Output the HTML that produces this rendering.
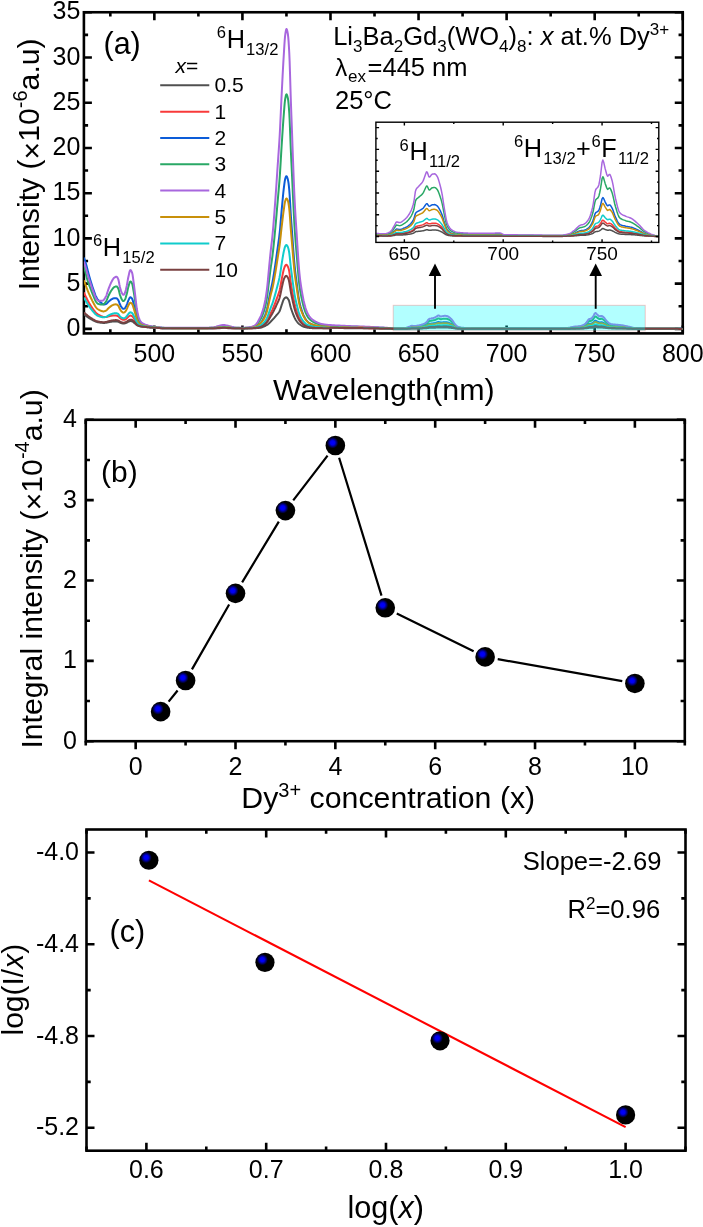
<!DOCTYPE html>
<html><head><meta charset="utf-8"><style>html,body{margin:0;padding:0;background:#fff;overflow:hidden;}svg{display:block;will-change:transform;}</style></head>
<body><svg width="703" height="1227" viewBox="0 0 703 1227" font-family='"Liberation Sans", sans-serif'>
<rect width="703" height="1227" fill="#fff"/>
<defs><clipPath id="ca"><rect x="83.9" y="12.25" width="598.85" height="321.15"/></clipPath>
<clipPath id="ci"><rect x="375.9" y="122.2" width="282.9" height="120.2"/></clipPath>
<radialGradient id="ball" cx="0.36" cy="0.36" r="0.5" fx="0.36" fy="0.36"><stop offset="0" stop-color="#0000ff"/><stop offset="0.22" stop-color="#0000ee"/><stop offset="0.58" stop-color="#000000"/><stop offset="1" stop-color="#000"/></radialGradient></defs>
<rect x="83.9" y="12.25" width="598.85" height="321.15" fill="none" stroke="#000" stroke-width="2.6"/>
<path d="M154.35 333.4V325.4M242.42 333.4V325.4M330.49 333.4V325.4M418.55 333.4V325.4M506.62 333.4V325.4M594.68 333.4V325.4M682.75 333.4V325.4" stroke="#000" stroke-width="2.6" fill="none"/>
<path d="M110.32 333.4V329.2M198.39 333.4V329.2M286.45 333.4V329.2M374.52 333.4V329.2M462.58 333.4V329.2M550.65 333.4V329.2M638.72 333.4V329.2" stroke="#000" stroke-width="2.6" fill="none"/>
<path d="M154.35 12.25V20.25M242.42 12.25V20.25M330.49 12.25V20.25M418.55 12.25V20.25M506.62 12.25V20.25M594.68 12.25V20.25M682.75 12.25V20.25" stroke="#000" stroke-width="2.6" fill="none"/>
<path d="M110.32 12.25V16.45M198.39 12.25V16.45M286.45 12.25V16.45M374.52 12.25V16.45M462.58 12.25V16.45M550.65 12.25V16.45M638.72 12.25V16.45" stroke="#000" stroke-width="2.6" fill="none"/>
<path d="M83.9 328.88H91.9M83.9 283.64H91.9M83.9 238.41H91.9M83.9 193.18H91.9M83.9 147.95H91.9M83.9 102.71H91.9M83.9 57.48H91.9M83.9 12.25H91.9" stroke="#000" stroke-width="2.6" fill="none"/>
<path d="M83.9 306.26H88.1M83.9 261.03H88.1M83.9 215.8H88.1M83.9 170.56H88.1M83.9 125.33H88.1M83.9 80.1H88.1M83.9 34.87H88.1" stroke="#000" stroke-width="2.6" fill="none"/>
<path d="M682.75 328.88H674.75M682.75 283.64H674.75M682.75 238.41H674.75M682.75 193.18H674.75M682.75 147.95H674.75M682.75 102.71H674.75M682.75 57.48H674.75M682.75 12.25H674.75" stroke="#000" stroke-width="2.6" fill="none"/>
<path d="M682.75 306.26H678.55M682.75 261.03H678.55M682.75 215.8H678.55M682.75 170.56H678.55M682.75 125.33H678.55M682.75 80.1H678.55M682.75 34.87H678.55" stroke="#000" stroke-width="2.6" fill="none"/>
<g clip-path="url(#ca)" fill="none" stroke-width="2" stroke-linejoin="round">
<path d="M83.9,314.25 L84.25,314.53 L84.6,314.81 L84.96,315.09 L85.31,315.36 L85.66,315.63 L86.01,315.9 L86.37,316.16 L86.72,316.42 L87.07,316.67 L87.42,316.93 L87.77,317.18 L88.13,317.42 L88.48,317.66 L88.83,317.88 L89.18,318.11 L89.54,318.32 L89.89,318.53 L90.24,318.74 L90.59,318.95 L90.95,319.15 L91.3,319.35 L91.65,319.55 L92,319.74 L92.35,319.93 L92.71,320.12 L93.06,320.31 L93.41,320.48 L93.76,320.66 L94.12,320.84 L94.47,321.02 L94.82,321.19 L95.17,321.35 L95.52,321.5 L95.88,321.64 L96.23,321.76 L96.58,321.87 L96.93,321.98 L97.29,322.08 L97.64,322.17 L97.99,322.24 L98.34,322.31 L98.7,322.37 L99.05,322.43 L99.4,322.49 L99.75,322.54 L100.1,322.59 L100.46,322.64 L100.81,322.68 L101.16,322.73 L101.51,322.77 L101.87,322.8 L102.22,322.84 L102.57,322.87 L102.92,322.91 L103.27,322.93 L103.63,322.93 L103.98,322.93 L104.33,322.92 L104.68,322.9 L105.04,322.87 L105.39,322.84 L105.74,322.81 L106.09,322.77 L106.44,322.71 L106.8,322.64 L107.15,322.56 L107.5,322.47 L107.85,322.38 L108.21,322.3 L108.56,322.23 L108.91,322.16 L109.26,322.09 L109.62,322.02 L109.97,321.95 L110.32,321.88 L110.67,321.82 L111.02,321.77 L111.38,321.72 L111.73,321.67 L112.08,321.62 L112.43,321.57 L112.79,321.53 L113.14,321.49 L113.49,321.46 L113.84,321.43 L114.19,321.42 L114.55,321.41 L114.9,321.4 L115.25,321.4 L115.6,321.39 L115.96,321.39 L116.31,321.4 L116.66,321.42 L117.01,321.46 L117.37,321.52 L117.72,321.6 L118.07,321.69 L118.42,321.79 L118.77,321.95 L119.13,322.15 L119.48,322.36 L119.83,322.53 L120.18,322.68 L120.54,322.82 L120.89,322.95 L121.24,323.07 L121.59,323.16 L121.94,323.25 L122.3,323.33 L122.65,323.4 L123,323.45 L123.35,323.47 L123.71,323.47 L124.06,323.44 L124.41,323.39 L124.76,323.34 L125.11,323.27 L125.47,323.17 L125.82,323.04 L126.17,322.89 L126.52,322.73 L126.88,322.56 L127.23,322.37 L127.58,322.16 L127.93,321.95 L128.29,321.77 L128.64,321.62 L128.99,321.46 L129.34,321.31 L129.69,321.19 L130.05,321.1 L130.4,321.07 L130.75,321.09 L131.1,321.14 L131.46,321.21 L131.81,321.29 L132.16,321.39 L132.51,321.55 L132.86,321.78 L133.22,322.06 L133.57,322.34 L133.92,322.61 L134.27,322.9 L134.63,323.2 L134.98,323.51 L135.33,323.81 L135.68,324.12 L136.04,324.45 L136.39,324.77 L136.74,325.04 L137.09,325.25 L137.44,325.43 L137.8,325.6 L138.15,325.76 L138.5,325.9 L138.85,326.02 L139.21,326.12 L139.56,326.2 L139.91,326.28 L140.26,326.34 L140.61,326.42 L140.97,326.49 L141.32,326.55 L141.67,326.6 L142.02,326.65 L142.38,326.7 L142.73,326.74 L143.08,326.79 L143.43,326.83 L143.78,326.87 L144.14,326.91 L144.49,326.94 L144.84,326.98 L145.19,327.02 L145.55,327.05 L145.9,327.08 L146.25,327.12 L146.6,327.15 L146.96,327.18 L147.31,327.21 L147.66,327.24 L148.01,327.27 L148.36,327.3 L148.72,327.33 L149.07,327.36 L149.42,327.39 L149.77,327.42 L150.13,327.45 L150.48,327.48 L150.83,327.51 L151.18,327.53 L151.53,327.56 L151.89,327.59 L152.24,327.61 L152.59,327.64 L152.94,327.67 L153.3,327.69 L153.65,327.72 L154,327.74 L154.35,327.77 L154.71,327.79 L155.06,327.81 L155.41,327.84 L155.76,327.86 L156.11,327.89 L156.47,327.91 L156.82,327.93 L157.17,327.96 L157.52,327.98 L157.88,328 L158.23,328.03 L158.58,328.05 L158.93,328.07 L159.28,328.1 L159.64,328.12 L159.99,328.14 L160.34,328.16 L160.69,328.19 L161.05,328.21 L161.4,328.23 L161.75,328.25 L162.1,328.27 L162.46,328.29 L162.81,328.31 L163.16,328.33 L164.92,328.35 L166.68,328.35 L168.44,328.35 L170.2,328.35 L171.97,328.35 L173.73,328.35 L175.49,328.35 L177.25,328.35 L179.01,328.35 L180.77,328.35 L182.53,328.36 L184.3,328.36 L186.06,328.36 L187.82,328.36 L189.58,328.36 L191.34,328.36 L193.1,328.36 L194.86,328.36 L196.62,328.36 L198.39,328.36 L200.15,328.36 L201.91,328.36 L203.67,328.36 L205.43,328.36 L207.19,328.35 L208.95,328.35 L210.72,328.34 L212.48,328.32 L214.24,328.29 L216,328.25 L217.76,328.2 L219.52,328.15 L221.28,328.1 L223.04,328.08 L224.81,328.08 L226.57,328.11 L228.33,328.16 L230.09,328.21 L231.85,328.26 L233.61,328.3 L235.37,328.32 L237.14,328.34 L238.9,328.35 L240.66,328.36 L242.42,328.36 L242.77,328.42 L243.12,328.42 L243.48,328.42 L243.83,328.42 L244.18,328.42 L244.53,328.42 L244.88,328.41 L245.24,328.41 L245.59,328.41 L245.94,328.4 L246.29,328.4 L246.65,328.4 L247,328.39 L247.35,328.39 L247.7,328.38 L248.06,328.37 L248.41,328.37 L248.76,328.36 L249.11,328.36 L249.46,328.35 L249.82,328.34 L250.17,328.33 L250.52,328.33 L250.87,328.32 L251.23,328.31 L251.58,328.3 L251.93,328.3 L252.28,328.29 L252.63,328.28 L252.99,328.27 L253.34,328.26 L253.69,328.25 L254.04,328.24 L254.4,328.22 L254.75,328.21 L255.1,328.19 L255.45,328.18 L255.81,328.16 L256.16,328.14 L256.51,328.12 L256.86,328.09 L257.21,328.07 L257.57,328.04 L257.92,328.01 L258.27,327.98 L258.62,327.95 L258.98,327.92 L259.33,327.88 L259.68,327.84 L260.03,327.8 L260.38,327.75 L260.74,327.68 L261.09,327.59 L261.44,327.49 L261.79,327.37 L262.15,327.24 L262.5,327.1 L262.85,326.95 L263.2,326.8 L263.56,326.64 L263.91,326.48 L264.26,326.32 L264.61,326.17 L264.96,326 L265.32,325.82 L265.67,325.64 L266.02,325.44 L266.37,325.24 L266.73,325.03 L267.08,324.8 L267.43,324.57 L267.78,324.32 L268.13,324.07 L268.49,323.79 L268.84,323.5 L269.19,323.17 L269.54,322.83 L269.9,322.48 L270.25,322.11 L270.6,321.74 L270.95,321.36 L271.3,320.97 L271.66,320.59 L272.01,320.21 L272.36,319.84 L272.71,319.47 L273.07,319.09 L273.42,318.72 L273.77,318.33 L274.12,317.95 L274.48,317.56 L274.83,317.16 L275.18,316.76 L275.53,316.36 L275.88,315.94 L276.24,315.52 L276.59,315.1 L276.94,314.7 L277.29,314.3 L277.65,313.9 L278,313.47 L278.35,313.03 L278.7,312.54 L279.05,312.01 L279.41,311.42 L279.76,310.75 L280.11,309.89 L280.46,308.87 L280.82,307.75 L281.17,306.59 L281.52,305.44 L281.87,304.36 L282.23,303.38 L282.58,302.34 L282.93,301.3 L283.28,300.33 L283.63,299.53 L283.99,298.96 L284.34,298.55 L284.69,298.17 L285.04,297.84 L285.4,297.58 L285.75,297.41 L286.1,297.34 L286.45,297.41 L286.8,297.6 L287.16,297.89 L287.51,298.28 L287.86,298.73 L288.21,299.23 L288.57,299.76 L288.92,300.53 L289.27,301.65 L289.62,303 L289.97,304.47 L290.33,305.94 L290.68,307.28 L291.03,308.41 L291.38,309.47 L291.74,310.5 L292.09,311.5 L292.44,312.47 L292.79,313.4 L293.15,314.3 L293.5,315.16 L293.85,315.99 L294.2,316.82 L294.55,317.62 L294.91,318.38 L295.26,319.08 L295.61,319.71 L295.96,320.27 L296.32,320.79 L296.67,321.28 L297.02,321.75 L297.37,322.19 L297.72,322.6 L298.08,322.99 L298.43,323.34 L298.78,323.67 L299.13,323.97 L299.49,324.24 L299.84,324.51 L300.19,324.77 L300.54,325.02 L300.9,325.25 L301.25,325.48 L301.6,325.7 L301.95,325.9 L302.3,326.09 L302.66,326.27 L303.01,326.43 L303.36,326.57 L303.71,326.7 L304.07,326.82 L304.42,326.92 L304.77,327.02 L305.12,327.11 L305.47,327.21 L305.83,327.29 L306.18,327.38 L306.53,327.46 L306.88,327.53 L307.24,327.6 L307.59,327.67 L307.94,327.73 L308.29,327.79 L308.64,327.84 L309,327.88 L309.35,327.92 L309.7,327.96 L310.05,327.99 L310.41,328.01 L310.76,328.04 L311.11,328.07 L311.46,328.09 L311.82,328.11 L312.17,328.14 L312.52,328.16 L312.87,328.18 L313.22,328.2 L313.58,328.22 L313.93,328.24 L314.28,328.26 L314.63,328.27 L314.99,328.29 L315.34,328.3 L315.69,328.31 L316.04,328.32 L316.39,328.33 L316.75,328.34 L317.1,328.34 L317.45,328.35 L317.8,328.35 L318.16,328.35 L318.51,328.35 L318.86,328.35 L319.21,328.35 L319.57,328.35 L319.92,328.35 L320.27,328.35 L320.62,328.35 L320.97,328.35 L321.33,328.35 L321.68,328.35 L322.03,328.34 L322.38,328.34 L322.74,328.34 L323.09,328.34 L323.44,328.34 L323.79,328.34 L324.14,328.34 L324.5,328.34 L324.85,328.34 L325.2,328.34 L325.55,328.34 L325.91,328.34 L326.26,328.34 L326.61,328.34 L326.96,328.34 L327.31,328.34 L327.67,328.34 L328.02,328.34 L328.37,328.34 L328.72,328.34 L329.08,328.34 L329.43,328.34 L329.78,328.33 L330.13,328.33 L330.49,328 L332.25,328.01 L334.01,328.03 L335.77,328.05 L337.53,328.07 L339.29,328.08 L341.05,328.1 L342.81,328.11 L344.58,328.13 L346.34,328.14 L348.1,328.15 L349.86,328.17 L351.62,328.18 L353.38,328.2 L355.14,328.21 L356.91,328.22 L358.67,328.24 L360.43,328.25 L362.19,328.26 L363.95,328.27 L365.71,328.29 L367.47,328.3 L369.23,328.32 L371,328.34 L372.76,328.36 L374.52,328.37 L376.28,328.41 L378.04,328.44 L379.8,328.47 L381.56,328.5 L383.33,328.53 L385.09,328.56 L386.85,328.59 L388.61,328.63 L390.37,328.66 L392.13,328.69 L393.89,328.72 L394.6,328.73 L395.3,328.74 L396.01,328.75 L396.71,328.76 L397.42,328.77 L398.12,328.78 L398.82,328.79 L399.53,328.8 L400.23,328.81 L400.94,328.82 L401.64,328.81 L402.35,328.81 L403.05,328.81 L403.76,328.8 L404.46,328.79 L405.17,328.78 L405.87,328.78 L406.57,328.76 L407.28,328.74 L407.98,328.71 L408.69,328.68 L409.39,328.65 L410.1,328.62 L410.8,328.58 L411.51,328.56 L412.21,328.56 L412.92,328.57 L413.62,328.57 L414.32,328.58 L415.03,328.57 L415.73,328.57 L416.44,328.55 L417.14,328.54 L417.85,328.53 L418.55,328.51 L419.26,328.5 L419.96,328.48 L420.67,328.46 L421.37,328.44 L422.07,328.42 L422.78,328.4 L423.48,328.37 L424.19,328.34 L424.89,328.3 L425.6,328.25 L426.3,328.2 L427.01,328.13 L427.71,328.01 L428.41,327.9 L429.12,327.85 L429.82,327.83 L430.53,327.81 L431.23,327.79 L431.94,327.77 L432.64,327.76 L433.35,327.74 L434.05,327.72 L434.76,327.7 L435.46,327.66 L436.16,327.62 L436.87,327.57 L437.57,327.52 L438.28,327.48 L438.98,327.49 L439.69,327.54 L440.39,327.58 L441.1,327.59 L441.8,327.57 L442.51,327.55 L443.21,327.53 L443.91,327.53 L444.62,327.52 L445.32,327.52 L446.03,327.53 L446.73,327.54 L447.44,327.56 L448.14,327.59 L448.85,327.64 L449.55,327.7 L450.26,327.76 L450.96,327.82 L451.66,327.9 L452.37,327.99 L453.07,328.1 L453.78,328.22 L454.48,328.32 L455.19,328.42 L455.89,328.51 L456.6,328.57 L457.3,328.62 L458.01,328.65 L458.71,328.68 L459.41,328.71 L460.12,328.72 L460.82,328.74 L461.53,328.75 L462.23,328.76 L462.94,328.76 L463.64,328.77 L464.35,328.78 L465.05,328.78 L465.75,328.79 L466.46,328.79 L467.16,328.79 L467.87,328.79 L468.57,328.79 L469.28,328.8 L469.98,328.8 L470.69,328.8 L471.39,328.8 L472.1,328.8 L472.8,328.8 L473.5,328.8 L474.21,328.8 L474.91,328.8 L475.62,328.8 L476.32,328.8 L477.03,328.81 L477.73,328.81 L478.44,328.81 L479.14,328.81 L479.85,328.81 L480.55,328.81 L481.25,328.81 L481.96,328.81 L482.66,328.81 L483.37,328.81 L484.07,328.81 L484.78,328.81 L485.48,328.81 L486.19,328.81 L486.89,328.81 L487.6,328.81 L488.3,328.81 L489,328.81 L489.71,328.81 L490.41,328.81 L491.12,328.81 L491.82,328.81 L492.53,328.81 L493.23,328.81 L493.94,328.8 L494.64,328.8 L495.35,328.8 L496.05,328.8 L496.75,328.8 L497.46,328.8 L498.16,328.8 L498.87,328.8 L499.57,328.8 L500.28,328.8 L500.98,328.8 L501.69,328.8 L502.39,328.8 L503.09,328.8 L503.8,328.8 L504.5,328.8 L505.21,328.81 L505.91,328.83 L506.62,328.83 L507.32,328.84 L508.03,328.84 L508.73,328.84 L509.44,328.84 L510.14,328.84 L510.84,328.84 L511.55,328.84 L512.25,328.84 L512.96,328.84 L513.66,328.84 L514.37,328.84 L515.07,328.84 L515.78,328.84 L516.48,328.84 L517.19,328.84 L517.89,328.84 L518.59,328.84 L519.3,328.84 L520,328.84 L520.71,328.84 L521.41,328.84 L522.12,328.84 L522.82,328.84 L523.53,328.84 L524.23,328.84 L524.94,328.84 L525.64,328.84 L526.34,328.84 L527.05,328.84 L527.75,328.84 L528.46,328.84 L529.16,328.84 L529.87,328.84 L530.57,328.84 L531.28,328.84 L531.98,328.84 L532.69,328.84 L533.39,328.85 L534.09,328.85 L534.8,328.85 L535.5,328.85 L536.21,328.85 L536.91,328.85 L537.62,328.85 L538.32,328.85 L539.03,328.85 L539.73,328.85 L540.44,328.85 L541.14,328.85 L541.84,328.85 L542.55,328.85 L543.25,328.85 L543.96,328.85 L544.66,328.85 L545.37,328.85 L546.07,328.85 L546.78,328.85 L547.48,328.85 L548.18,328.85 L548.89,328.85 L549.59,328.85 L550.3,328.85 L551,328.85 L551.71,328.85 L552.41,328.85 L553.12,328.85 L553.82,328.85 L554.53,328.85 L555.23,328.85 L555.93,328.85 L556.64,328.85 L557.34,328.85 L558.05,328.85 L558.75,328.85 L559.46,328.85 L560.16,328.84 L560.87,328.84 L561.57,328.84 L562.28,328.84 L562.98,328.83 L563.68,328.83 L564.39,328.82 L565.09,328.82 L565.8,328.81 L566.5,328.8 L567.21,328.79 L567.91,328.78 L568.62,328.77 L569.32,328.75 L570.03,328.74 L570.73,328.73 L571.43,328.71 L572.14,328.69 L572.84,328.68 L573.55,328.66 L574.25,328.65 L574.96,328.64 L575.66,328.63 L576.37,328.62 L577.07,328.62 L577.78,328.62 L578.48,328.61 L579.18,328.6 L579.89,328.59 L580.59,328.57 L581.3,328.55 L582,328.53 L582.71,328.51 L583.41,328.47 L584.12,328.43 L584.82,328.37 L585.52,328.31 L586.23,328.25 L586.93,328.16 L587.64,328.04 L588.34,327.92 L589.05,327.86 L589.75,327.84 L590.46,327.82 L591.16,327.8 L591.87,327.76 L592.57,327.67 L593.27,327.56 L593.98,327.42 L594.68,327.28 L595.39,327.22 L596.09,327.27 L596.8,327.34 L597.5,327.42 L598.21,327.48 L598.91,327.54 L599.62,327.58 L600.32,327.56 L601.02,327.53 L601.73,327.54 L602.43,327.58 L603.14,327.63 L603.84,327.69 L604.55,327.77 L605.25,327.87 L605.96,327.97 L606.66,328.05 L607.37,328.13 L608.07,328.2 L608.77,328.26 L609.48,328.32 L610.18,328.35 L610.89,328.37 L611.59,328.39 L612.3,328.4 L613,328.41 L613.71,328.42 L614.41,328.42 L615.12,328.43 L615.82,328.44 L616.52,328.45 L617.23,328.45 L617.93,328.46 L618.64,328.46 L619.34,328.47 L620.05,328.48 L620.75,328.49 L621.46,328.5 L622.16,328.51 L622.86,328.52 L623.57,328.53 L624.27,328.55 L624.98,328.56 L625.68,328.58 L626.39,328.6 L627.09,328.61 L627.8,328.63 L628.5,328.65 L629.21,328.66 L629.91,328.68 L630.61,328.7 L631.32,328.72 L632.02,328.74 L632.73,328.75 L633.43,328.76 L634.14,328.77 L634.84,328.78 L635.55,328.79 L636.25,328.8 L636.96,328.81 L637.66,328.82 L638.36,328.82 L639.07,328.83 L639.77,328.84 L640.48,328.84 L641.18,328.85 L641.89,328.85 L642.59,328.86 L643.3,328.86 L644,328.86 L644.71,328.87 L645.41,328.87 L645.76,328.87 L647.52,328.87 L649.28,328.87 L651.05,328.87 L652.81,328.87 L654.57,328.87 L656.33,328.87 L658.09,328.87 L659.85,328.87 L661.61,328.87 L663.38,328.87 L665.14,328.87 L666.9,328.87 L668.66,328.87 L670.42,328.87 L672.18,328.87 L673.94,328.87 L675.7,328.88 L677.47,328.88 L679.23,328.88 L680.99,328.88 L682.75,328.88" stroke="#505050"/>
<path d="M83.9,292.41 L84.25,293.23 L84.6,294.03 L84.96,294.81 L85.31,295.58 L85.66,296.34 L86.01,297.08 L86.37,297.81 L86.72,298.53 L87.07,299.24 L87.42,299.93 L87.77,300.61 L88.13,301.28 L88.48,301.92 L88.83,302.55 L89.18,303.16 L89.54,303.75 L89.89,304.33 L90.24,304.89 L90.59,305.45 L90.95,306 L91.3,306.54 L91.65,307.07 L92,307.59 L92.35,308.1 L92.71,308.6 L93.06,309.09 L93.41,309.56 L93.76,310.03 L94.12,310.5 L94.47,310.96 L94.82,311.4 L95.17,311.83 L95.52,312.23 L95.88,312.6 L96.23,312.94 L96.58,313.27 L96.93,313.58 L97.29,313.87 L97.64,314.14 L97.99,314.38 L98.34,314.6 L98.7,314.81 L99.05,315.02 L99.4,315.21 L99.75,315.4 L100.1,315.57 L100.46,315.74 L100.81,315.91 L101.16,316.06 L101.51,316.22 L101.87,316.36 L102.22,316.5 L102.57,316.64 L102.92,316.76 L103.27,316.87 L103.63,316.94 L103.98,317 L104.33,317.04 L104.68,317.06 L105.04,317.08 L105.39,317.08 L105.74,317.08 L106.09,317.06 L106.44,317 L106.8,316.91 L107.15,316.81 L107.5,316.7 L107.85,316.58 L108.21,316.48 L108.56,316.38 L108.91,316.3 L109.26,316.21 L109.62,316.12 L109.97,316.04 L110.32,315.95 L110.67,315.88 L111.02,315.81 L111.38,315.75 L111.73,315.7 L112.08,315.64 L112.43,315.59 L112.79,315.54 L113.14,315.5 L113.49,315.47 L113.84,315.46 L114.19,315.46 L114.55,315.47 L114.9,315.48 L115.25,315.5 L115.6,315.52 L115.96,315.55 L116.31,315.59 L116.66,315.64 L117.01,315.74 L117.37,315.88 L117.72,316.05 L118.07,316.23 L118.42,316.44 L118.77,316.77 L119.13,317.16 L119.48,317.56 L119.83,317.91 L120.18,318.2 L120.54,318.48 L120.89,318.74 L121.24,318.98 L121.59,319.17 L121.94,319.34 L122.3,319.51 L122.65,319.66 L123,319.77 L123.35,319.83 L123.71,319.83 L124.06,319.79 L124.41,319.72 L124.76,319.63 L125.11,319.52 L125.47,319.34 L125.82,319.11 L126.17,318.84 L126.52,318.55 L126.88,318.26 L127.23,317.91 L127.58,317.53 L127.93,317.15 L128.29,316.82 L128.64,316.55 L128.99,316.27 L129.34,316.01 L129.69,315.78 L130.05,315.63 L130.4,315.58 L130.75,315.63 L131.1,315.72 L131.46,315.86 L131.81,316.03 L132.16,316.21 L132.51,316.51 L132.86,316.96 L133.22,317.49 L133.57,318.01 L133.92,318.52 L134.27,319.07 L134.63,319.63 L134.98,320.21 L135.33,320.77 L135.68,321.36 L136.04,321.98 L136.39,322.58 L136.74,323.09 L137.09,323.48 L137.44,323.84 L137.8,324.16 L138.15,324.46 L138.5,324.72 L138.85,324.95 L139.21,325.14 L139.56,325.3 L139.91,325.44 L140.26,325.56 L140.61,325.69 L140.97,325.81 L141.32,325.91 L141.67,325.99 L142.02,326.07 L142.38,326.14 L142.73,326.21 L143.08,326.27 L143.43,326.33 L143.78,326.39 L144.14,326.45 L144.49,326.5 L144.84,326.56 L145.19,326.61 L145.55,326.65 L145.9,326.7 L146.25,326.75 L146.6,326.79 L146.96,326.83 L147.31,326.88 L147.66,326.92 L148.01,326.96 L148.36,327 L148.72,327.04 L149.07,327.08 L149.42,327.12 L149.77,327.16 L150.13,327.19 L150.48,327.23 L150.83,327.27 L151.18,327.3 L151.53,327.34 L151.89,327.37 L152.24,327.4 L152.59,327.43 L152.94,327.47 L153.3,327.5 L153.65,327.53 L154,327.56 L154.35,327.59 L154.71,327.62 L155.06,327.64 L155.41,327.67 L155.76,327.7 L156.11,327.73 L156.47,327.76 L156.82,327.78 L157.17,327.81 L157.52,327.84 L157.88,327.86 L158.23,327.89 L158.58,327.92 L158.93,327.94 L159.28,327.97 L159.64,327.99 L159.99,328.02 L160.34,328.04 L160.69,328.07 L161.05,328.09 L161.4,328.11 L161.75,328.13 L162.1,328.16 L162.46,328.18 L162.81,328.2 L163.16,328.22 L164.92,328.24 L166.68,328.25 L168.44,328.26 L170.2,328.26 L171.97,328.26 L173.73,328.27 L175.49,328.27 L177.25,328.27 L179.01,328.27 L180.77,328.28 L182.53,328.28 L184.3,328.28 L186.06,328.28 L187.82,328.28 L189.58,328.29 L191.34,328.29 L193.1,328.29 L194.86,328.29 L196.62,328.29 L198.39,328.29 L200.15,328.29 L201.91,328.29 L203.67,328.29 L205.43,328.29 L207.19,328.28 L208.95,328.27 L210.72,328.25 L212.48,328.21 L214.24,328.15 L216,328.06 L217.76,327.96 L219.52,327.85 L221.28,327.76 L223.04,327.72 L224.81,327.72 L226.57,327.78 L228.33,327.87 L230.09,327.98 L231.85,328.08 L233.61,328.16 L235.37,328.22 L237.14,328.26 L238.9,328.27 L240.66,328.28 L242.42,328.29 L242.77,328.36 L243.12,328.36 L243.48,328.35 L243.83,328.35 L244.18,328.35 L244.53,328.34 L244.88,328.34 L245.24,328.33 L245.59,328.33 L245.94,328.32 L246.29,328.31 L246.65,328.31 L247,328.3 L247.35,328.29 L247.7,328.28 L248.06,328.27 L248.41,328.26 L248.76,328.25 L249.11,328.24 L249.46,328.23 L249.82,328.22 L250.17,328.2 L250.52,328.19 L250.87,328.17 L251.23,328.16 L251.58,328.14 L251.93,328.11 L252.28,328.09 L252.63,328.07 L252.99,328.04 L253.34,328.01 L253.69,327.98 L254.04,327.95 L254.4,327.92 L254.75,327.87 L255.1,327.83 L255.45,327.78 L255.81,327.73 L256.16,327.67 L256.51,327.6 L256.86,327.54 L257.21,327.46 L257.57,327.37 L257.92,327.28 L258.27,327.18 L258.62,327.07 L258.98,326.97 L259.33,326.86 L259.68,326.75 L260.03,326.64 L260.38,326.51 L260.74,326.35 L261.09,326.17 L261.44,325.97 L261.79,325.75 L262.15,325.51 L262.5,325.25 L262.85,324.98 L263.2,324.7 L263.56,324.4 L263.91,324.09 L264.26,323.78 L264.61,323.45 L264.96,323.11 L265.32,322.73 L265.67,322.33 L266.02,321.9 L266.37,321.44 L266.73,320.95 L267.08,320.43 L267.43,319.86 L267.78,319.23 L268.13,318.56 L268.49,317.87 L268.84,317.16 L269.19,316.44 L269.54,315.7 L269.9,314.95 L270.25,314.19 L270.6,313.44 L270.95,312.71 L271.3,312 L271.66,311.3 L272.01,310.59 L272.36,309.86 L272.71,309.08 L273.07,308.28 L273.42,307.46 L273.77,306.61 L274.12,305.74 L274.48,304.85 L274.83,303.96 L275.18,303.05 L275.53,302.12 L275.88,301.16 L276.24,300.17 L276.59,299.19 L276.94,298.21 L277.29,297.24 L277.65,296.27 L278,295.3 L278.35,294.31 L278.7,293.28 L279.05,292.18 L279.41,290.99 L279.76,289.66 L280.11,288.06 L280.46,286.21 L280.82,284.23 L281.17,282.22 L281.52,280.29 L281.87,278.43 L282.23,276.67 L282.58,274.87 L282.93,273.1 L283.28,271.44 L283.63,269.98 L283.99,268.78 L284.34,267.73 L284.69,266.78 L285.04,266 L285.4,265.45 L285.75,265.03 L286.1,264.78 L286.45,264.78 L286.8,265.02 L287.16,265.43 L287.51,265.99 L287.86,266.66 L288.21,267.47 L288.57,268.49 L288.92,269.86 L289.27,271.67 L289.62,273.94 L289.97,276.6 L290.33,279.37 L290.68,281.98 L291.03,284.23 L291.38,286.34 L291.74,288.4 L292.09,290.44 L292.44,292.48 L292.79,294.51 L293.15,296.46 L293.5,298.32 L293.85,300.13 L294.2,301.89 L294.55,303.55 L294.91,305.06 L295.26,306.45 L295.61,307.72 L295.96,308.87 L296.32,309.98 L296.67,311.05 L297.02,312.11 L297.37,313.15 L297.72,314.17 L298.08,315.14 L298.43,316.06 L298.78,316.9 L299.13,317.65 L299.49,318.32 L299.84,318.95 L300.19,319.53 L300.54,320.07 L300.9,320.58 L301.25,321.06 L301.6,321.51 L301.95,321.93 L302.3,322.34 L302.66,322.73 L303.01,323.1 L303.36,323.44 L303.71,323.74 L304.07,324.02 L304.42,324.28 L304.77,324.53 L305.12,324.76 L305.47,324.98 L305.83,325.19 L306.18,325.38 L306.53,325.56 L306.88,325.73 L307.24,325.89 L307.59,326.04 L307.94,326.18 L308.29,326.31 L308.64,326.42 L309,326.53 L309.35,326.62 L309.7,326.71 L310.05,326.79 L310.41,326.86 L310.76,326.93 L311.11,326.99 L311.46,327.05 L311.82,327.11 L312.17,327.17 L312.52,327.22 L312.87,327.27 L313.22,327.32 L313.58,327.37 L313.93,327.41 L314.28,327.45 L314.63,327.49 L314.99,327.53 L315.34,327.57 L315.69,327.6 L316.04,327.63 L316.39,327.66 L316.75,327.68 L317.1,327.7 L317.45,327.72 L317.8,327.74 L318.16,327.76 L318.51,327.77 L318.86,327.79 L319.21,327.8 L319.57,327.82 L319.92,327.83 L320.27,327.84 L320.62,327.85 L320.97,327.86 L321.33,327.87 L321.68,327.88 L322.03,327.89 L322.38,327.9 L322.74,327.91 L323.09,327.91 L323.44,327.92 L323.79,327.92 L324.14,327.93 L324.5,327.93 L324.85,327.94 L325.2,327.94 L325.55,327.95 L325.91,327.95 L326.26,327.96 L326.61,327.96 L326.96,327.96 L327.31,327.97 L327.67,327.97 L328.02,327.97 L328.37,327.97 L328.72,327.98 L329.08,327.98 L329.43,327.98 L329.78,327.98 L330.13,327.99 L330.49,327.64 L332.25,327.67 L334.01,327.7 L335.77,327.73 L337.53,327.76 L339.29,327.78 L341.05,327.81 L342.81,327.83 L344.58,327.85 L346.34,327.87 L348.1,327.89 L349.86,327.91 L351.62,327.93 L353.38,327.95 L355.14,327.98 L356.91,328 L358.67,328.01 L360.43,328.03 L362.19,328.05 L363.95,328.07 L365.71,328.09 L367.47,328.11 L369.23,328.13 L371,328.16 L372.76,328.2 L374.52,328.23 L376.28,328.27 L378.04,328.3 L379.8,328.34 L381.56,328.38 L383.33,328.42 L385.09,328.46 L386.85,328.5 L388.61,328.54 L390.37,328.58 L392.13,328.62 L393.89,328.66 L394.6,328.67 L395.3,328.68 L396.01,328.69 L396.71,328.7 L397.42,328.71 L398.12,328.72 L398.82,328.73 L399.53,328.74 L400.23,328.74 L400.94,328.75 L401.64,328.75 L402.35,328.74 L403.05,328.73 L403.76,328.72 L404.46,328.71 L405.17,328.69 L405.87,328.67 L406.57,328.64 L407.28,328.6 L407.98,328.54 L408.69,328.48 L409.39,328.41 L410.1,328.35 L410.8,328.28 L411.51,328.23 L412.21,328.23 L412.92,328.25 L413.62,328.26 L414.32,328.26 L415.03,328.25 L415.73,328.24 L416.44,328.22 L417.14,328.19 L417.85,328.16 L418.55,328.13 L419.26,328.1 L419.96,328.07 L420.67,328.03 L421.37,327.99 L422.07,327.94 L422.78,327.89 L423.48,327.83 L424.19,327.77 L424.89,327.69 L425.6,327.6 L426.3,327.48 L427.01,327.35 L427.71,327.11 L428.41,326.87 L429.12,326.78 L429.82,326.73 L430.53,326.7 L431.23,326.66 L431.94,326.62 L432.64,326.58 L433.35,326.55 L434.05,326.51 L434.76,326.46 L435.46,326.39 L436.16,326.3 L436.87,326.2 L437.57,326.1 L438.28,326.02 L438.98,326.03 L439.69,326.13 L440.39,326.23 L441.1,326.24 L441.8,326.21 L442.51,326.16 L443.21,326.12 L443.91,326.11 L444.62,326.11 L445.32,326.1 L446.03,326.11 L446.73,326.14 L447.44,326.19 L448.14,326.25 L448.85,326.34 L449.55,326.46 L450.26,326.59 L450.96,326.72 L451.66,326.88 L452.37,327.06 L453.07,327.28 L453.78,327.53 L454.48,327.74 L455.19,327.94 L455.89,328.13 L456.6,328.26 L457.3,328.34 L458.01,328.42 L458.71,328.48 L459.41,328.53 L460.12,328.56 L460.82,328.59 L461.53,328.61 L462.23,328.63 L462.94,328.65 L463.64,328.66 L464.35,328.67 L465.05,328.68 L465.75,328.69 L466.46,328.7 L467.16,328.7 L467.87,328.7 L468.57,328.71 L469.28,328.71 L469.98,328.71 L470.69,328.71 L471.39,328.72 L472.1,328.72 L472.8,328.72 L473.5,328.72 L474.21,328.72 L474.91,328.73 L475.62,328.73 L476.32,328.73 L477.03,328.73 L477.73,328.73 L478.44,328.73 L479.14,328.73 L479.85,328.73 L480.55,328.73 L481.25,328.73 L481.96,328.73 L482.66,328.73 L483.37,328.73 L484.07,328.73 L484.78,328.73 L485.48,328.73 L486.19,328.73 L486.89,328.73 L487.6,328.73 L488.3,328.73 L489,328.73 L489.71,328.73 L490.41,328.73 L491.12,328.73 L491.82,328.73 L492.53,328.73 L493.23,328.73 L493.94,328.73 L494.64,328.73 L495.35,328.73 L496.05,328.73 L496.75,328.73 L497.46,328.73 L498.16,328.73 L498.87,328.73 L499.57,328.73 L500.28,328.73 L500.98,328.73 L501.69,328.73 L502.39,328.73 L503.09,328.73 L503.8,328.73 L504.5,328.73 L505.21,328.75 L505.91,328.77 L506.62,328.79 L507.32,328.79 L508.03,328.79 L508.73,328.8 L509.44,328.8 L510.14,328.8 L510.84,328.8 L511.55,328.8 L512.25,328.8 L512.96,328.8 L513.66,328.8 L514.37,328.8 L515.07,328.8 L515.78,328.8 L516.48,328.8 L517.19,328.8 L517.89,328.8 L518.59,328.8 L519.3,328.8 L520,328.8 L520.71,328.8 L521.41,328.8 L522.12,328.81 L522.82,328.81 L523.53,328.81 L524.23,328.81 L524.94,328.81 L525.64,328.81 L526.34,328.81 L527.05,328.81 L527.75,328.81 L528.46,328.81 L529.16,328.81 L529.87,328.81 L530.57,328.81 L531.28,328.81 L531.98,328.81 L532.69,328.81 L533.39,328.81 L534.09,328.81 L534.8,328.81 L535.5,328.81 L536.21,328.81 L536.91,328.81 L537.62,328.81 L538.32,328.81 L539.03,328.81 L539.73,328.81 L540.44,328.81 L541.14,328.81 L541.84,328.82 L542.55,328.82 L543.25,328.82 L543.96,328.82 L544.66,328.82 L545.37,328.82 L546.07,328.82 L546.78,328.82 L547.48,328.82 L548.18,328.82 L548.89,328.82 L549.59,328.82 L550.3,328.82 L551,328.82 L551.71,328.82 L552.41,328.82 L553.12,328.82 L553.82,328.82 L554.53,328.82 L555.23,328.82 L555.93,328.82 L556.64,328.82 L557.34,328.82 L558.05,328.82 L558.75,328.82 L559.46,328.82 L560.16,328.81 L560.87,328.81 L561.57,328.8 L562.28,328.79 L562.98,328.78 L563.68,328.78 L564.39,328.77 L565.09,328.76 L565.8,328.74 L566.5,328.72 L567.21,328.7 L567.91,328.68 L568.62,328.65 L569.32,328.63 L570.03,328.6 L570.73,328.57 L571.43,328.54 L572.14,328.5 L572.84,328.47 L573.55,328.43 L574.25,328.4 L574.96,328.38 L575.66,328.37 L576.37,328.36 L577.07,328.35 L577.78,328.34 L578.48,328.33 L579.18,328.31 L579.89,328.29 L580.59,328.25 L581.3,328.21 L582,328.17 L582.71,328.12 L583.41,328.05 L584.12,327.96 L584.82,327.85 L585.52,327.72 L586.23,327.59 L586.93,327.41 L587.64,327.15 L588.34,326.92 L589.05,326.8 L589.75,326.75 L590.46,326.72 L591.16,326.68 L591.87,326.58 L592.57,326.4 L593.27,326.19 L593.98,325.9 L594.68,325.6 L595.39,325.49 L596.09,325.58 L596.8,325.73 L597.5,325.89 L598.21,326.01 L598.91,326.14 L599.62,326.21 L600.32,326.18 L601.02,326.13 L601.73,326.13 L602.43,326.21 L603.14,326.32 L603.84,326.44 L604.55,326.62 L605.25,326.82 L605.96,327.02 L606.66,327.19 L607.37,327.34 L608.07,327.49 L608.77,327.62 L609.48,327.73 L610.18,327.8 L610.89,327.84 L611.59,327.87 L612.3,327.9 L613,327.92 L613.71,327.93 L614.41,327.95 L615.12,327.96 L615.82,327.98 L616.52,328 L617.23,328.01 L617.93,328.02 L618.64,328.03 L619.34,328.04 L620.05,328.06 L620.75,328.08 L621.46,328.1 L622.16,328.12 L622.86,328.15 L623.57,328.18 L624.27,328.21 L624.98,328.24 L625.68,328.27 L626.39,328.3 L627.09,328.33 L627.8,328.37 L628.5,328.4 L629.21,328.44 L629.91,328.48 L630.61,328.52 L631.32,328.56 L632.02,328.59 L632.73,328.62 L633.43,328.64 L634.14,328.67 L634.84,328.69 L635.55,328.71 L636.25,328.72 L636.96,328.74 L637.66,328.75 L638.36,328.77 L639.07,328.78 L639.77,328.79 L640.48,328.81 L641.18,328.82 L641.89,328.83 L642.59,328.84 L643.3,328.84 L644,328.85 L644.71,328.86 L645.41,328.86 L645.76,328.86 L647.52,328.86 L649.28,328.86 L651.05,328.86 L652.81,328.86 L654.57,328.86 L656.33,328.86 L658.09,328.86 L659.85,328.87 L661.61,328.87 L663.38,328.87 L665.14,328.87 L666.9,328.87 L668.66,328.87 L670.42,328.87 L672.18,328.87 L673.94,328.87 L675.7,328.87 L677.47,328.87 L679.23,328.88 L680.99,328.88 L682.75,328.88" stroke="#f83a3a"/>
<path d="M83.9,257.67 L84.25,258.64 L84.6,259.65 L84.96,260.7 L85.31,261.79 L85.66,262.92 L86.01,264.09 L86.37,265.31 L86.72,266.58 L87.07,267.9 L87.42,269.26 L87.77,270.66 L88.13,272.07 L88.48,273.42 L88.83,274.74 L89.18,276.02 L89.54,277.26 L89.89,278.48 L90.24,279.68 L90.59,280.85 L90.95,282.02 L91.3,283.16 L91.65,284.3 L92,285.41 L92.35,286.5 L92.71,287.57 L93.06,288.61 L93.41,289.62 L93.76,290.63 L94.12,291.63 L94.47,292.63 L94.82,293.59 L95.17,294.51 L95.52,295.37 L95.88,296.16 L96.23,296.86 L96.58,297.53 L96.93,298.17 L97.29,298.76 L97.64,299.3 L97.99,299.76 L98.34,300.18 L98.7,300.59 L99.05,300.97 L99.4,301.34 L99.75,301.68 L100.1,302.01 L100.46,302.31 L100.81,302.61 L101.16,302.89 L101.51,303.16 L101.87,303.42 L102.22,303.67 L102.57,303.91 L102.92,304.13 L103.27,304.29 L103.63,304.39 L103.98,304.43 L104.33,304.43 L104.68,304.39 L105.04,304.32 L105.39,304.24 L105.74,304.14 L106.09,303.99 L106.44,303.75 L106.8,303.44 L107.15,303.08 L107.5,302.7 L107.85,302.32 L108.21,301.95 L108.56,301.63 L108.91,301.34 L109.26,301.03 L109.62,300.73 L109.97,300.44 L110.32,300.15 L110.67,299.89 L111.02,299.65 L111.38,299.43 L111.73,299.23 L112.08,299.03 L112.43,298.83 L112.79,298.65 L113.14,298.49 L113.49,298.36 L113.84,298.27 L114.19,298.23 L114.55,298.21 L114.9,298.19 L115.25,298.19 L115.6,298.2 L115.96,298.23 L116.31,298.29 L116.66,298.39 L117.01,298.62 L117.37,298.94 L117.72,299.35 L118.07,299.8 L118.42,300.32 L118.77,301.14 L119.13,302.15 L119.48,303.17 L119.83,304.05 L120.18,304.79 L120.54,305.51 L120.89,306.18 L121.24,306.76 L121.59,307.25 L121.94,307.68 L122.3,308.09 L122.65,308.45 L123,308.72 L123.35,308.85 L123.71,308.84 L124.06,308.71 L124.41,308.49 L124.76,308.23 L125.11,307.92 L125.47,307.43 L125.82,306.79 L126.17,306.06 L126.52,305.29 L126.88,304.5 L127.23,303.56 L127.58,302.53 L127.93,301.52 L128.29,300.62 L128.64,299.89 L128.99,299.14 L129.34,298.42 L129.69,297.81 L130.05,297.39 L130.4,297.26 L130.75,297.36 L131.1,297.6 L131.46,297.95 L131.81,298.38 L132.16,298.86 L132.51,299.63 L132.86,300.81 L133.22,302.19 L133.57,303.55 L133.92,304.9 L134.27,306.33 L134.63,307.82 L134.98,309.32 L135.33,310.8 L135.68,312.35 L136.04,313.98 L136.39,315.54 L136.74,316.89 L137.09,317.92 L137.44,318.84 L137.8,319.69 L138.15,320.47 L138.5,321.15 L138.85,321.75 L139.21,322.25 L139.56,322.66 L139.91,323.02 L140.26,323.35 L140.61,323.65 L140.97,323.91 L141.32,324.14 L141.67,324.33 L142.02,324.49 L142.38,324.64 L142.73,324.78 L143.08,324.92 L143.43,325.04 L143.78,325.16 L144.14,325.27 L144.49,325.38 L144.84,325.47 L145.19,325.57 L145.55,325.66 L145.9,325.74 L146.25,325.82 L146.6,325.9 L146.96,325.98 L147.31,326.05 L147.66,326.12 L148.01,326.2 L148.36,326.26 L148.72,326.33 L149.07,326.4 L149.42,326.46 L149.77,326.53 L150.13,326.59 L150.48,326.64 L150.83,326.7 L151.18,326.76 L151.53,326.81 L151.89,326.86 L152.24,326.91 L152.59,326.96 L152.94,327.01 L153.3,327.06 L153.65,327.1 L154,327.14 L154.35,327.18 L154.71,327.22 L155.06,327.26 L155.41,327.3 L155.76,327.34 L156.11,327.37 L156.47,327.41 L156.82,327.45 L157.17,327.48 L157.52,327.52 L157.88,327.55 L158.23,327.58 L158.58,327.62 L158.93,327.65 L159.28,327.68 L159.64,327.71 L159.99,327.74 L160.34,327.77 L160.69,327.8 L161.05,327.82 L161.4,327.85 L161.75,327.87 L162.1,327.89 L162.46,327.91 L162.81,327.93 L163.16,327.95 L164.92,328.02 L166.68,328.03 L168.44,328.04 L170.2,328.04 L171.97,328.05 L173.73,328.06 L175.49,328.06 L177.25,328.07 L179.01,328.07 L180.77,328.08 L182.53,328.08 L184.3,328.08 L186.06,328.08 L187.82,328.09 L189.58,328.1 L191.34,328.1 L193.1,328.1 L194.86,328.1 L196.62,328.1 L198.39,328.1 L200.15,328.1 L201.91,328.1 L203.67,328.1 L205.43,328.1 L207.19,328.08 L208.95,328.06 L210.72,328.01 L212.48,327.92 L214.24,327.77 L216,327.57 L217.76,327.32 L219.52,327.06 L221.28,326.85 L223.04,326.73 L224.81,326.74 L226.57,326.88 L228.33,327.11 L230.09,327.37 L231.85,327.61 L233.61,327.8 L235.37,327.94 L237.14,328.02 L238.9,328.06 L240.66,328.09 L242.42,328.1 L242.77,328.17 L243.12,328.16 L243.48,328.16 L243.83,328.15 L244.18,328.15 L244.53,328.14 L244.88,328.13 L245.24,328.12 L245.59,328.11 L245.94,328.09 L246.29,328.08 L246.65,328.06 L247,328.05 L247.35,328.03 L247.7,328.01 L248.06,327.99 L248.41,327.97 L248.76,327.95 L249.11,327.92 L249.46,327.9 L249.82,327.87 L250.17,327.85 L250.52,327.81 L250.87,327.77 L251.23,327.73 L251.58,327.68 L251.93,327.62 L252.28,327.55 L252.63,327.49 L252.99,327.41 L253.34,327.34 L253.69,327.26 L254.04,327.17 L254.4,327.07 L254.75,326.95 L255.1,326.82 L255.45,326.68 L255.81,326.53 L256.16,326.36 L256.51,326.19 L256.86,326 L257.21,325.79 L257.57,325.53 L257.92,325.25 L258.27,324.95 L258.62,324.65 L258.98,324.35 L259.33,324.04 L259.68,323.73 L260.03,323.41 L260.38,323.06 L260.74,322.68 L261.09,322.26 L261.44,321.8 L261.79,321.3 L262.15,320.76 L262.5,320.19 L262.85,319.59 L263.2,318.95 L263.56,318.27 L263.91,317.56 L264.26,316.82 L264.61,316.04 L264.96,315.21 L265.32,314.3 L265.67,313.3 L266.02,312.22 L266.37,311.05 L266.73,309.81 L267.08,308.49 L267.43,307 L267.78,305.32 L268.13,303.51 L268.49,301.66 L268.84,299.84 L269.19,298.04 L269.54,296.19 L269.9,294.34 L270.25,292.52 L270.6,290.76 L270.95,289.1 L271.3,287.52 L271.66,285.96 L272.01,284.36 L272.36,282.64 L272.71,280.78 L273.07,278.82 L273.42,276.77 L273.77,274.64 L274.12,272.45 L274.48,270.21 L274.83,267.93 L275.18,265.63 L275.53,263.27 L275.88,260.82 L276.24,258.3 L276.59,255.75 L276.94,253.2 L277.29,250.66 L277.65,248.14 L278,245.68 L278.35,243.22 L278.7,240.69 L279.05,238.04 L279.41,235.21 L279.76,232.12 L280.11,228.51 L280.46,224.44 L280.82,220.16 L281.17,215.89 L281.52,211.85 L281.87,207.91 L282.23,204.08 L282.58,200.27 L282.93,196.54 L283.28,193.02 L283.63,189.82 L283.99,186.88 L284.34,184.09 L284.69,181.57 L285.04,179.56 L285.4,178.2 L285.75,177.1 L286.1,176.35 L286.45,176.15 L286.8,176.5 L287.16,177.23 L287.51,178.25 L287.86,179.46 L288.21,181.12 L288.57,183.42 L288.92,186.41 L289.27,190.06 L289.62,194.75 L289.97,200.58 L290.33,206.88 L290.68,212.94 L291.03,218.22 L291.38,223.16 L291.74,228 L292.09,232.86 L292.44,237.84 L292.79,242.85 L293.15,247.71 L293.5,252.28 L293.85,256.74 L294.2,261.04 L294.55,265.02 L294.91,268.59 L295.26,271.84 L295.61,274.83 L295.96,277.62 L296.32,280.31 L296.67,282.96 L297.02,285.63 L297.37,288.33 L297.72,291.01 L298.08,293.6 L298.43,296.06 L298.78,298.32 L299.13,300.32 L299.49,302.09 L299.84,303.69 L300.19,305.15 L300.54,306.49 L300.9,307.73 L301.25,308.88 L301.6,309.97 L301.95,311.01 L302.3,312.02 L302.66,312.99 L303.01,313.91 L303.36,314.78 L303.71,315.58 L304.07,316.31 L304.42,316.99 L304.77,317.65 L305.12,318.26 L305.47,318.84 L305.83,319.38 L306.18,319.87 L306.53,320.32 L306.88,320.75 L307.24,321.16 L307.59,321.53 L307.94,321.88 L308.29,322.2 L308.64,322.49 L309,322.76 L309.35,323 L309.7,323.23 L310.05,323.44 L310.41,323.63 L310.76,323.82 L311.11,323.99 L311.46,324.16 L311.82,324.32 L312.17,324.46 L312.52,324.6 L312.87,324.73 L313.22,324.86 L313.58,324.98 L313.93,325.09 L314.28,325.2 L314.63,325.31 L314.99,325.41 L315.34,325.5 L315.69,325.59 L316.04,325.67 L316.39,325.75 L316.75,325.83 L317.1,325.9 L317.45,325.97 L317.8,326.03 L318.16,326.09 L318.51,326.15 L318.86,326.21 L319.21,326.26 L319.57,326.32 L319.92,326.37 L320.27,326.42 L320.62,326.46 L320.97,326.5 L321.33,326.54 L321.68,326.58 L322.03,326.61 L322.38,326.64 L322.74,326.67 L323.09,326.69 L323.44,326.72 L323.79,326.74 L324.14,326.76 L324.5,326.78 L324.85,326.8 L325.2,326.82 L325.55,326.84 L325.91,326.86 L326.26,326.87 L326.61,326.89 L326.96,326.9 L327.31,326.91 L327.67,326.93 L328.02,326.94 L328.37,326.95 L328.72,326.96 L329.08,326.98 L329.43,326.98 L329.78,326.99 L330.13,327 L330.49,326.68 L332.25,326.74 L334.01,326.81 L335.77,326.87 L337.53,326.92 L339.29,326.97 L341.05,327.02 L342.81,327.06 L344.58,327.1 L346.34,327.13 L348.1,327.17 L349.86,327.21 L351.62,327.25 L353.38,327.3 L355.14,327.34 L356.91,327.37 L358.67,327.41 L360.43,327.44 L362.19,327.47 L363.95,327.5 L365.71,327.54 L367.47,327.58 L369.23,327.63 L371,327.7 L372.76,327.76 L374.52,327.82 L376.28,327.88 L378.04,327.94 L379.8,328 L381.56,328.05 L383.33,328.11 L385.09,328.18 L386.85,328.24 L388.61,328.3 L390.37,328.37 L392.13,328.44 L393.89,328.5 L394.6,328.51 L395.3,328.52 L396.01,328.53 L396.71,328.54 L397.42,328.55 L398.12,328.56 L398.82,328.56 L399.53,328.57 L400.23,328.57 L400.94,328.58 L401.64,328.57 L402.35,328.56 L403.05,328.53 L403.76,328.5 L404.46,328.47 L405.17,328.43 L405.87,328.38 L406.57,328.31 L407.28,328.2 L407.98,328.07 L408.69,327.92 L409.39,327.77 L410.1,327.63 L410.8,327.45 L411.51,327.33 L412.21,327.34 L412.92,327.37 L413.62,327.39 L414.32,327.4 L415.03,327.39 L415.73,327.35 L416.44,327.3 L417.14,327.24 L417.85,327.17 L418.55,327.1 L419.26,327.03 L419.96,326.95 L420.67,326.86 L421.37,326.76 L422.07,326.65 L422.78,326.52 L423.48,326.38 L424.19,326.23 L424.89,326.04 L425.6,325.81 L426.3,325.55 L427.01,325.23 L427.71,324.66 L428.41,324.09 L429.12,323.86 L429.82,323.75 L430.53,323.66 L431.23,323.58 L431.94,323.48 L432.64,323.4 L433.35,323.31 L434.05,323.21 L434.76,323.1 L435.46,322.94 L436.16,322.72 L436.87,322.48 L437.57,322.25 L438.28,322.04 L438.98,322.08 L439.69,322.32 L440.39,322.55 L441.1,322.58 L441.8,322.49 L442.51,322.38 L443.21,322.29 L443.91,322.27 L444.62,322.25 L445.32,322.25 L446.03,322.27 L446.73,322.34 L447.44,322.46 L448.14,322.59 L448.85,322.81 L449.55,323.1 L450.26,323.4 L450.96,323.72 L451.66,324.09 L452.37,324.52 L453.07,325.07 L453.78,325.65 L454.48,326.15 L455.19,326.64 L455.89,327.08 L456.6,327.4 L457.3,327.6 L458.01,327.78 L458.71,327.92 L459.41,328.04 L460.12,328.13 L460.82,328.18 L461.53,328.24 L462.23,328.28 L462.94,328.32 L463.64,328.36 L464.35,328.39 L465.05,328.41 L465.75,328.43 L466.46,328.45 L467.16,328.46 L467.87,328.46 L468.57,328.47 L469.28,328.48 L469.98,328.48 L470.69,328.49 L471.39,328.49 L472.1,328.5 L472.8,328.5 L473.5,328.51 L474.21,328.51 L474.91,328.52 L475.62,328.52 L476.32,328.52 L477.03,328.53 L477.73,328.53 L478.44,328.53 L479.14,328.53 L479.85,328.53 L480.55,328.54 L481.25,328.54 L481.96,328.54 L482.66,328.54 L483.37,328.54 L484.07,328.54 L484.78,328.54 L485.48,328.54 L486.19,328.53 L486.89,328.53 L487.6,328.53 L488.3,328.53 L489,328.53 L489.71,328.53 L490.41,328.53 L491.12,328.53 L491.82,328.53 L492.53,328.53 L493.23,328.53 L493.94,328.52 L494.64,328.52 L495.35,328.52 L496.05,328.52 L496.75,328.52 L497.46,328.52 L498.16,328.52 L498.87,328.52 L499.57,328.52 L500.28,328.52 L500.98,328.52 L501.69,328.52 L502.39,328.52 L503.09,328.52 L503.8,328.52 L504.5,328.52 L505.21,328.56 L505.91,328.63 L506.62,328.67 L507.32,328.68 L508.03,328.68 L508.73,328.68 L509.44,328.68 L510.14,328.69 L510.84,328.69 L511.55,328.69 L512.25,328.69 L512.96,328.69 L513.66,328.7 L514.37,328.7 L515.07,328.7 L515.78,328.7 L516.48,328.7 L517.19,328.7 L517.89,328.7 L518.59,328.7 L519.3,328.7 L520,328.7 L520.71,328.7 L521.41,328.71 L522.12,328.71 L522.82,328.71 L523.53,328.71 L524.23,328.71 L524.94,328.71 L525.64,328.71 L526.34,328.71 L527.05,328.71 L527.75,328.71 L528.46,328.72 L529.16,328.72 L529.87,328.72 L530.57,328.72 L531.28,328.72 L531.98,328.72 L532.69,328.72 L533.39,328.72 L534.09,328.72 L534.8,328.72 L535.5,328.72 L536.21,328.72 L536.91,328.72 L537.62,328.73 L538.32,328.73 L539.03,328.73 L539.73,328.73 L540.44,328.73 L541.14,328.73 L541.84,328.73 L542.55,328.73 L543.25,328.73 L543.96,328.73 L544.66,328.73 L545.37,328.73 L546.07,328.73 L546.78,328.74 L547.48,328.74 L548.18,328.74 L548.89,328.74 L549.59,328.74 L550.3,328.74 L551,328.74 L551.71,328.74 L552.41,328.74 L553.12,328.74 L553.82,328.74 L554.53,328.74 L555.23,328.75 L555.93,328.75 L556.64,328.75 L557.34,328.75 L558.05,328.75 L558.75,328.74 L559.46,328.73 L560.16,328.72 L560.87,328.71 L561.57,328.69 L562.28,328.67 L562.98,328.65 L563.68,328.63 L564.39,328.61 L565.09,328.59 L565.8,328.55 L566.5,328.51 L567.21,328.46 L567.91,328.4 L568.62,328.34 L569.32,328.28 L570.03,328.22 L570.73,328.14 L571.43,328.06 L572.14,327.98 L572.84,327.89 L573.55,327.81 L574.25,327.75 L574.96,327.7 L575.66,327.67 L576.37,327.64 L577.07,327.62 L577.78,327.6 L578.48,327.57 L579.18,327.53 L579.89,327.47 L580.59,327.39 L581.3,327.3 L582,327.19 L582.71,327.06 L583.41,326.89 L584.12,326.67 L584.82,326.42 L585.52,326.12 L586.23,325.8 L586.93,325.36 L587.64,324.76 L588.34,324.21 L589.05,323.91 L589.75,323.8 L590.46,323.72 L591.16,323.62 L591.87,323.4 L592.57,322.96 L593.27,322.45 L593.98,321.77 L594.68,321.04 L595.39,320.79 L596.09,320.99 L596.8,321.36 L597.5,321.73 L598.21,322.03 L598.91,322.34 L599.62,322.51 L600.32,322.44 L601.02,322.31 L601.73,322.32 L602.43,322.51 L603.14,322.77 L603.84,323.06 L604.55,323.48 L605.25,323.96 L605.96,324.44 L606.66,324.85 L607.37,325.2 L608.07,325.55 L608.77,325.87 L609.48,326.14 L610.18,326.31 L610.89,326.41 L611.59,326.48 L612.3,326.53 L613,326.58 L613.71,326.62 L614.41,326.66 L615.12,326.7 L615.82,326.74 L616.52,326.77 L617.23,326.8 L617.93,326.83 L618.64,326.86 L619.34,326.89 L620.05,326.92 L620.75,326.96 L621.46,327.01 L622.16,327.07 L622.86,327.13 L623.57,327.2 L624.27,327.27 L624.98,327.35 L625.68,327.42 L626.39,327.5 L627.09,327.58 L627.8,327.66 L628.5,327.75 L629.21,327.84 L629.91,327.93 L630.61,328.02 L631.32,328.11 L632.02,328.19 L632.73,328.26 L633.43,328.32 L634.14,328.37 L634.84,328.42 L635.55,328.47 L636.25,328.51 L636.96,328.55 L637.66,328.59 L638.36,328.62 L639.07,328.65 L639.77,328.68 L640.48,328.71 L641.18,328.73 L641.89,328.76 L642.59,328.78 L643.3,328.8 L644,328.82 L644.71,328.83 L645.41,328.83 L645.76,328.83 L647.52,328.84 L649.28,328.84 L651.05,328.84 L652.81,328.84 L654.57,328.84 L656.33,328.85 L658.09,328.85 L659.85,328.85 L661.61,328.85 L663.38,328.85 L665.14,328.86 L666.9,328.86 L668.66,328.86 L670.42,328.86 L672.18,328.86 L673.94,328.87 L675.7,328.87 L677.47,328.87 L679.23,328.87 L680.99,328.87 L682.75,328.88" stroke="#0c5cd8"/>
<path d="M83.9,265.28 L84.25,267 L84.6,268.66 L84.96,270.26 L85.31,271.8 L85.66,273.29 L86.01,274.71 L86.37,276.07 L86.72,277.38 L87.07,278.65 L87.42,279.86 L87.77,280.99 L88.13,282.07 L88.48,283.11 L88.83,284.11 L89.18,285.09 L89.54,286.04 L89.89,286.97 L90.24,287.9 L90.59,288.82 L90.95,289.74 L91.3,290.66 L91.65,291.58 L92,292.49 L92.35,293.39 L92.71,294.28 L93.06,295.14 L93.41,295.99 L93.76,296.84 L94.12,297.71 L94.47,298.58 L94.82,299.42 L95.17,300.21 L95.52,300.92 L95.88,301.53 L96.23,302.03 L96.58,302.49 L96.93,302.91 L97.29,303.28 L97.64,303.58 L97.99,303.78 L98.34,303.92 L98.7,304.04 L99.05,304.16 L99.4,304.25 L99.75,304.32 L100.1,304.37 L100.46,304.41 L100.81,304.44 L101.16,304.47 L101.51,304.48 L101.87,304.49 L102.22,304.49 L102.57,304.49 L102.92,304.46 L103.27,304.35 L103.63,304.15 L103.98,303.87 L104.33,303.53 L104.68,303.15 L105.04,302.72 L105.39,302.28 L105.74,301.82 L106.09,301.29 L106.44,300.62 L106.8,299.85 L107.15,299.01 L107.5,298.14 L107.85,297.28 L108.21,296.45 L108.56,295.7 L108.91,294.99 L109.26,294.28 L109.62,293.58 L109.97,292.89 L110.32,292.23 L110.67,291.6 L111.02,291.01 L111.38,290.47 L111.73,289.96 L112.08,289.45 L112.43,288.96 L112.79,288.49 L113.14,288.07 L113.49,287.69 L113.84,287.39 L114.19,287.16 L114.55,286.98 L114.9,286.8 L115.25,286.65 L115.6,286.52 L115.96,286.43 L116.31,286.39 L116.66,286.43 L117.01,286.65 L117.37,287.05 L117.72,287.56 L118.07,288.16 L118.42,288.87 L118.77,290.06 L119.13,291.55 L119.48,293.08 L119.83,294.37 L120.18,295.44 L120.54,296.48 L120.89,297.44 L121.24,298.28 L121.59,298.96 L121.94,299.55 L122.3,300.12 L122.65,300.61 L123,300.96 L123.35,301.09 L123.71,300.99 L124.06,300.71 L124.41,300.29 L124.76,299.8 L125.11,299.24 L125.47,298.4 L125.82,297.32 L126.17,296.09 L126.52,294.81 L126.88,293.49 L127.23,291.94 L127.58,290.25 L127.93,288.59 L128.29,287.11 L128.64,285.89 L128.99,284.65 L129.34,283.46 L129.69,282.44 L130.05,281.73 L130.4,281.46 L130.75,281.59 L131.1,281.92 L131.46,282.43 L131.81,283.07 L132.16,283.79 L132.51,284.98 L132.86,286.81 L133.22,288.96 L133.57,291.09 L133.92,293.19 L134.27,295.43 L134.63,297.76 L134.98,300.11 L135.33,302.43 L135.68,304.86 L136.04,307.42 L136.39,309.86 L136.74,311.97 L137.09,313.58 L137.44,315.02 L137.8,316.35 L138.15,317.54 L138.5,318.61 L138.85,319.53 L139.21,320.31 L139.56,320.93 L139.91,321.48 L140.26,321.98 L140.61,322.43 L140.97,322.81 L141.32,323.14 L141.67,323.41 L142.02,323.63 L142.38,323.85 L142.73,324.04 L143.08,324.22 L143.43,324.4 L143.78,324.55 L144.14,324.7 L144.49,324.84 L144.84,324.97 L145.19,325.09 L145.55,325.2 L145.9,325.31 L146.25,325.41 L146.6,325.51 L146.96,325.61 L147.31,325.7 L147.66,325.79 L148.01,325.88 L148.36,325.97 L148.72,326.05 L149.07,326.13 L149.42,326.21 L149.77,326.29 L150.13,326.36 L150.48,326.43 L150.83,326.5 L151.18,326.57 L151.53,326.63 L151.89,326.69 L152.24,326.75 L152.59,326.81 L152.94,326.86 L153.3,326.91 L153.65,326.96 L154,327.01 L154.35,327.05 L154.71,327.09 L155.06,327.14 L155.41,327.18 L155.76,327.22 L156.11,327.26 L156.47,327.3 L156.82,327.34 L157.17,327.37 L157.52,327.41 L157.88,327.45 L158.23,327.48 L158.58,327.52 L158.93,327.55 L159.28,327.58 L159.64,327.62 L159.99,327.65 L160.34,327.67 L160.69,327.7 L161.05,327.72 L161.4,327.75 L161.75,327.77 L162.1,327.79 L162.46,327.81 L162.81,327.82 L163.16,327.84 L164.92,327.91 L166.68,327.92 L168.44,327.92 L170.2,327.92 L171.97,327.92 L173.73,327.92 L175.49,327.92 L177.25,327.92 L179.01,327.92 L180.77,327.92 L182.53,327.93 L184.3,327.93 L186.06,327.93 L187.82,327.93 L189.58,327.93 L191.34,327.93 L193.1,327.93 L194.86,327.93 L196.62,327.93 L198.39,327.93 L200.15,327.93 L201.91,327.93 L203.67,327.93 L205.43,327.92 L207.19,327.9 L208.95,327.86 L210.72,327.78 L212.48,327.64 L214.24,327.42 L216,327.1 L217.76,326.72 L219.52,326.33 L221.28,326 L223.04,325.82 L224.81,325.84 L226.57,326.06 L228.33,326.4 L230.09,326.8 L231.85,327.17 L233.61,327.47 L235.37,327.68 L237.14,327.8 L238.9,327.87 L240.66,327.91 L242.42,327.93 L242.77,327.93 L243.12,327.92 L243.48,327.92 L243.83,327.91 L244.18,327.9 L244.53,327.89 L244.88,327.88 L245.24,327.86 L245.59,327.85 L245.94,327.83 L246.29,327.81 L246.65,327.78 L247,327.76 L247.35,327.74 L247.7,327.71 L248.06,327.68 L248.41,327.65 L248.76,327.62 L249.11,327.59 L249.46,327.56 L249.82,327.52 L250.17,327.49 L250.52,327.44 L250.87,327.37 L251.23,327.3 L251.58,327.21 L251.93,327.12 L252.28,327.01 L252.63,326.9 L252.99,326.78 L253.34,326.65 L253.69,326.51 L254.04,326.37 L254.4,326.19 L254.75,326 L255.1,325.78 L255.45,325.54 L255.81,325.28 L256.16,325 L256.51,324.71 L256.86,324.39 L257.21,324.02 L257.57,323.58 L257.92,323.09 L258.27,322.58 L258.62,322.06 L258.98,321.55 L259.33,321.03 L259.68,320.51 L260.03,319.96 L260.38,319.39 L260.74,318.79 L261.09,318.15 L261.44,317.46 L261.79,316.72 L262.15,315.94 L262.5,315.1 L262.85,314.22 L263.2,313.27 L263.56,312.27 L263.91,311.21 L264.26,310.08 L264.61,308.89 L264.96,307.61 L265.32,306.19 L265.67,304.62 L266.02,302.9 L266.37,301.05 L266.73,299.06 L267.08,296.94 L267.43,294.53 L267.78,291.75 L268.13,288.76 L268.49,285.73 L268.84,282.79 L269.19,279.93 L269.54,277.02 L269.9,274.14 L270.25,271.33 L270.6,268.64 L270.95,266.17 L271.3,263.87 L271.66,261.59 L272.01,259.22 L272.36,256.62 L272.71,253.74 L273.07,250.68 L273.42,247.45 L273.77,244.08 L274.12,240.6 L274.48,237.03 L274.83,233.4 L275.18,229.73 L275.53,225.97 L275.88,222.04 L276.24,218 L276.59,213.88 L276.94,209.74 L277.29,205.61 L277.65,201.54 L278,197.6 L278.35,193.71 L278.7,189.77 L279.05,185.69 L279.41,181.35 L279.76,176.67 L280.11,171.37 L280.46,165.47 L280.82,159.34 L281.17,153.34 L281.52,147.73 L281.87,142.19 L282.23,136.7 L282.58,131.32 L282.93,126.12 L283.28,121.17 L283.63,116.54 L283.99,111.95 L284.34,107.37 L284.69,103.24 L285.04,100 L285.4,97.89 L285.75,96.1 L286.1,94.77 L286.45,94.26 L286.8,94.57 L287.16,95.43 L287.51,96.67 L287.86,98.15 L288.21,100.38 L288.57,103.8 L288.92,108.1 L289.27,113 L289.62,119.46 L289.97,127.9 L290.33,137.23 L290.68,146.36 L291.03,154.37 L291.38,161.87 L291.74,169.22 L292.09,176.67 L292.44,184.42 L292.79,192.29 L293.15,199.93 L293.5,207.09 L293.85,214.09 L294.2,220.78 L294.55,226.93 L294.91,232.36 L295.26,237.28 L295.61,241.84 L295.96,246.16 L296.32,250.34 L296.67,254.5 L297.02,258.75 L297.37,263.11 L297.72,267.47 L298.08,271.73 L298.43,275.77 L298.78,279.5 L299.13,282.78 L299.49,285.66 L299.84,288.23 L300.19,290.55 L300.54,292.65 L300.9,294.59 L301.25,296.38 L301.6,298.07 L301.95,299.68 L302.3,301.25 L302.66,302.78 L303.01,304.26 L303.36,305.65 L303.71,306.94 L304.07,308.12 L304.42,309.24 L304.77,310.31 L305.12,311.32 L305.47,312.26 L305.83,313.13 L306.18,313.91 L306.53,314.63 L306.88,315.31 L307.24,315.95 L307.59,316.55 L307.94,317.11 L308.29,317.62 L308.64,318.08 L309,318.5 L309.35,318.89 L309.7,319.26 L310.05,319.6 L310.41,319.93 L310.76,320.24 L311.11,320.53 L311.46,320.8 L311.82,321.06 L312.17,321.29 L312.52,321.52 L312.87,321.73 L313.22,321.93 L313.58,322.13 L313.93,322.31 L314.28,322.49 L314.63,322.66 L314.99,322.82 L315.34,322.98 L315.69,323.13 L316.04,323.27 L316.39,323.41 L316.75,323.54 L317.1,323.66 L317.45,323.78 L317.8,323.9 L318.16,324.02 L318.51,324.13 L318.86,324.24 L319.21,324.35 L319.57,324.45 L319.92,324.55 L320.27,324.64 L320.62,324.72 L320.97,324.81 L321.33,324.88 L321.68,324.95 L322.03,325.01 L322.38,325.07 L322.74,325.12 L323.09,325.17 L323.44,325.22 L323.79,325.27 L324.14,325.31 L324.5,325.35 L324.85,325.39 L325.2,325.43 L325.55,325.46 L325.91,325.49 L326.26,325.52 L326.61,325.55 L326.96,325.58 L327.31,325.6 L327.67,325.63 L328.02,325.66 L328.37,325.68 L328.72,325.7 L329.08,325.72 L329.43,325.74 L329.78,325.76 L330.13,325.77 L330.49,325.79 L332.25,325.89 L334.01,325.98 L335.77,326.07 L337.53,326.15 L339.29,326.22 L341.05,326.28 L342.81,326.34 L344.58,326.4 L346.34,326.45 L348.1,326.51 L349.86,326.57 L351.62,326.63 L353.38,326.69 L355.14,326.75 L356.91,326.8 L358.67,326.85 L360.43,326.9 L362.19,326.94 L363.95,326.98 L365.71,327.03 L367.47,327.09 L369.23,327.17 L371,327.27 L372.76,327.36 L374.52,327.45 L376.28,327.53 L378.04,327.61 L379.8,327.68 L381.56,327.76 L383.33,327.83 L385.09,327.92 L386.85,328 L388.61,328.09 L390.37,328.18 L392.13,328.27 L393.89,328.35 L394.6,328.36 L395.3,328.38 L396.01,328.39 L396.71,328.4 L397.42,328.4 L398.12,328.41 L398.82,328.41 L399.53,328.41 L400.23,328.42 L400.94,328.42 L401.64,328.41 L402.35,328.39 L403.05,328.35 L403.76,328.3 L404.46,328.25 L405.17,328.19 L405.87,328.12 L406.57,328.01 L407.28,327.84 L407.98,327.64 L408.69,327.41 L409.39,327.18 L410.1,326.96 L410.8,326.68 L411.51,326.51 L412.21,326.52 L412.92,326.56 L413.62,326.6 L414.32,326.62 L415.03,326.59 L415.73,326.53 L416.44,326.45 L417.14,326.36 L417.85,326.25 L418.55,326.15 L419.26,326.04 L419.96,325.92 L420.67,325.78 L421.37,325.62 L422.07,325.45 L422.78,325.26 L423.48,325.05 L424.19,324.81 L424.89,324.52 L425.6,324.17 L426.3,323.76 L427.01,323.27 L427.71,322.39 L428.41,321.52 L429.12,321.17 L429.82,321 L430.53,320.87 L431.23,320.74 L431.94,320.59 L432.64,320.46 L433.35,320.32 L434.05,320.18 L434.76,320 L435.46,319.76 L436.16,319.41 L436.87,319.05 L437.57,318.69 L438.28,318.38 L438.98,318.44 L439.69,318.81 L440.39,319.16 L441.1,319.21 L441.8,319.07 L442.51,318.89 L443.21,318.76 L443.91,318.73 L444.62,318.7 L445.32,318.69 L446.03,318.72 L446.73,318.84 L447.44,319.01 L448.14,319.22 L448.85,319.56 L449.55,320 L450.26,320.46 L450.96,320.96 L451.66,321.53 L452.37,322.19 L453.07,323.03 L453.78,323.92 L454.48,324.69 L455.19,325.45 L455.89,326.12 L456.6,326.6 L457.3,326.92 L458.01,327.18 L458.71,327.41 L459.41,327.59 L460.12,327.72 L460.82,327.81 L461.53,327.89 L462.23,327.96 L462.94,328.03 L463.64,328.08 L464.35,328.13 L465.05,328.17 L465.75,328.2 L466.46,328.22 L467.16,328.23 L467.87,328.24 L468.57,328.25 L469.28,328.26 L469.98,328.27 L470.69,328.28 L471.39,328.29 L472.1,328.3 L472.8,328.3 L473.5,328.31 L474.21,328.32 L474.91,328.32 L475.62,328.33 L476.32,328.33 L477.03,328.34 L477.73,328.34 L478.44,328.35 L479.14,328.35 L479.85,328.35 L480.55,328.35 L481.25,328.35 L481.96,328.35 L482.66,328.35 L483.37,328.35 L484.07,328.35 L484.78,328.35 L485.48,328.35 L486.19,328.35 L486.89,328.35 L487.6,328.35 L488.3,328.35 L489,328.35 L489.71,328.35 L490.41,328.34 L491.12,328.34 L491.82,328.34 L492.53,328.34 L493.23,328.34 L493.94,328.34 L494.64,328.33 L495.35,328.33 L496.05,328.33 L496.75,328.33 L497.46,328.33 L498.16,328.33 L498.87,328.33 L499.57,328.32 L500.28,328.32 L500.98,328.32 L501.69,328.32 L502.39,328.32 L503.09,328.32 L503.8,328.32 L504.5,328.33 L505.21,328.4 L505.91,328.49 L506.62,328.56 L507.32,328.57 L508.03,328.57 L508.73,328.58 L509.44,328.58 L510.14,328.59 L510.84,328.59 L511.55,328.59 L512.25,328.59 L512.96,328.6 L513.66,328.6 L514.37,328.6 L515.07,328.6 L515.78,328.6 L516.48,328.6 L517.19,328.61 L517.89,328.61 L518.59,328.61 L519.3,328.61 L520,328.61 L520.71,328.61 L521.41,328.61 L522.12,328.61 L522.82,328.62 L523.53,328.62 L524.23,328.62 L524.94,328.62 L525.64,328.62 L526.34,328.62 L527.05,328.63 L527.75,328.63 L528.46,328.63 L529.16,328.63 L529.87,328.63 L530.57,328.63 L531.28,328.63 L531.98,328.64 L532.69,328.64 L533.39,328.64 L534.09,328.64 L534.8,328.64 L535.5,328.64 L536.21,328.64 L536.91,328.64 L537.62,328.64 L538.32,328.64 L539.03,328.65 L539.73,328.65 L540.44,328.65 L541.14,328.65 L541.84,328.65 L542.55,328.65 L543.25,328.65 L543.96,328.65 L544.66,328.66 L545.37,328.66 L546.07,328.66 L546.78,328.66 L547.48,328.66 L548.18,328.66 L548.89,328.66 L549.59,328.66 L550.3,328.67 L551,328.67 L551.71,328.67 L552.41,328.67 L553.12,328.67 L553.82,328.67 L554.53,328.67 L555.23,328.67 L555.93,328.68 L556.64,328.68 L557.34,328.68 L558.05,328.67 L558.75,328.67 L559.46,328.65 L560.16,328.64 L560.87,328.62 L561.57,328.59 L562.28,328.56 L562.98,328.54 L563.68,328.5 L564.39,328.47 L565.09,328.43 L565.8,328.38 L566.5,328.31 L567.21,328.23 L567.91,328.14 L568.62,328.05 L569.32,327.95 L570.03,327.86 L570.73,327.75 L571.43,327.63 L572.14,327.5 L572.84,327.37 L573.55,327.25 L574.25,327.14 L574.96,327.07 L575.66,327.02 L576.37,326.98 L577.07,326.95 L577.78,326.91 L578.48,326.87 L579.18,326.8 L579.89,326.71 L580.59,326.59 L581.3,326.45 L582,326.28 L582.71,326.09 L583.41,325.83 L584.12,325.49 L584.82,325.1 L585.52,324.64 L586.23,324.15 L586.93,323.48 L587.64,322.55 L588.34,321.7 L589.05,321.24 L589.75,321.07 L590.46,320.96 L591.16,320.81 L591.87,320.46 L592.57,319.79 L593.27,319 L593.98,317.95 L594.68,316.84 L595.39,316.46 L596.09,316.76 L596.8,317.32 L597.5,317.9 L598.21,318.36 L598.91,318.83 L599.62,319.09 L600.32,318.98 L601.02,318.78 L601.73,318.81 L602.43,319.09 L603.14,319.5 L603.84,319.95 L604.55,320.58 L605.25,321.33 L605.96,322.07 L606.66,322.69 L607.37,323.23 L608.07,323.77 L608.77,324.26 L609.48,324.67 L610.18,324.94 L610.89,325.08 L611.59,325.19 L612.3,325.28 L613,325.35 L613.71,325.41 L614.41,325.47 L615.12,325.53 L615.82,325.59 L616.52,325.64 L617.23,325.69 L617.93,325.73 L618.64,325.77 L619.34,325.82 L620.05,325.87 L620.75,325.94 L621.46,326.01 L622.16,326.1 L622.86,326.2 L623.57,326.3 L624.27,326.41 L624.98,326.53 L625.68,326.65 L626.39,326.76 L627.09,326.88 L627.8,327 L628.5,327.14 L629.21,327.28 L629.91,327.43 L630.61,327.57 L631.32,327.7 L632.02,327.83 L632.73,327.93 L633.43,328.02 L634.14,328.1 L634.84,328.18 L635.55,328.25 L636.25,328.31 L636.96,328.37 L637.66,328.43 L638.36,328.48 L639.07,328.53 L639.77,328.57 L640.48,328.62 L641.18,328.66 L641.89,328.69 L642.59,328.73 L643.3,328.76 L644,328.79 L644.71,328.81 L645.41,328.81 L645.76,328.81 L647.52,328.81 L649.28,328.82 L651.05,328.82 L652.81,328.82 L654.57,328.83 L656.33,328.83 L658.09,328.83 L659.85,328.84 L661.61,328.84 L663.38,328.84 L665.14,328.85 L666.9,328.85 L668.66,328.85 L670.42,328.85 L672.18,328.86 L673.94,328.86 L675.7,328.86 L677.47,328.87 L679.23,328.87 L680.99,328.87 L682.75,328.88" stroke="#2aa866"/>
<path d="M83.9,261.48 L84.25,262.69 L84.6,263.91 L84.96,265.12 L85.31,266.33 L85.66,267.55 L86.01,268.77 L86.37,269.98 L86.72,271.22 L87.07,272.46 L87.42,273.71 L87.77,274.94 L88.13,276.15 L88.48,277.31 L88.83,278.43 L89.18,279.51 L89.54,280.57 L89.89,281.61 L90.24,282.64 L90.59,283.67 L90.95,284.71 L91.3,285.75 L91.65,286.78 L92,287.82 L92.35,288.84 L92.71,289.84 L93.06,290.83 L93.41,291.79 L93.76,292.75 L94.12,293.76 L94.47,294.75 L94.82,295.72 L95.17,296.63 L95.52,297.43 L95.88,298.11 L96.23,298.65 L96.58,299.15 L96.93,299.61 L97.29,299.99 L97.64,300.29 L97.99,300.47 L98.34,300.58 L98.7,300.67 L99.05,300.75 L99.4,300.8 L99.75,300.83 L100.1,300.83 L100.46,300.82 L100.81,300.8 L101.16,300.78 L101.51,300.74 L101.87,300.7 L102.22,300.65 L102.57,300.59 L102.92,300.51 L103.27,300.32 L103.63,300.03 L103.98,299.63 L104.33,299.16 L104.68,298.63 L105.04,298.06 L105.39,297.46 L105.74,296.85 L106.09,296.14 L106.44,295.27 L106.8,294.26 L107.15,293.18 L107.5,292.06 L107.85,290.94 L108.21,289.87 L108.56,288.89 L108.91,287.97 L109.26,287.05 L109.62,286.14 L109.97,285.25 L110.32,284.39 L110.67,283.57 L111.02,282.8 L111.38,282.11 L111.73,281.44 L112.08,280.78 L112.43,280.13 L112.79,279.52 L113.14,278.97 L113.49,278.48 L113.84,278.07 L114.19,277.76 L114.55,277.52 L114.9,277.28 L115.25,277.07 L115.6,276.89 L115.96,276.76 L116.31,276.69 L116.66,276.71 L117.01,276.98 L117.37,277.46 L117.72,278.09 L118.07,278.82 L118.42,279.7 L118.77,281.18 L119.13,283.04 L119.48,284.94 L119.83,286.54 L120.18,287.88 L120.54,289.17 L120.89,290.36 L121.24,291.4 L121.59,292.24 L121.94,292.97 L122.3,293.68 L122.65,294.28 L123,294.7 L123.35,294.86 L123.71,294.73 L124.06,294.36 L124.41,293.83 L124.76,293.2 L125.11,292.49 L125.47,291.42 L125.82,290.06 L126.17,288.52 L126.52,286.89 L126.88,285.23 L127.23,283.28 L127.58,281.16 L127.93,279.06 L128.29,277.19 L128.64,275.66 L128.99,274.1 L129.34,272.59 L129.69,271.31 L130.05,270.41 L130.4,270.07 L130.75,270.22 L131.1,270.64 L131.46,271.27 L131.81,272.06 L132.16,272.97 L132.51,274.46 L132.86,276.75 L133.22,279.44 L133.57,282.11 L133.92,284.74 L134.27,287.55 L134.63,290.46 L134.98,293.4 L135.33,296.31 L135.68,299.35 L136.04,302.56 L136.39,305.63 L136.74,308.27 L137.09,310.29 L137.44,312.09 L137.8,313.74 L138.15,315.24 L138.5,316.58 L138.85,317.73 L139.21,318.7 L139.56,319.48 L139.91,320.17 L140.26,320.79 L140.61,321.34 L140.97,321.82 L141.32,322.22 L141.67,322.54 L142.02,322.82 L142.38,323.08 L142.73,323.32 L143.08,323.54 L143.43,323.74 L143.78,323.93 L144.14,324.11 L144.49,324.28 L144.84,324.43 L145.19,324.57 L145.55,324.71 L145.9,324.84 L146.25,324.96 L146.6,325.08 L146.96,325.19 L147.31,325.3 L147.66,325.41 L148.01,325.51 L148.36,325.61 L148.72,325.71 L149.07,325.81 L149.42,325.9 L149.77,325.99 L150.13,326.07 L150.48,326.15 L150.83,326.23 L151.18,326.31 L151.53,326.38 L151.89,326.45 L152.24,326.52 L152.59,326.59 L152.94,326.65 L153.3,326.71 L153.65,326.76 L154,326.81 L154.35,326.86 L154.71,326.91 L155.06,326.96 L155.41,327 L155.76,327.05 L156.11,327.09 L156.47,327.13 L156.82,327.18 L157.17,327.22 L157.52,327.26 L157.88,327.3 L158.23,327.34 L158.58,327.38 L158.93,327.41 L159.28,327.45 L159.64,327.48 L159.99,327.51 L160.34,327.54 L160.69,327.57 L161.05,327.59 L161.4,327.61 L161.75,327.64 L162.1,327.65 L162.46,327.67 L162.81,327.68 L163.16,327.69 L164.92,327.79 L166.68,327.79 L168.44,327.79 L170.2,327.79 L171.97,327.79 L173.73,327.79 L175.49,327.79 L177.25,327.79 L179.01,327.79 L180.77,327.79 L182.53,327.79 L184.3,327.79 L186.06,327.79 L187.82,327.79 L189.58,327.79 L191.34,327.79 L193.1,327.79 L194.86,327.79 L196.62,327.79 L198.39,327.79 L200.15,327.79 L201.91,327.79 L203.67,327.79 L205.43,327.78 L207.19,327.75 L208.95,327.7 L210.72,327.6 L212.48,327.42 L214.24,327.14 L216,326.74 L217.76,326.25 L219.52,325.74 L221.28,325.32 L223.04,325.1 L224.81,325.12 L226.57,325.4 L228.33,325.84 L230.09,326.35 L231.85,326.83 L233.61,327.2 L235.37,327.47 L237.14,327.63 L238.9,327.72 L240.66,327.76 L242.42,327.79 L242.77,327.79 L243.12,327.79 L243.48,327.78 L243.83,327.77 L244.18,327.76 L244.53,327.74 L244.88,327.73 L245.24,327.71 L245.59,327.68 L245.94,327.66 L246.29,327.63 L246.65,327.61 L247,327.58 L247.35,327.54 L247.7,327.51 L248.06,327.47 L248.41,327.44 L248.76,327.4 L249.11,327.36 L249.46,327.31 L249.82,327.27 L250.17,327.22 L250.52,327.16 L250.87,327.08 L251.23,326.99 L251.58,326.88 L251.93,326.75 L252.28,326.62 L252.63,326.47 L252.99,326.32 L253.34,326.15 L253.69,325.98 L254.04,325.79 L254.4,325.57 L254.75,325.32 L255.1,325.04 L255.45,324.74 L255.81,324.41 L256.16,324.05 L256.51,323.67 L256.86,323.27 L257.21,322.8 L257.57,322.23 L257.92,321.61 L258.27,320.95 L258.62,320.28 L258.98,319.63 L259.33,318.97 L259.68,318.3 L260.03,317.6 L260.38,316.88 L260.74,316.11 L261.09,315.28 L261.44,314.4 L261.79,313.46 L262.15,312.46 L262.5,311.39 L262.85,310.26 L263.2,309.05 L263.56,307.77 L263.91,306.41 L264.26,304.97 L264.61,303.44 L264.96,301.81 L265.32,299.99 L265.67,297.98 L266.02,295.79 L266.37,293.42 L266.73,290.87 L267.08,288.17 L267.43,285.08 L267.78,281.53 L268.13,277.71 L268.49,273.83 L268.84,270.07 L269.19,266.41 L269.54,262.7 L269.9,259.01 L270.25,255.41 L270.6,251.98 L270.95,248.82 L271.3,245.87 L271.66,242.97 L272.01,239.94 L272.36,236.6 L272.71,232.93 L273.07,229.01 L273.42,224.88 L273.77,220.57 L274.12,216.12 L274.48,211.56 L274.83,206.91 L275.18,202.23 L275.53,197.41 L275.88,192.39 L276.24,187.22 L276.59,181.96 L276.94,176.66 L277.29,171.37 L277.65,166.17 L278,161.14 L278.35,156.17 L278.7,151.13 L279.05,145.9 L279.41,140.36 L279.76,134.38 L280.11,127.6 L280.46,120.05 L280.82,112.21 L281.17,104.53 L281.52,97.37 L281.87,90.28 L282.23,83.26 L282.58,76.38 L282.93,69.73 L283.28,63.4 L283.63,57.48 L283.99,51.61 L284.34,45.76 L284.69,40.48 L285.04,36.34 L285.4,33.63 L285.75,31.34 L286.1,29.65 L286.45,28.99 L286.8,29.39 L287.16,30.49 L287.51,32.08 L287.86,33.96 L288.21,36.82 L288.57,41.19 L288.92,46.69 L289.27,52.96 L289.62,61.22 L289.97,72.01 L290.33,83.94 L290.68,95.61 L291.03,105.86 L291.38,115.45 L291.74,124.85 L292.09,134.38 L292.44,144.29 L292.79,154.35 L293.15,164.12 L293.5,173.28 L293.85,182.23 L294.2,190.78 L294.55,198.65 L294.91,205.59 L295.26,211.88 L295.61,217.72 L295.96,223.24 L296.32,228.59 L296.67,233.91 L297.02,239.34 L297.37,244.91 L297.72,250.49 L298.08,255.94 L298.43,261.11 L298.78,265.87 L299.13,270.07 L299.49,273.75 L299.84,277.04 L300.19,280.01 L300.54,282.7 L300.9,285.17 L301.25,287.46 L301.6,289.62 L301.95,291.68 L302.3,293.69 L302.66,295.65 L303.01,297.54 L303.36,299.32 L303.71,300.97 L304.07,302.48 L304.42,303.91 L304.77,305.28 L305.12,306.57 L305.47,307.77 L305.83,308.88 L306.18,309.88 L306.53,310.8 L306.88,311.67 L307.24,312.49 L307.59,313.26 L307.94,313.97 L308.29,314.62 L308.64,315.22 L309,315.75 L309.35,316.25 L309.7,316.72 L310.05,317.16 L310.41,317.58 L310.76,317.98 L311.11,318.35 L311.46,318.69 L311.82,319.02 L312.17,319.32 L312.52,319.61 L312.87,319.88 L313.22,320.14 L313.58,320.39 L313.93,320.63 L314.28,320.86 L314.63,321.07 L314.99,321.28 L315.34,321.48 L315.69,321.67 L316.04,321.85 L316.39,322.03 L316.75,322.19 L317.1,322.35 L317.45,322.51 L317.8,322.66 L318.16,322.81 L318.51,322.95 L318.86,323.1 L319.21,323.23 L319.57,323.36 L319.92,323.49 L320.27,323.6 L320.62,323.71 L320.97,323.82 L321.33,323.91 L321.68,324 L322.03,324.08 L322.38,324.16 L322.74,324.22 L323.09,324.29 L323.44,324.35 L323.79,324.41 L324.14,324.47 L324.5,324.52 L324.85,324.57 L325.2,324.61 L325.55,324.66 L325.91,324.7 L326.26,324.73 L326.61,324.77 L326.96,324.81 L327.31,324.84 L327.67,324.88 L328.02,324.91 L328.37,324.94 L328.72,324.97 L329.08,324.99 L329.43,325.02 L329.78,325.04 L330.13,325.06 L330.49,325.08 L332.25,325.2 L334.01,325.32 L335.77,325.43 L337.53,325.53 L339.29,325.62 L341.05,325.7 L342.81,325.78 L344.58,325.84 L346.34,325.91 L348.1,325.98 L349.86,326.06 L351.62,326.13 L353.38,326.2 L355.14,326.28 L356.91,326.34 L358.67,326.41 L360.43,326.46 L362.19,326.51 L363.95,326.57 L365.71,326.63 L367.47,326.71 L369.23,326.8 L371,326.92 L372.76,327.05 L374.52,327.16 L376.28,327.25 L378.04,327.34 L379.8,327.43 L381.56,327.52 L383.33,327.61 L385.09,327.71 L386.85,327.81 L388.61,327.92 L390.37,328.02 L392.13,328.13 L393.89,328.23 L394.6,328.24 L395.3,328.26 L396.01,328.27 L396.71,328.28 L397.42,328.28 L398.12,328.29 L398.82,328.29 L399.53,328.29 L400.23,328.29 L400.94,328.29 L401.64,328.28 L402.35,328.25 L403.05,328.2 L403.76,328.14 L404.46,328.07 L405.17,327.99 L405.87,327.9 L406.57,327.77 L407.28,327.56 L407.98,327.29 L408.69,327 L409.39,326.71 L410.1,326.42 L410.8,326.07 L411.51,325.85 L412.21,325.86 L412.92,325.91 L413.62,325.97 L414.32,325.98 L415.03,325.95 L415.73,325.88 L416.44,325.78 L417.14,325.66 L417.85,325.52 L418.55,325.39 L419.26,325.25 L419.96,325.09 L420.67,324.91 L421.37,324.72 L422.07,324.49 L422.78,324.25 L423.48,323.98 L424.19,323.67 L424.89,323.3 L425.6,322.86 L426.3,322.34 L427.01,321.7 L427.71,320.59 L428.41,319.47 L429.12,319.02 L429.82,318.8 L430.53,318.64 L431.23,318.47 L431.94,318.28 L432.64,318.11 L433.35,317.94 L434.05,317.75 L434.76,317.52 L435.46,317.22 L436.16,316.77 L436.87,316.31 L437.57,315.85 L438.28,315.45 L438.98,315.53 L439.69,316 L440.39,316.45 L441.1,316.51 L441.8,316.34 L442.51,316.11 L443.21,315.94 L443.91,315.9 L444.62,315.86 L445.32,315.85 L446.03,315.89 L446.73,316.04 L447.44,316.26 L448.14,316.53 L448.85,316.97 L449.55,317.52 L450.26,318.12 L450.96,318.75 L451.66,319.48 L452.37,320.32 L453.07,321.4 L453.78,322.53 L454.48,323.52 L455.19,324.49 L455.89,325.36 L456.6,325.97 L457.3,326.37 L458.01,326.71 L458.71,327 L459.41,327.23 L460.12,327.4 L460.82,327.52 L461.53,327.62 L462.23,327.71 L462.94,327.79 L463.64,327.86 L464.35,327.92 L465.05,327.97 L465.75,328.01 L466.46,328.03 L467.16,328.05 L467.87,328.06 L468.57,328.08 L469.28,328.09 L469.98,328.1 L470.69,328.11 L471.39,328.13 L472.1,328.14 L472.8,328.15 L473.5,328.15 L474.21,328.16 L474.91,328.17 L475.62,328.18 L476.32,328.18 L477.03,328.19 L477.73,328.19 L478.44,328.2 L479.14,328.2 L479.85,328.2 L480.55,328.21 L481.25,328.21 L481.96,328.21 L482.66,328.21 L483.37,328.21 L484.07,328.21 L484.78,328.21 L485.48,328.21 L486.19,328.2 L486.89,328.2 L487.6,328.2 L488.3,328.2 L489,328.2 L489.71,328.2 L490.41,328.19 L491.12,328.19 L491.82,328.19 L492.53,328.19 L493.23,328.19 L493.94,328.19 L494.64,328.18 L495.35,328.18 L496.05,328.18 L496.75,328.18 L497.46,328.18 L498.16,328.17 L498.87,328.17 L499.57,328.17 L500.28,328.17 L500.98,328.17 L501.69,328.17 L502.39,328.17 L503.09,328.17 L503.8,328.17 L504.5,328.18 L505.21,328.26 L505.91,328.38 L506.62,328.47 L507.32,328.48 L508.03,328.49 L508.73,328.49 L509.44,328.5 L510.14,328.5 L510.84,328.51 L511.55,328.51 L512.25,328.52 L512.96,328.52 L513.66,328.52 L514.37,328.52 L515.07,328.52 L515.78,328.53 L516.48,328.53 L517.19,328.53 L517.89,328.53 L518.59,328.53 L519.3,328.53 L520,328.54 L520.71,328.54 L521.41,328.54 L522.12,328.54 L522.82,328.54 L523.53,328.55 L524.23,328.55 L524.94,328.55 L525.64,328.55 L526.34,328.55 L527.05,328.56 L527.75,328.56 L528.46,328.56 L529.16,328.56 L529.87,328.56 L530.57,328.57 L531.28,328.57 L531.98,328.57 L532.69,328.57 L533.39,328.57 L534.09,328.57 L534.8,328.57 L535.5,328.58 L536.21,328.58 L536.91,328.58 L537.62,328.58 L538.32,328.58 L539.03,328.58 L539.73,328.58 L540.44,328.58 L541.14,328.59 L541.84,328.59 L542.55,328.59 L543.25,328.59 L543.96,328.59 L544.66,328.59 L545.37,328.6 L546.07,328.6 L546.78,328.6 L547.48,328.6 L548.18,328.6 L548.89,328.6 L549.59,328.61 L550.3,328.61 L551,328.61 L551.71,328.61 L552.41,328.61 L553.12,328.61 L553.82,328.62 L554.53,328.62 L555.23,328.62 L555.93,328.62 L556.64,328.62 L557.34,328.62 L558.05,328.62 L558.75,328.61 L559.46,328.59 L560.16,328.57 L560.87,328.54 L561.57,328.51 L562.28,328.48 L562.98,328.44 L563.68,328.4 L564.39,328.36 L565.09,328.31 L565.8,328.24 L566.5,328.16 L567.21,328.05 L567.91,327.94 L568.62,327.82 L569.32,327.7 L570.03,327.58 L570.73,327.44 L571.43,327.28 L572.14,327.11 L572.84,326.94 L573.55,326.79 L574.25,326.66 L574.96,326.56 L575.66,326.5 L576.37,326.45 L577.07,326.41 L577.78,326.37 L578.48,326.31 L579.18,326.22 L579.89,326.1 L580.59,325.95 L581.3,325.77 L582,325.56 L582.71,325.31 L583.41,324.98 L584.12,324.55 L584.82,324.04 L585.52,323.46 L586.23,322.83 L586.93,321.97 L587.64,320.79 L588.34,319.71 L589.05,319.12 L589.75,318.9 L590.46,318.75 L591.16,318.56 L591.87,318.11 L592.57,317.25 L593.27,316.25 L593.98,314.91 L594.68,313.48 L595.39,312.99 L596.09,313.39 L596.8,314.1 L597.5,314.83 L598.21,315.42 L598.91,316.03 L599.62,316.36 L600.32,316.23 L601.02,315.97 L601.73,316 L602.43,316.36 L603.14,316.88 L603.84,317.46 L604.55,318.27 L605.25,319.22 L605.96,320.17 L606.66,320.96 L607.37,321.65 L608.07,322.34 L608.77,322.97 L609.48,323.49 L610.18,323.84 L610.89,324.02 L611.59,324.16 L612.3,324.27 L613,324.37 L613.71,324.45 L614.41,324.52 L615.12,324.6 L615.82,324.67 L616.52,324.74 L617.23,324.8 L617.93,324.85 L618.64,324.91 L619.34,324.97 L620.05,325.03 L620.75,325.12 L621.46,325.21 L622.16,325.33 L622.86,325.45 L623.57,325.59 L624.27,325.73 L624.98,325.87 L625.68,326.02 L626.39,326.17 L627.09,326.32 L627.8,326.48 L628.5,326.66 L629.21,326.84 L629.91,327.02 L630.61,327.2 L631.32,327.38 L632.02,327.53 L632.73,327.67 L633.43,327.79 L634.14,327.89 L634.84,327.98 L635.55,328.07 L636.25,328.16 L636.96,328.23 L637.66,328.3 L638.36,328.37 L639.07,328.43 L639.77,328.49 L640.48,328.54 L641.18,328.59 L641.89,328.64 L642.59,328.69 L643.3,328.73 L644,328.76 L644.71,328.79 L645.41,328.79 L645.76,328.79 L647.52,328.8 L649.28,328.8 L651.05,328.8 L652.81,328.81 L654.57,328.81 L656.33,328.82 L658.09,328.82 L659.85,328.82 L661.61,328.83 L663.38,328.83 L665.14,328.84 L666.9,328.84 L668.66,328.84 L670.42,328.85 L672.18,328.85 L673.94,328.86 L675.7,328.86 L677.47,328.86 L679.23,328.87 L680.99,328.87 L682.75,328.88" stroke="#a867de"/>
<path d="M83.9,280.22 L84.25,281.24 L84.6,282.24 L84.96,283.24 L85.31,284.22 L85.66,285.18 L86.01,286.14 L86.37,287.09 L86.72,288.03 L87.07,288.96 L87.42,289.88 L87.77,290.79 L88.13,291.68 L88.48,292.53 L88.83,293.36 L89.18,294.17 L89.54,294.95 L89.89,295.72 L90.24,296.48 L90.59,297.22 L90.95,297.96 L91.3,298.7 L91.65,299.43 L92,300.14 L92.35,300.85 L92.71,301.54 L93.06,302.21 L93.41,302.86 L93.76,303.52 L94.12,304.18 L94.47,304.83 L94.82,305.47 L95.17,306.07 L95.52,306.62 L95.88,307.12 L96.23,307.55 L96.58,307.96 L96.93,308.35 L97.29,308.7 L97.64,309.01 L97.99,309.27 L98.34,309.49 L98.7,309.7 L99.05,309.9 L99.4,310.08 L99.75,310.25 L100.1,310.41 L100.46,310.56 L100.81,310.69 L101.16,310.83 L101.51,310.95 L101.87,311.07 L102.22,311.18 L102.57,311.28 L102.92,311.37 L103.27,311.42 L103.63,311.41 L103.98,311.36 L104.33,311.28 L104.68,311.17 L105.04,311.04 L105.39,310.89 L105.74,310.74 L106.09,310.54 L106.44,310.27 L106.8,309.94 L107.15,309.58 L107.5,309.2 L107.85,308.82 L108.21,308.46 L108.56,308.13 L108.91,307.83 L109.26,307.52 L109.62,307.22 L109.97,306.92 L110.32,306.63 L110.67,306.36 L111.02,306.11 L111.38,305.88 L111.73,305.67 L112.08,305.46 L112.43,305.25 L112.79,305.05 L113.14,304.88 L113.49,304.73 L113.84,304.61 L114.19,304.54 L114.55,304.49 L114.9,304.44 L115.25,304.4 L115.6,304.37 L115.96,304.37 L116.31,304.38 L116.66,304.44 L117.01,304.59 L117.37,304.83 L117.72,305.14 L118.07,305.48 L118.42,305.89 L118.77,306.54 L119.13,307.35 L119.48,308.18 L119.83,308.88 L120.18,309.47 L120.54,310.05 L120.89,310.58 L121.24,311.04 L121.59,311.42 L121.94,311.75 L122.3,312.08 L122.65,312.36 L123,312.56 L123.35,312.65 L123.71,312.62 L124.06,312.5 L124.41,312.3 L124.76,312.06 L125.11,311.79 L125.47,311.37 L125.82,310.82 L126.17,310.2 L126.52,309.54 L126.88,308.87 L127.23,308.07 L127.58,307.21 L127.93,306.35 L128.29,305.59 L128.64,304.97 L128.99,304.34 L129.34,303.73 L129.69,303.21 L130.05,302.85 L130.4,302.72 L130.75,302.8 L131.1,302.99 L131.46,303.27 L131.81,303.61 L132.16,304 L132.51,304.64 L132.86,305.61 L133.22,306.74 L133.57,307.86 L133.92,308.97 L134.27,310.16 L134.63,311.38 L134.98,312.62 L135.33,313.84 L135.68,315.12 L136.04,316.47 L136.39,317.76 L136.74,318.87 L137.09,319.72 L137.44,320.48 L137.8,321.18 L138.15,321.82 L138.5,322.38 L138.85,322.87 L139.21,323.28 L139.56,323.61 L139.91,323.91 L140.26,324.18 L140.61,324.42 L140.97,324.64 L141.32,324.83 L141.67,324.98 L142.02,325.11 L142.38,325.24 L142.73,325.36 L143.08,325.47 L143.43,325.57 L143.78,325.67 L144.14,325.76 L144.49,325.84 L144.84,325.93 L145.19,326 L145.55,326.08 L145.9,326.15 L146.25,326.21 L146.6,326.28 L146.96,326.34 L147.31,326.41 L147.66,326.47 L148.01,326.53 L148.36,326.58 L148.72,326.64 L149.07,326.7 L149.42,326.75 L149.77,326.8 L150.13,326.86 L150.48,326.91 L150.83,326.95 L151.18,327 L151.53,327.05 L151.89,327.09 L152.24,327.14 L152.59,327.18 L152.94,327.22 L153.3,327.26 L153.65,327.3 L154,327.33 L154.35,327.37 L154.71,327.4 L155.06,327.44 L155.41,327.47 L155.76,327.5 L156.11,327.53 L156.47,327.57 L156.82,327.6 L157.17,327.63 L157.52,327.66 L157.88,327.69 L158.23,327.72 L158.58,327.75 L158.93,327.78 L159.28,327.81 L159.64,327.84 L159.99,327.86 L160.34,327.89 L160.69,327.92 L161.05,327.94 L161.4,327.96 L161.75,327.98 L162.1,328.01 L162.46,328.03 L162.81,328.04 L163.16,328.06 L164.92,328.11 L166.68,328.11 L168.44,328.12 L170.2,328.12 L171.97,328.13 L173.73,328.13 L175.49,328.13 L177.25,328.13 L179.01,328.14 L180.77,328.14 L182.53,328.14 L184.3,328.14 L186.06,328.14 L187.82,328.14 L189.58,328.15 L191.34,328.15 L193.1,328.15 L194.86,328.15 L196.62,328.15 L198.39,328.15 L200.15,328.15 L201.91,328.15 L203.67,328.15 L205.43,328.14 L207.19,328.13 L208.95,328.11 L210.72,328.07 L212.48,327.99 L214.24,327.87 L216,327.69 L217.76,327.48 L219.52,327.26 L221.28,327.08 L223.04,326.98 L224.81,326.99 L226.57,327.11 L228.33,327.3 L230.09,327.52 L231.85,327.73 L233.61,327.89 L235.37,328.01 L237.14,328.08 L238.9,328.12 L240.66,328.14 L242.42,328.15 L242.77,328.15 L243.12,328.15 L243.48,328.14 L243.83,328.14 L244.18,328.13 L244.53,328.13 L244.88,328.12 L245.24,328.11 L245.59,328.1 L245.94,328.09 L246.29,328.08 L246.65,328.07 L247,328.06 L247.35,328.04 L247.7,328.03 L248.06,328.01 L248.41,328 L248.76,327.98 L249.11,327.96 L249.46,327.94 L249.82,327.92 L250.17,327.9 L250.52,327.88 L250.87,327.84 L251.23,327.8 L251.58,327.75 L251.93,327.7 L252.28,327.64 L252.63,327.58 L252.99,327.51 L253.34,327.44 L253.69,327.36 L254.04,327.28 L254.4,327.19 L254.75,327.08 L255.1,326.96 L255.45,326.82 L255.81,326.68 L256.16,326.53 L256.51,326.36 L256.86,326.19 L257.21,325.98 L257.57,325.74 L257.92,325.47 L258.27,325.18 L258.62,324.89 L258.98,324.61 L259.33,324.32 L259.68,324.03 L260.03,323.73 L260.38,323.41 L260.74,323.08 L261.09,322.72 L261.44,322.34 L261.79,321.93 L262.15,321.49 L262.5,321.03 L262.85,320.54 L263.2,320.01 L263.56,319.46 L263.91,318.87 L264.26,318.24 L264.61,317.58 L264.96,316.87 L265.32,316.08 L265.67,315.21 L266.02,314.26 L266.37,313.23 L266.73,312.12 L267.08,310.95 L267.43,309.61 L267.78,308.07 L268.13,306.41 L268.49,304.72 L268.84,303.09 L269.19,301.5 L269.54,299.89 L269.9,298.29 L270.25,296.73 L270.6,295.24 L270.95,293.87 L271.3,292.59 L271.66,291.33 L272.01,290.01 L272.36,288.56 L272.71,286.97 L273.07,285.27 L273.42,283.48 L273.77,281.61 L274.12,279.67 L274.48,277.69 L274.83,275.68 L275.18,273.64 L275.53,271.55 L275.88,269.37 L276.24,267.13 L276.59,264.85 L276.94,262.55 L277.29,260.25 L277.65,257.99 L278,255.81 L278.35,253.65 L278.7,251.46 L279.05,249.2 L279.41,246.79 L279.76,244.19 L280.11,241.25 L280.46,237.98 L280.82,234.57 L281.17,231.24 L281.52,228.13 L281.87,225.05 L282.23,222.01 L282.58,219.02 L282.93,216.13 L283.28,213.39 L283.63,210.82 L283.99,208.27 L284.34,205.73 L284.69,203.44 L285.04,201.64 L285.4,200.47 L285.75,199.47 L286.1,198.74 L286.45,198.45 L286.8,198.63 L287.16,199.1 L287.51,199.79 L287.86,200.61 L288.21,201.85 L288.57,203.74 L288.92,206.13 L289.27,208.85 L289.62,212.43 L289.97,217.12 L290.33,222.3 L290.68,227.36 L291.03,231.81 L291.38,235.97 L291.74,240.05 L292.09,244.18 L292.44,248.49 L292.79,252.85 L293.15,257.09 L293.5,261.07 L293.85,264.95 L294.2,268.66 L294.55,272.08 L294.91,275.09 L295.26,277.82 L295.61,280.35 L295.96,282.75 L296.32,285.07 L296.67,287.38 L297.02,289.74 L297.37,292.15 L297.72,294.57 L298.08,296.94 L298.43,299.18 L298.78,301.25 L299.13,303.07 L299.49,304.67 L299.84,306.1 L300.19,307.38 L300.54,308.55 L300.9,309.62 L301.25,310.62 L301.6,311.55 L301.95,312.45 L302.3,313.32 L302.66,314.17 L303.01,314.99 L303.36,315.76 L303.71,316.48 L304.07,317.13 L304.42,317.75 L304.77,318.35 L305.12,318.91 L305.47,319.43 L305.83,319.91 L306.18,320.34 L306.53,320.74 L306.88,321.12 L307.24,321.48 L307.59,321.81 L307.94,322.12 L308.29,322.4 L308.64,322.66 L309,322.89 L309.35,323.1 L309.7,323.31 L310.05,323.5 L310.41,323.68 L310.76,323.85 L311.11,324.01 L311.46,324.16 L311.82,324.31 L312.17,324.44 L312.52,324.56 L312.87,324.68 L313.22,324.79 L313.58,324.9 L313.93,325 L314.28,325.1 L314.63,325.19 L314.99,325.28 L315.34,325.37 L315.69,325.45 L316.04,325.53 L316.39,325.61 L316.75,325.68 L317.1,325.75 L317.45,325.81 L317.8,325.88 L318.16,325.95 L318.51,326.01 L318.86,326.07 L319.21,326.13 L319.57,326.18 L319.92,326.24 L320.27,326.29 L320.62,326.34 L320.97,326.38 L321.33,326.42 L321.68,326.46 L322.03,326.49 L322.38,326.53 L322.74,326.56 L323.09,326.58 L323.44,326.61 L323.79,326.64 L324.14,326.66 L324.5,326.68 L324.85,326.7 L325.2,326.72 L325.55,326.74 L325.91,326.76 L326.26,326.77 L326.61,326.79 L326.96,326.81 L327.31,326.82 L327.67,326.84 L328.02,326.85 L328.37,326.86 L328.72,326.87 L329.08,326.89 L329.43,326.9 L329.78,326.91 L330.13,326.91 L330.49,326.92 L332.25,326.98 L334.01,327.03 L335.77,327.08 L337.53,327.13 L339.29,327.18 L341.05,327.22 L342.81,327.25 L344.58,327.29 L346.34,327.32 L348.1,327.35 L349.86,327.39 L351.62,327.43 L353.38,327.46 L355.14,327.5 L356.91,327.53 L358.67,327.56 L360.43,327.59 L362.19,327.62 L363.95,327.65 L365.71,327.68 L367.47,327.71 L369.23,327.76 L371,327.82 L372.76,327.87 L374.52,327.93 L376.28,327.98 L378.04,328.03 L379.8,328.08 L381.56,328.14 L383.33,328.19 L385.09,328.25 L386.85,328.3 L388.61,328.36 L390.37,328.42 L392.13,328.49 L393.89,328.54 L394.6,328.55 L395.3,328.56 L396.01,328.57 L396.71,328.58 L397.42,328.59 L398.12,328.6 L398.82,328.61 L399.53,328.61 L400.23,328.62 L400.94,328.62 L401.64,328.62 L402.35,328.6 L403.05,328.58 L403.76,328.56 L404.46,328.53 L405.17,328.49 L405.87,328.45 L406.57,328.4 L407.28,328.3 L407.98,328.19 L408.69,328.06 L409.39,327.94 L410.1,327.81 L410.8,327.66 L411.51,327.56 L412.21,327.57 L412.92,327.59 L413.62,327.61 L414.32,327.62 L415.03,327.61 L415.73,327.58 L416.44,327.53 L417.14,327.48 L417.85,327.42 L418.55,327.36 L419.26,327.3 L419.96,327.23 L420.67,327.16 L421.37,327.07 L422.07,326.97 L422.78,326.87 L423.48,326.75 L424.19,326.62 L424.89,326.46 L425.6,326.27 L426.3,326.04 L427.01,325.76 L427.71,325.28 L428.41,324.79 L429.12,324.6 L429.82,324.5 L430.53,324.43 L431.23,324.36 L431.94,324.28 L432.64,324.2 L433.35,324.13 L434.05,324.05 L434.76,323.95 L435.46,323.82 L436.16,323.62 L436.87,323.42 L437.57,323.22 L438.28,323.05 L438.98,323.08 L439.69,323.29 L440.39,323.48 L441.1,323.51 L441.8,323.43 L442.51,323.33 L443.21,323.26 L443.91,323.24 L444.62,323.23 L445.32,323.22 L446.03,323.24 L446.73,323.31 L447.44,323.4 L448.14,323.52 L448.85,323.71 L449.55,323.95 L450.26,324.21 L450.96,324.48 L451.66,324.8 L452.37,325.17 L453.07,325.63 L453.78,326.12 L454.48,326.55 L455.19,326.97 L455.89,327.35 L456.6,327.61 L457.3,327.79 L458.01,327.94 L458.71,328.06 L459.41,328.16 L460.12,328.24 L460.82,328.29 L461.53,328.33 L462.23,328.37 L462.94,328.4 L463.64,328.44 L464.35,328.46 L465.05,328.48 L465.75,328.5 L466.46,328.51 L467.16,328.52 L467.87,328.52 L468.57,328.53 L469.28,328.54 L469.98,328.54 L470.69,328.55 L471.39,328.55 L472.1,328.56 L472.8,328.56 L473.5,328.56 L474.21,328.57 L474.91,328.57 L475.62,328.57 L476.32,328.58 L477.03,328.58 L477.73,328.58 L478.44,328.58 L479.14,328.58 L479.85,328.58 L480.55,328.59 L481.25,328.59 L481.96,328.59 L482.66,328.59 L483.37,328.59 L484.07,328.59 L484.78,328.59 L485.48,328.59 L486.19,328.58 L486.89,328.58 L487.6,328.58 L488.3,328.58 L489,328.58 L489.71,328.58 L490.41,328.58 L491.12,328.58 L491.82,328.58 L492.53,328.58 L493.23,328.58 L493.94,328.58 L494.64,328.58 L495.35,328.57 L496.05,328.57 L496.75,328.57 L497.46,328.57 L498.16,328.57 L498.87,328.57 L499.57,328.57 L500.28,328.57 L500.98,328.57 L501.69,328.57 L502.39,328.57 L503.09,328.57 L503.8,328.57 L504.5,328.57 L505.21,328.61 L505.91,328.66 L506.62,328.7 L507.32,328.71 L508.03,328.71 L508.73,328.71 L509.44,328.71 L510.14,328.72 L510.84,328.72 L511.55,328.72 L512.25,328.72 L512.96,328.72 L513.66,328.72 L514.37,328.72 L515.07,328.72 L515.78,328.72 L516.48,328.73 L517.19,328.73 L517.89,328.73 L518.59,328.73 L519.3,328.73 L520,328.73 L520.71,328.73 L521.41,328.73 L522.12,328.73 L522.82,328.73 L523.53,328.73 L524.23,328.73 L524.94,328.73 L525.64,328.74 L526.34,328.74 L527.05,328.74 L527.75,328.74 L528.46,328.74 L529.16,328.74 L529.87,328.74 L530.57,328.74 L531.28,328.74 L531.98,328.74 L532.69,328.74 L533.39,328.74 L534.09,328.74 L534.8,328.75 L535.5,328.75 L536.21,328.75 L536.91,328.75 L537.62,328.75 L538.32,328.75 L539.03,328.75 L539.73,328.75 L540.44,328.75 L541.14,328.75 L541.84,328.75 L542.55,328.75 L543.25,328.75 L543.96,328.75 L544.66,328.75 L545.37,328.75 L546.07,328.76 L546.78,328.76 L547.48,328.76 L548.18,328.76 L548.89,328.76 L549.59,328.76 L550.3,328.76 L551,328.76 L551.71,328.76 L552.41,328.76 L553.12,328.76 L553.82,328.76 L554.53,328.76 L555.23,328.76 L555.93,328.77 L556.64,328.77 L557.34,328.77 L558.05,328.76 L558.75,328.76 L559.46,328.75 L560.16,328.74 L560.87,328.73 L561.57,328.72 L562.28,328.7 L562.98,328.69 L563.68,328.67 L564.39,328.65 L565.09,328.63 L565.8,328.6 L566.5,328.56 L567.21,328.52 L567.91,328.47 L568.62,328.42 L569.32,328.37 L570.03,328.31 L570.73,328.25 L571.43,328.18 L572.14,328.11 L572.84,328.04 L573.55,327.97 L574.25,327.91 L574.96,327.87 L575.66,327.85 L576.37,327.82 L577.07,327.81 L577.78,327.79 L578.48,327.76 L579.18,327.72 L579.89,327.67 L580.59,327.61 L581.3,327.53 L582,327.44 L582.71,327.33 L583.41,327.18 L584.12,327 L584.82,326.78 L585.52,326.53 L586.23,326.25 L586.93,325.88 L587.64,325.37 L588.34,324.9 L589.05,324.64 L589.75,324.55 L590.46,324.48 L591.16,324.4 L591.87,324.21 L592.57,323.83 L593.27,323.4 L593.98,322.81 L594.68,322.19 L595.39,321.98 L596.09,322.15 L596.8,322.46 L597.5,322.78 L598.21,323.04 L598.91,323.3 L599.62,323.45 L600.32,323.39 L601.02,323.27 L601.73,323.29 L602.43,323.44 L603.14,323.67 L603.84,323.92 L604.55,324.27 L605.25,324.69 L605.96,325.1 L606.66,325.44 L607.37,325.74 L608.07,326.04 L608.77,326.32 L609.48,326.54 L610.18,326.69 L610.89,326.77 L611.59,326.83 L612.3,326.88 L613,326.92 L613.71,326.96 L614.41,326.99 L615.12,327.02 L615.82,327.05 L616.52,327.08 L617.23,327.11 L617.93,327.13 L618.64,327.15 L619.34,327.18 L620.05,327.21 L620.75,327.24 L621.46,327.29 L622.16,327.34 L622.86,327.39 L623.57,327.45 L624.27,327.51 L624.98,327.57 L625.68,327.64 L626.39,327.7 L627.09,327.77 L627.8,327.84 L628.5,327.91 L629.21,327.99 L629.91,328.07 L630.61,328.15 L631.32,328.23 L632.02,328.29 L632.73,328.35 L633.43,328.4 L634.14,328.45 L634.84,328.49 L635.55,328.53 L636.25,328.56 L636.96,328.6 L637.66,328.63 L638.36,328.66 L639.07,328.68 L639.77,328.71 L640.48,328.73 L641.18,328.75 L641.89,328.77 L642.59,328.79 L643.3,328.81 L644,328.83 L644.71,328.84 L645.41,328.84 L645.76,328.84 L647.52,328.84 L649.28,328.84 L651.05,328.85 L652.81,328.85 L654.57,328.85 L656.33,328.85 L658.09,328.85 L659.85,328.85 L661.61,328.86 L663.38,328.86 L665.14,328.86 L666.9,328.86 L668.66,328.86 L670.42,328.86 L672.18,328.87 L673.94,328.87 L675.7,328.87 L677.47,328.87 L679.23,328.87 L680.99,328.88 L682.75,328.88" stroke="#c8900a"/>
<path d="M83.9,297.56 L84.25,298.21 L84.6,298.84 L84.96,299.47 L85.31,300.1 L85.66,300.71 L86.01,301.31 L86.37,301.91 L86.72,302.51 L87.07,303.1 L87.42,303.68 L87.77,304.25 L88.13,304.81 L88.48,305.35 L88.83,305.87 L89.18,306.38 L89.54,306.88 L89.89,307.36 L90.24,307.84 L90.59,308.31 L90.95,308.78 L91.3,309.24 L91.65,309.7 L92,310.15 L92.35,310.59 L92.71,311.02 L93.06,311.45 L93.41,311.86 L93.76,312.27 L94.12,312.68 L94.47,313.09 L94.82,313.49 L95.17,313.87 L95.52,314.22 L95.88,314.53 L96.23,314.8 L96.58,315.06 L96.93,315.31 L97.29,315.53 L97.64,315.73 L97.99,315.9 L98.34,316.04 L98.7,316.18 L99.05,316.31 L99.4,316.43 L99.75,316.55 L100.1,316.65 L100.46,316.75 L100.81,316.84 L101.16,316.93 L101.51,317.01 L101.87,317.09 L102.22,317.17 L102.57,317.24 L102.92,317.3 L103.27,317.33 L103.63,317.34 L103.98,317.32 L104.33,317.27 L104.68,317.21 L105.04,317.14 L105.39,317.06 L105.74,316.97 L106.09,316.86 L106.44,316.7 L106.8,316.51 L107.15,316.29 L107.5,316.07 L107.85,315.85 L108.21,315.63 L108.56,315.44 L108.91,315.26 L109.26,315.08 L109.62,314.9 L109.97,314.72 L110.32,314.55 L110.67,314.4 L111.02,314.25 L111.38,314.12 L111.73,313.99 L112.08,313.86 L112.43,313.74 L112.79,313.63 L113.14,313.53 L113.49,313.44 L113.84,313.37 L114.19,313.33 L114.55,313.3 L114.9,313.28 L115.25,313.26 L115.6,313.24 L115.96,313.24 L116.31,313.26 L116.66,313.29 L117.01,313.39 L117.37,313.54 L117.72,313.72 L118.07,313.93 L118.42,314.18 L118.77,314.58 L119.13,315.07 L119.48,315.57 L119.83,316 L120.18,316.36 L120.54,316.71 L120.89,317.03 L121.24,317.31 L121.59,317.54 L121.94,317.75 L122.3,317.94 L122.65,318.12 L123,318.24 L123.35,318.3 L123.71,318.28 L124.06,318.2 L124.41,318.09 L124.76,317.94 L125.11,317.78 L125.47,317.53 L125.82,317.2 L126.17,316.82 L126.52,316.43 L126.88,316.02 L127.23,315.54 L127.58,315.02 L127.93,314.51 L128.29,314.05 L128.64,313.67 L128.99,313.29 L129.34,312.92 L129.69,312.61 L130.05,312.4 L130.4,312.32 L130.75,312.37 L131.1,312.48 L131.46,312.65 L131.81,312.86 L132.16,313.1 L132.51,313.48 L132.86,314.07 L133.22,314.75 L133.57,315.44 L133.92,316.11 L134.27,316.82 L134.63,317.56 L134.98,318.31 L135.33,319.05 L135.68,319.83 L136.04,320.64 L136.39,321.42 L136.74,322.09 L137.09,322.61 L137.44,323.07 L137.8,323.49 L138.15,323.87 L138.5,324.22 L138.85,324.51 L139.21,324.76 L139.56,324.96 L139.91,325.14 L140.26,325.3 L140.61,325.46 L140.97,325.6 L141.32,325.72 L141.67,325.82 L142.02,325.91 L142.38,325.99 L142.73,326.07 L143.08,326.15 L143.43,326.22 L143.78,326.28 L144.14,326.35 L144.49,326.41 L144.84,326.47 L145.19,326.52 L145.55,326.57 L145.9,326.62 L146.25,326.67 L146.6,326.72 L146.96,326.77 L147.31,326.81 L147.66,326.86 L148.01,326.9 L148.36,326.95 L148.72,326.99 L149.07,327.03 L149.42,327.07 L149.77,327.11 L150.13,327.15 L150.48,327.19 L150.83,327.23 L151.18,327.27 L151.53,327.3 L151.89,327.34 L152.24,327.37 L152.59,327.41 L152.94,327.44 L153.3,327.47 L153.65,327.51 L154,327.54 L154.35,327.57 L154.71,327.59 L155.06,327.62 L155.41,327.65 L155.76,327.68 L156.11,327.71 L156.47,327.74 L156.82,327.77 L157.17,327.79 L157.52,327.82 L157.88,327.85 L158.23,327.87 L158.58,327.9 L158.93,327.93 L159.28,327.95 L159.64,327.98 L159.99,328 L160.34,328.02 L160.69,328.05 L161.05,328.07 L161.4,328.09 L161.75,328.11 L162.1,328.13 L162.46,328.15 L162.81,328.17 L163.16,328.19 L164.92,328.22 L166.68,328.23 L168.44,328.23 L170.2,328.23 L171.97,328.23 L173.73,328.24 L175.49,328.24 L177.25,328.24 L179.01,328.24 L180.77,328.24 L182.53,328.24 L184.3,328.24 L186.06,328.24 L187.82,328.24 L189.58,328.25 L191.34,328.25 L193.1,328.25 L194.86,328.25 L196.62,328.25 L198.39,328.25 L200.15,328.25 L201.91,328.25 L203.67,328.25 L205.43,328.24 L207.19,328.24 L208.95,328.22 L210.72,328.2 L212.48,328.15 L214.24,328.07 L216,327.95 L217.76,327.82 L219.52,327.68 L221.28,327.56 L223.04,327.5 L224.81,327.5 L226.57,327.58 L228.33,327.7 L230.09,327.85 L231.85,327.98 L233.61,328.08 L235.37,328.16 L237.14,328.2 L238.9,328.23 L240.66,328.24 L242.42,328.25 L242.77,328.3 L243.12,328.3 L243.48,328.3 L243.83,328.29 L244.18,328.29 L244.53,328.29 L244.88,328.28 L245.24,328.27 L245.59,328.27 L245.94,328.26 L246.29,328.25 L246.65,328.24 L247,328.23 L247.35,328.22 L247.7,328.21 L248.06,328.2 L248.41,328.19 L248.76,328.17 L249.11,328.16 L249.46,328.15 L249.82,328.13 L250.17,328.12 L250.52,328.1 L250.87,328.08 L251.23,328.05 L251.58,328.02 L251.93,327.99 L252.28,327.96 L252.63,327.93 L252.99,327.89 L253.34,327.85 L253.69,327.81 L254.04,327.76 L254.4,327.71 L254.75,327.65 L255.1,327.58 L255.45,327.51 L255.81,327.43 L256.16,327.34 L256.51,327.25 L256.86,327.15 L257.21,327.04 L257.57,326.91 L257.92,326.76 L258.27,326.61 L258.62,326.45 L258.98,326.3 L259.33,326.14 L259.68,325.98 L260.03,325.81 L260.38,325.63 L260.74,325.42 L261.09,325.19 L261.44,324.93 L261.79,324.65 L262.15,324.35 L262.5,324.03 L262.85,323.69 L263.2,323.33 L263.56,322.96 L263.91,322.56 L264.26,322.15 L264.61,321.73 L264.96,321.27 L265.32,320.78 L265.67,320.24 L266.02,319.65 L266.37,319.02 L266.73,318.36 L267.08,317.65 L267.43,316.85 L267.78,315.96 L268.13,315.01 L268.49,314.03 L268.84,313.06 L269.19,312.09 L269.54,311.09 L269.9,310.08 L270.25,309.09 L270.6,308.11 L270.95,307.19 L271.3,306.31 L271.66,305.43 L272.01,304.53 L272.36,303.58 L272.71,302.57 L273.07,301.5 L273.42,300.39 L273.77,299.24 L274.12,298.06 L274.48,296.86 L274.83,295.63 L275.18,294.39 L275.53,293.12 L275.88,291.81 L276.24,290.46 L276.59,289.1 L276.94,287.74 L277.29,286.39 L277.65,285.04 L278,283.72 L278.35,282.39 L278.7,281.02 L279.05,279.57 L279.41,278.01 L279.76,276.3 L280.11,274.28 L280.46,271.99 L280.82,269.56 L281.17,267.13 L281.52,264.8 L281.87,262.55 L282.23,260.38 L282.58,258.21 L282.93,256.07 L283.28,254.06 L283.63,252.25 L283.99,250.65 L284.34,249.18 L284.69,247.84 L285.04,246.76 L285.4,246.03 L285.75,245.44 L286.1,245.06 L286.45,244.98 L286.8,245.22 L287.16,245.67 L287.51,246.28 L287.86,247.01 L288.21,247.98 L288.57,249.26 L288.92,250.95 L289.27,253.07 L289.62,255.78 L289.97,259.07 L290.33,262.58 L290.68,265.94 L291.03,268.85 L291.38,271.58 L291.74,274.24 L292.09,276.91 L292.44,279.62 L292.79,282.34 L293.15,284.96 L293.5,287.45 L293.85,289.87 L294.2,292.21 L294.55,294.38 L294.91,296.35 L295.26,298.14 L295.61,299.79 L295.96,301.32 L296.32,302.78 L296.67,304.22 L297.02,305.65 L297.37,307.1 L297.72,308.52 L298.08,309.89 L298.43,311.19 L298.78,312.38 L299.13,313.44 L299.49,314.38 L299.84,315.24 L300.19,316.03 L300.54,316.75 L300.9,317.43 L301.25,318.06 L301.6,318.65 L301.95,319.22 L302.3,319.76 L302.66,320.29 L303.01,320.78 L303.36,321.25 L303.71,321.68 L304.07,322.06 L304.42,322.43 L304.77,322.77 L305.12,323.1 L305.47,323.41 L305.83,323.7 L306.18,323.96 L306.53,324.2 L306.88,324.43 L307.24,324.65 L307.59,324.85 L307.94,325.04 L308.29,325.22 L308.64,325.37 L309,325.51 L309.35,325.64 L309.7,325.76 L310.05,325.87 L310.41,325.98 L310.76,326.07 L311.11,326.17 L311.46,326.25 L311.82,326.34 L312.17,326.42 L312.52,326.49 L312.87,326.56 L313.22,326.63 L313.58,326.69 L313.93,326.75 L314.28,326.81 L314.63,326.87 L314.99,326.92 L315.34,326.97 L315.69,327.01 L316.04,327.06 L316.39,327.1 L316.75,327.14 L317.1,327.17 L317.45,327.21 L317.8,327.24 L318.16,327.27 L318.51,327.3 L318.86,327.32 L319.21,327.35 L319.57,327.37 L319.92,327.4 L320.27,327.42 L320.62,327.44 L320.97,327.46 L321.33,327.48 L321.68,327.5 L322.03,327.51 L322.38,327.53 L322.74,327.54 L323.09,327.55 L323.44,327.56 L323.79,327.57 L324.14,327.59 L324.5,327.59 L324.85,327.6 L325.2,327.61 L325.55,327.62 L325.91,327.63 L326.26,327.64 L326.61,327.64 L326.96,327.65 L327.31,327.66 L327.67,327.66 L328.02,327.67 L328.37,327.67 L328.72,327.68 L329.08,327.68 L329.43,327.69 L329.78,327.69 L330.13,327.7 L330.49,327.43 L332.25,327.47 L334.01,327.5 L335.77,327.54 L337.53,327.57 L339.29,327.6 L341.05,327.63 L342.81,327.66 L344.58,327.68 L346.34,327.71 L348.1,327.73 L349.86,327.76 L351.62,327.78 L353.38,327.81 L355.14,327.83 L356.91,327.86 L358.67,327.88 L360.43,327.9 L362.19,327.92 L363.95,327.94 L365.71,327.96 L367.47,327.99 L369.23,328.02 L371,328.06 L372.76,328.1 L374.52,328.14 L376.28,328.18 L378.04,328.22 L379.8,328.26 L381.56,328.31 L383.33,328.35 L385.09,328.39 L386.85,328.44 L388.61,328.49 L390.37,328.53 L392.13,328.58 L393.89,328.63 L394.6,328.64 L395.3,328.65 L396.01,328.66 L396.71,328.67 L397.42,328.68 L398.12,328.68 L398.82,328.69 L399.53,328.7 L400.23,328.71 L400.94,328.71 L401.64,328.71 L402.35,328.7 L403.05,328.69 L403.76,328.67 L404.46,328.65 L405.17,328.63 L405.87,328.61 L406.57,328.57 L407.28,328.51 L407.98,328.43 L408.69,328.35 L409.39,328.27 L410.1,328.19 L410.8,328.09 L411.51,328.03 L412.21,328.03 L412.92,328.05 L413.62,328.06 L414.32,328.07 L415.03,328.06 L415.73,328.04 L416.44,328.01 L417.14,327.98 L417.85,327.94 L418.55,327.9 L419.26,327.86 L419.96,327.82 L420.67,327.77 L421.37,327.72 L422.07,327.65 L422.78,327.59 L423.48,327.51 L424.19,327.42 L424.89,327.32 L425.6,327.2 L426.3,327.05 L427.01,326.88 L427.71,326.56 L428.41,326.25 L429.12,326.13 L429.82,326.07 L430.53,326.02 L431.23,325.97 L431.94,325.92 L432.64,325.87 L433.35,325.83 L434.05,325.77 L434.76,325.71 L435.46,325.62 L436.16,325.5 L436.87,325.37 L437.57,325.24 L438.28,325.13 L438.98,325.15 L439.69,325.28 L440.39,325.41 L441.1,325.43 L441.8,325.38 L442.51,325.31 L443.21,325.27 L443.91,325.26 L444.62,325.25 L445.32,325.24 L446.03,325.25 L446.73,325.3 L447.44,325.36 L448.14,325.43 L448.85,325.55 L449.55,325.71 L450.26,325.88 L450.96,326.05 L451.66,326.25 L452.37,326.49 L453.07,326.79 L453.78,327.11 L454.48,327.38 L455.19,327.65 L455.89,327.89 L456.6,328.07 L457.3,328.18 L458.01,328.27 L458.71,328.35 L459.41,328.42 L460.12,328.46 L460.82,328.5 L461.53,328.53 L462.23,328.55 L462.94,328.57 L463.64,328.59 L464.35,328.61 L465.05,328.62 L465.75,328.63 L466.46,328.64 L467.16,328.65 L467.87,328.65 L468.57,328.65 L469.28,328.66 L469.98,328.66 L470.69,328.66 L471.39,328.67 L472.1,328.67 L472.8,328.67 L473.5,328.68 L474.21,328.68 L474.91,328.68 L475.62,328.68 L476.32,328.68 L477.03,328.68 L477.73,328.69 L478.44,328.69 L479.14,328.69 L479.85,328.69 L480.55,328.69 L481.25,328.69 L481.96,328.69 L482.66,328.69 L483.37,328.69 L484.07,328.69 L484.78,328.69 L485.48,328.69 L486.19,328.69 L486.89,328.69 L487.6,328.69 L488.3,328.69 L489,328.69 L489.71,328.69 L490.41,328.69 L491.12,328.69 L491.82,328.69 L492.53,328.68 L493.23,328.68 L493.94,328.68 L494.64,328.68 L495.35,328.68 L496.05,328.68 L496.75,328.68 L497.46,328.68 L498.16,328.68 L498.87,328.68 L499.57,328.68 L500.28,328.68 L500.98,328.68 L501.69,328.68 L502.39,328.68 L503.09,328.68 L503.8,328.68 L504.5,328.68 L505.21,328.71 L505.91,328.74 L506.62,328.76 L507.32,328.77 L508.03,328.77 L508.73,328.77 L509.44,328.77 L510.14,328.77 L510.84,328.77 L511.55,328.78 L512.25,328.78 L512.96,328.78 L513.66,328.78 L514.37,328.78 L515.07,328.78 L515.78,328.78 L516.48,328.78 L517.19,328.78 L517.89,328.78 L518.59,328.78 L519.3,328.78 L520,328.78 L520.71,328.78 L521.41,328.78 L522.12,328.78 L522.82,328.78 L523.53,328.78 L524.23,328.79 L524.94,328.79 L525.64,328.79 L526.34,328.79 L527.05,328.79 L527.75,328.79 L528.46,328.79 L529.16,328.79 L529.87,328.79 L530.57,328.79 L531.28,328.79 L531.98,328.79 L532.69,328.79 L533.39,328.79 L534.09,328.79 L534.8,328.79 L535.5,328.79 L536.21,328.79 L536.91,328.79 L537.62,328.79 L538.32,328.79 L539.03,328.79 L539.73,328.79 L540.44,328.8 L541.14,328.8 L541.84,328.8 L542.55,328.8 L543.25,328.8 L543.96,328.8 L544.66,328.8 L545.37,328.8 L546.07,328.8 L546.78,328.8 L547.48,328.8 L548.18,328.8 L548.89,328.8 L549.59,328.8 L550.3,328.8 L551,328.8 L551.71,328.8 L552.41,328.8 L553.12,328.8 L553.82,328.8 L554.53,328.8 L555.23,328.8 L555.93,328.81 L556.64,328.81 L557.34,328.81 L558.05,328.8 L558.75,328.8 L559.46,328.8 L560.16,328.79 L560.87,328.78 L561.57,328.77 L562.28,328.77 L562.98,328.75 L563.68,328.74 L564.39,328.73 L565.09,328.72 L565.8,328.7 L566.5,328.68 L567.21,328.65 L567.91,328.62 L568.62,328.58 L569.32,328.55 L570.03,328.51 L570.73,328.48 L571.43,328.43 L572.14,328.38 L572.84,328.34 L573.55,328.29 L574.25,328.26 L574.96,328.23 L575.66,328.21 L576.37,328.2 L577.07,328.19 L577.78,328.18 L578.48,328.16 L579.18,328.14 L579.89,328.1 L580.59,328.06 L581.3,328.01 L582,327.95 L582.71,327.88 L583.41,327.79 L584.12,327.67 L584.82,327.53 L585.52,327.37 L586.23,327.19 L586.93,326.95 L587.64,326.62 L588.34,326.32 L589.05,326.15 L589.75,326.09 L590.46,326.05 L591.16,326 L591.87,325.87 L592.57,325.63 L593.27,325.35 L593.98,324.98 L594.68,324.58 L595.39,324.45 L596.09,324.55 L596.8,324.75 L597.5,324.96 L598.21,325.12 L598.91,325.29 L599.62,325.39 L600.32,325.35 L601.02,325.28 L601.73,325.28 L602.43,325.38 L603.14,325.53 L603.84,325.69 L604.55,325.92 L605.25,326.18 L605.96,326.45 L606.66,326.67 L607.37,326.86 L608.07,327.05 L608.77,327.23 L609.48,327.37 L610.18,327.47 L610.89,327.52 L611.59,327.56 L612.3,327.59 L613,327.62 L613.71,327.64 L614.41,327.66 L615.12,327.68 L615.82,327.7 L616.52,327.72 L617.23,327.74 L617.93,327.75 L618.64,327.77 L619.34,327.79 L620.05,327.8 L620.75,327.83 L621.46,327.85 L622.16,327.89 L622.86,327.92 L623.57,327.96 L624.27,328 L624.98,328.04 L625.68,328.08 L626.39,328.12 L627.09,328.16 L627.8,328.21 L628.5,328.26 L629.21,328.31 L629.91,328.36 L630.61,328.41 L631.32,328.46 L632.02,328.5 L632.73,328.54 L633.43,328.57 L634.14,328.6 L634.84,328.63 L635.55,328.65 L636.25,328.68 L636.96,328.7 L637.66,328.72 L638.36,328.74 L639.07,328.75 L639.77,328.77 L640.48,328.78 L641.18,328.8 L641.89,328.81 L642.59,328.82 L643.3,328.83 L644,328.84 L644.71,328.85 L645.41,328.85 L645.76,328.85 L647.52,328.85 L649.28,328.86 L651.05,328.86 L652.81,328.86 L654.57,328.86 L656.33,328.86 L658.09,328.86 L659.85,328.86 L661.61,328.86 L663.38,328.86 L665.14,328.87 L666.9,328.87 L668.66,328.87 L670.42,328.87 L672.18,328.87 L673.94,328.87 L675.7,328.87 L677.47,328.87 L679.23,328.87 L680.99,328.88 L682.75,328.88" stroke="#10cccc"/>
<path d="M83.9,312.38 L84.25,312.7 L84.6,313.01 L84.96,313.33 L85.31,313.64 L85.66,313.94 L86.01,314.24 L86.37,314.54 L86.72,314.83 L87.07,315.13 L87.42,315.42 L87.77,315.7 L88.13,315.98 L88.48,316.25 L88.83,316.51 L89.18,316.76 L89.54,317.01 L89.89,317.25 L90.24,317.49 L90.59,317.72 L90.95,317.96 L91.3,318.19 L91.65,318.41 L92,318.64 L92.35,318.86 L92.71,319.07 L93.06,319.28 L93.41,319.49 L93.76,319.69 L94.12,319.9 L94.47,320.1 L94.82,320.3 L95.17,320.49 L95.52,320.66 L95.88,320.82 L96.23,320.96 L96.58,321.09 L96.93,321.21 L97.29,321.32 L97.64,321.42 L97.99,321.5 L98.34,321.57 L98.7,321.64 L99.05,321.7 L99.4,321.76 L99.75,321.82 L100.1,321.87 L100.46,321.92 L100.81,321.96 L101.16,322.01 L101.51,322.05 L101.87,322.09 L102.22,322.12 L102.57,322.16 L102.92,322.19 L103.27,322.2 L103.63,322.2 L103.98,322.19 L104.33,322.17 L104.68,322.14 L105.04,322.1 L105.39,322.06 L105.74,322.01 L106.09,321.95 L106.44,321.87 L106.8,321.78 L107.15,321.67 L107.5,321.56 L107.85,321.44 L108.21,321.33 L108.56,321.24 L108.91,321.14 L109.26,321.05 L109.62,320.96 L109.97,320.87 L110.32,320.79 L110.67,320.7 L111.02,320.63 L111.38,320.56 L111.73,320.5 L112.08,320.44 L112.43,320.37 L112.79,320.32 L113.14,320.26 L113.49,320.22 L113.84,320.19 L114.19,320.16 L114.55,320.15 L114.9,320.14 L115.25,320.12 L115.6,320.12 L115.96,320.12 L116.31,320.12 L116.66,320.14 L117.01,320.19 L117.37,320.26 L117.72,320.36 L118.07,320.46 L118.42,320.59 L118.77,320.79 L119.13,321.03 L119.48,321.29 L119.83,321.5 L120.18,321.68 L120.54,321.86 L120.89,322.02 L121.24,322.16 L121.59,322.28 L121.94,322.38 L122.3,322.48 L122.65,322.57 L123,322.63 L123.35,322.66 L123.71,322.65 L124.06,322.61 L124.41,322.55 L124.76,322.48 L125.11,322.39 L125.47,322.27 L125.82,322.1 L126.17,321.91 L126.52,321.71 L126.88,321.51 L127.23,321.27 L127.58,321 L127.93,320.74 L128.29,320.51 L128.64,320.32 L128.99,320.13 L129.34,319.95 L129.69,319.79 L130.05,319.68 L130.4,319.64 L130.75,319.67 L131.1,319.72 L131.46,319.81 L131.81,319.91 L132.16,320.03 L132.51,320.23 L132.86,320.52 L133.22,320.87 L133.57,321.21 L133.92,321.55 L134.27,321.91 L134.63,322.28 L134.98,322.66 L135.33,323.03 L135.68,323.42 L136.04,323.83 L136.39,324.22 L136.74,324.56 L137.09,324.82 L137.44,325.05 L137.8,325.27 L138.15,325.46 L138.5,325.63 L138.85,325.78 L139.21,325.91 L139.56,326.01 L139.91,326.1 L140.26,326.18 L140.61,326.27 L140.97,326.35 L141.32,326.41 L141.67,326.47 L142.02,326.53 L142.38,326.58 L142.73,326.63 L143.08,326.68 L143.43,326.72 L143.78,326.76 L144.14,326.81 L144.49,326.85 L144.84,326.88 L145.19,326.92 L145.55,326.96 L145.9,326.99 L146.25,327.03 L146.6,327.06 L146.96,327.1 L147.31,327.13 L147.66,327.16 L148.01,327.2 L148.36,327.23 L148.72,327.26 L149.07,327.29 L149.42,327.32 L149.77,327.35 L150.13,327.38 L150.48,327.41 L150.83,327.44 L151.18,327.47 L151.53,327.5 L151.89,327.53 L152.24,327.56 L152.59,327.59 L152.94,327.61 L153.3,327.64 L153.65,327.67 L154,327.69 L154.35,327.72 L154.71,327.74 L155.06,327.77 L155.41,327.79 L155.76,327.82 L156.11,327.84 L156.47,327.87 L156.82,327.89 L157.17,327.92 L157.52,327.94 L157.88,327.96 L158.23,327.99 L158.58,328.01 L158.93,328.03 L159.28,328.06 L159.64,328.08 L159.99,328.1 L160.34,328.12 L160.69,328.15 L161.05,328.17 L161.4,328.19 L161.75,328.21 L162.1,328.23 L162.46,328.25 L162.81,328.27 L163.16,328.29 L164.92,328.31 L166.68,328.31 L168.44,328.31 L170.2,328.31 L171.97,328.31 L173.73,328.31 L175.49,328.31 L177.25,328.31 L179.01,328.31 L180.77,328.31 L182.53,328.31 L184.3,328.31 L186.06,328.31 L187.82,328.31 L189.58,328.31 L191.34,328.31 L193.1,328.31 L194.86,328.31 L196.62,328.31 L198.39,328.31 L200.15,328.31 L201.91,328.31 L203.67,328.31 L205.43,328.31 L207.19,328.31 L208.95,328.3 L210.72,328.28 L212.48,328.25 L214.24,328.2 L216,328.13 L217.76,328.04 L219.52,327.95 L221.28,327.88 L223.04,327.84 L224.81,327.84 L226.57,327.89 L228.33,327.97 L230.09,328.06 L231.85,328.14 L233.61,328.21 L235.37,328.26 L237.14,328.28 L238.9,328.3 L240.66,328.31 L242.42,328.31 L242.77,328.39 L243.12,328.39 L243.48,328.39 L243.83,328.39 L244.18,328.38 L244.53,328.38 L244.88,328.38 L245.24,328.37 L245.59,328.37 L245.94,328.36 L246.29,328.35 L246.65,328.35 L247,328.34 L247.35,328.33 L247.7,328.32 L248.06,328.31 L248.41,328.31 L248.76,328.3 L249.11,328.29 L249.46,328.28 L249.82,328.27 L250.17,328.25 L250.52,328.24 L250.87,328.23 L251.23,328.21 L251.58,328.2 L251.93,328.18 L252.28,328.17 L252.63,328.15 L252.99,328.13 L253.34,328.11 L253.69,328.09 L254.04,328.06 L254.4,328.04 L254.75,328.01 L255.1,327.97 L255.45,327.94 L255.81,327.9 L256.16,327.86 L256.51,327.81 L256.86,327.76 L257.21,327.71 L257.57,327.65 L257.92,327.58 L258.27,327.51 L258.62,327.44 L258.98,327.36 L259.33,327.28 L259.68,327.2 L260.03,327.12 L260.38,327.02 L260.74,326.89 L261.09,326.74 L261.44,326.57 L261.79,326.38 L262.15,326.18 L262.5,325.96 L262.85,325.72 L263.2,325.48 L263.56,325.22 L263.91,324.96 L264.26,324.7 L264.61,324.43 L264.96,324.15 L265.32,323.84 L265.67,323.52 L266.02,323.17 L266.37,322.81 L266.73,322.42 L267.08,322.01 L267.43,321.57 L267.78,321.09 L268.13,320.59 L268.49,320.06 L268.84,319.51 L269.19,318.93 L269.54,318.34 L269.9,317.72 L270.25,317.1 L270.6,316.47 L270.95,315.85 L271.3,315.24 L271.66,314.64 L272.01,314.03 L272.36,313.41 L272.71,312.78 L273.07,312.13 L273.42,311.46 L273.77,310.78 L274.12,310.09 L274.48,309.39 L274.83,308.67 L275.18,307.95 L275.53,307.21 L275.88,306.46 L276.24,305.69 L276.59,304.92 L276.94,304.16 L277.29,303.41 L277.65,302.65 L278,301.89 L278.35,301.09 L278.7,300.25 L279.05,299.35 L279.41,298.36 L279.76,297.25 L280.11,295.87 L280.46,294.26 L280.82,292.52 L281.17,290.74 L281.52,289.01 L281.87,287.36 L282.23,285.81 L282.58,284.22 L282.93,282.64 L283.28,281.16 L283.63,279.89 L283.99,278.91 L284.34,278.12 L284.69,277.39 L285.04,276.78 L285.4,276.33 L285.75,276 L286.1,275.84 L286.45,275.88 L286.8,276.13 L287.16,276.54 L287.51,277.07 L287.86,277.7 L288.21,278.45 L288.57,279.31 L288.92,280.51 L289.27,282.17 L289.62,284.21 L289.97,286.52 L290.33,288.89 L290.68,291.09 L291.03,292.97 L291.38,294.74 L291.74,296.46 L292.09,298.14 L292.44,299.81 L292.79,301.45 L293.15,303.02 L293.5,304.52 L293.85,305.99 L294.2,307.42 L294.55,308.79 L294.91,310.05 L295.26,311.21 L295.61,312.27 L295.96,313.22 L296.32,314.11 L296.67,314.98 L297.02,315.82 L297.37,316.64 L297.72,317.42 L298.08,318.17 L298.43,318.86 L298.78,319.5 L299.13,320.07 L299.49,320.59 L299.84,321.09 L300.19,321.55 L300.54,321.99 L300.9,322.4 L301.25,322.79 L301.6,323.16 L301.95,323.51 L302.3,323.84 L302.66,324.15 L303.01,324.44 L303.36,324.71 L303.71,324.95 L304.07,325.16 L304.42,325.36 L304.77,325.55 L305.12,325.73 L305.47,325.9 L305.83,326.07 L306.18,326.22 L306.53,326.36 L306.88,326.5 L307.24,326.62 L307.59,326.74 L307.94,326.85 L308.29,326.95 L308.64,327.05 L309,327.13 L309.35,327.2 L309.7,327.27 L310.05,327.33 L310.41,327.38 L310.76,327.43 L311.11,327.48 L311.46,327.53 L311.82,327.58 L312.17,327.62 L312.52,327.66 L312.87,327.7 L313.22,327.74 L313.58,327.77 L313.93,327.81 L314.28,327.84 L314.63,327.87 L314.99,327.9 L315.34,327.93 L315.69,327.95 L316.04,327.97 L316.39,327.99 L316.75,328.01 L317.1,328.02 L317.45,328.04 L317.8,328.05 L318.16,328.06 L318.51,328.06 L318.86,328.07 L319.21,328.08 L319.57,328.08 L319.92,328.09 L320.27,328.1 L320.62,328.1 L320.97,328.11 L321.33,328.11 L321.68,328.12 L322.03,328.12 L322.38,328.12 L322.74,328.13 L323.09,328.13 L323.44,328.13 L323.79,328.13 L324.14,328.14 L324.5,328.14 L324.85,328.14 L325.2,328.14 L325.55,328.15 L325.91,328.15 L326.26,328.15 L326.61,328.15 L326.96,328.15 L327.31,328.15 L327.67,328.15 L328.02,328.16 L328.37,328.16 L328.72,328.16 L329.08,328.16 L329.43,328.16 L329.78,328.16 L330.13,328.16 L330.49,327.76 L332.25,327.79 L334.01,327.82 L335.77,327.84 L337.53,327.86 L339.29,327.89 L341.05,327.91 L342.81,327.93 L344.58,327.94 L346.34,327.96 L348.1,327.98 L349.86,328 L351.62,328.02 L353.38,328.04 L355.14,328.06 L356.91,328.07 L358.67,328.09 L360.43,328.11 L362.19,328.12 L363.95,328.14 L365.71,328.15 L367.47,328.17 L369.23,328.2 L371,328.22 L372.76,328.25 L374.52,328.28 L376.28,328.31 L378.04,328.35 L379.8,328.38 L381.56,328.42 L383.33,328.46 L385.09,328.49 L386.85,328.53 L388.61,328.57 L390.37,328.61 L392.13,328.65 L393.89,328.68 L394.6,328.69 L395.3,328.7 L396.01,328.71 L396.71,328.72 L397.42,328.73 L398.12,328.74 L398.82,328.75 L399.53,328.76 L400.23,328.77 L400.94,328.77 L401.64,328.77 L402.35,328.77 L403.05,328.76 L403.76,328.75 L404.46,328.74 L405.17,328.72 L405.87,328.71 L406.57,328.68 L407.28,328.64 L407.98,328.6 L408.69,328.55 L409.39,328.49 L410.1,328.44 L410.8,328.38 L411.51,328.34 L412.21,328.35 L412.92,328.35 L413.62,328.36 L414.32,328.37 L415.03,328.36 L415.73,328.35 L416.44,328.33 L417.14,328.31 L417.85,328.29 L418.55,328.26 L419.26,328.24 L419.96,328.21 L420.67,328.18 L421.37,328.14 L422.07,328.11 L422.78,328.06 L423.48,328.01 L424.19,327.96 L424.89,327.9 L425.6,327.82 L426.3,327.73 L427.01,327.61 L427.71,327.42 L428.41,327.22 L429.12,327.14 L429.82,327.1 L430.53,327.07 L431.23,327.04 L431.94,327.01 L432.64,326.98 L433.35,326.95 L434.05,326.92 L434.76,326.88 L435.46,326.82 L436.16,326.75 L436.87,326.67 L437.57,326.58 L438.28,326.51 L438.98,326.53 L439.69,326.61 L440.39,326.69 L441.1,326.7 L441.8,326.67 L442.51,326.63 L443.21,326.6 L443.91,326.59 L444.62,326.59 L445.32,326.58 L446.03,326.59 L446.73,326.62 L447.44,326.66 L448.14,326.7 L448.85,326.78 L449.55,326.88 L450.26,326.98 L450.96,327.09 L451.66,327.22 L452.37,327.37 L453.07,327.56 L453.78,327.76 L454.48,327.93 L455.19,328.1 L455.89,328.26 L456.6,328.36 L457.3,328.44 L458.01,328.5 L458.71,328.55 L459.41,328.59 L460.12,328.62 L460.82,328.64 L461.53,328.66 L462.23,328.67 L462.94,328.69 L463.64,328.7 L464.35,328.71 L465.05,328.72 L465.75,328.72 L466.46,328.73 L467.16,328.73 L467.87,328.73 L468.57,328.74 L469.28,328.74 L469.98,328.74 L470.69,328.74 L471.39,328.74 L472.1,328.75 L472.8,328.75 L473.5,328.75 L474.21,328.75 L474.91,328.75 L475.62,328.75 L476.32,328.75 L477.03,328.76 L477.73,328.76 L478.44,328.76 L479.14,328.76 L479.85,328.76 L480.55,328.76 L481.25,328.76 L481.96,328.76 L482.66,328.76 L483.37,328.76 L484.07,328.76 L484.78,328.76 L485.48,328.76 L486.19,328.76 L486.89,328.76 L487.6,328.76 L488.3,328.76 L489,328.76 L489.71,328.76 L490.41,328.76 L491.12,328.76 L491.82,328.76 L492.53,328.76 L493.23,328.76 L493.94,328.76 L494.64,328.75 L495.35,328.75 L496.05,328.75 L496.75,328.75 L497.46,328.75 L498.16,328.75 L498.87,328.75 L499.57,328.75 L500.28,328.75 L500.98,328.75 L501.69,328.75 L502.39,328.75 L503.09,328.75 L503.8,328.75 L504.5,328.75 L505.21,328.77 L505.91,328.79 L506.62,328.8 L507.32,328.81 L508.03,328.81 L508.73,328.81 L509.44,328.81 L510.14,328.81 L510.84,328.81 L511.55,328.81 L512.25,328.81 L512.96,328.81 L513.66,328.81 L514.37,328.81 L515.07,328.81 L515.78,328.82 L516.48,328.82 L517.19,328.82 L517.89,328.82 L518.59,328.82 L519.3,328.82 L520,328.82 L520.71,328.82 L521.41,328.82 L522.12,328.82 L522.82,328.82 L523.53,328.82 L524.23,328.82 L524.94,328.82 L525.64,328.82 L526.34,328.82 L527.05,328.82 L527.75,328.82 L528.46,328.82 L529.16,328.82 L529.87,328.82 L530.57,328.82 L531.28,328.82 L531.98,328.82 L532.69,328.82 L533.39,328.82 L534.09,328.82 L534.8,328.82 L535.5,328.82 L536.21,328.82 L536.91,328.82 L537.62,328.82 L538.32,328.82 L539.03,328.82 L539.73,328.82 L540.44,328.83 L541.14,328.83 L541.84,328.83 L542.55,328.83 L543.25,328.83 L543.96,328.83 L544.66,328.83 L545.37,328.83 L546.07,328.83 L546.78,328.83 L547.48,328.83 L548.18,328.83 L548.89,328.83 L549.59,328.83 L550.3,328.83 L551,328.83 L551.71,328.83 L552.41,328.83 L553.12,328.83 L553.82,328.83 L554.53,328.83 L555.23,328.83 L555.93,328.83 L556.64,328.83 L557.34,328.83 L558.05,328.83 L558.75,328.83 L559.46,328.83 L560.16,328.82 L560.87,328.82 L561.57,328.81 L562.28,328.81 L562.98,328.8 L563.68,328.79 L564.39,328.79 L565.09,328.78 L565.8,328.77 L566.5,328.75 L567.21,328.73 L567.91,328.71 L568.62,328.69 L569.32,328.67 L570.03,328.65 L570.73,328.62 L571.43,328.6 L572.14,328.57 L572.84,328.54 L573.55,328.51 L574.25,328.49 L574.96,328.47 L575.66,328.46 L576.37,328.45 L577.07,328.44 L577.78,328.44 L578.48,328.42 L579.18,328.41 L579.89,328.39 L580.59,328.36 L581.3,328.33 L582,328.29 L582.71,328.25 L583.41,328.19 L584.12,328.12 L584.82,328.03 L585.52,327.92 L586.23,327.81 L586.93,327.66 L587.64,327.45 L588.34,327.26 L589.05,327.16 L589.75,327.12 L590.46,327.09 L591.16,327.06 L591.87,326.98 L592.57,326.83 L593.27,326.65 L593.98,326.42 L594.68,326.17 L595.39,326.08 L596.09,326.15 L596.8,326.28 L597.5,326.41 L598.21,326.51 L598.91,326.62 L599.62,326.67 L600.32,326.65 L601.02,326.6 L601.73,326.61 L602.43,326.67 L603.14,326.77 L603.84,326.87 L604.55,327.01 L605.25,327.18 L605.96,327.34 L606.66,327.48 L607.37,327.61 L608.07,327.73 L608.77,327.84 L609.48,327.93 L610.18,327.99 L610.89,328.02 L611.59,328.05 L612.3,328.07 L613,328.08 L613.71,328.1 L614.41,328.11 L615.12,328.12 L615.82,328.14 L616.52,328.15 L617.23,328.16 L617.93,328.17 L618.64,328.18 L619.34,328.19 L620.05,328.2 L620.75,328.21 L621.46,328.23 L622.16,328.25 L622.86,328.27 L623.57,328.3 L624.27,328.32 L624.98,328.35 L625.68,328.37 L626.39,328.4 L627.09,328.43 L627.8,328.46 L628.5,328.49 L629.21,328.52 L629.91,328.55 L630.61,328.58 L631.32,328.61 L632.02,328.64 L632.73,328.66 L633.43,328.68 L634.14,328.7 L634.84,328.72 L635.55,328.74 L636.25,328.75 L636.96,328.76 L637.66,328.78 L638.36,328.79 L639.07,328.8 L639.77,328.81 L640.48,328.82 L641.18,328.83 L641.89,328.84 L642.59,328.84 L643.3,328.85 L644,328.86 L644.71,328.86 L645.41,328.86 L645.76,328.86 L647.52,328.86 L649.28,328.86 L651.05,328.86 L652.81,328.86 L654.57,328.87 L656.33,328.87 L658.09,328.87 L659.85,328.87 L661.61,328.87 L663.38,328.87 L665.14,328.87 L666.9,328.87 L668.66,328.87 L670.42,328.87 L672.18,328.87 L673.94,328.87 L675.7,328.87 L677.47,328.87 L679.23,328.88 L680.99,328.88 L682.75,328.88" stroke="#7a4040"/>
</g>
<rect x="393.19" y="305.3" width="252.05" height="25.5" fill="#00ffff" fill-opacity="0.30" stroke="#ff0000" stroke-opacity="0.22" stroke-width="1"/>
<text x="80.4" y="335.98" font-size="25" text-anchor="end" >0</text>
<text x="80.4" y="290.74" font-size="25" text-anchor="end" >5</text>
<text x="80.4" y="245.51" font-size="25" text-anchor="end" >10</text>
<text x="80.4" y="200.28" font-size="25" text-anchor="end" >15</text>
<text x="80.4" y="155.05" font-size="25" text-anchor="end" >20</text>
<text x="80.4" y="109.81" font-size="25" text-anchor="end" >25</text>
<text x="80.4" y="64.58" font-size="25" text-anchor="end" >30</text>
<text x="80.4" y="19.35" font-size="25" text-anchor="end" >35</text>
<text x="154.35" y="362" font-size="25" text-anchor="middle" >500</text>
<text x="242.42" y="362" font-size="25" text-anchor="middle" >550</text>
<text x="330.49" y="362" font-size="25" text-anchor="middle" >600</text>
<text x="418.55" y="362" font-size="25" text-anchor="middle" >650</text>
<text x="506.62" y="362" font-size="25" text-anchor="middle" >700</text>
<text x="594.68" y="362" font-size="25" text-anchor="middle" >750</text>
<text x="682.75" y="362" font-size="25" text-anchor="middle" >800</text>
<text x="383.8" y="399.5" font-size="30.4" text-anchor="middle" >Wavelength(nm)</text>
<text transform="translate(39.3,290.3) rotate(-90)" font-size="30.2">Intensity (<tspan dy="2.8">×</tspan><tspan dy="-2.8">10</tspan><tspan font-size="20" dy="-12.3">-6</tspan><tspan dy="12.3">a.u)</tspan></text>
<text x="103.5" y="54" font-size="30.5" text-anchor="start" >(a)</text>
<text x="216.8" y="47.9" font-size="25.3"><tspan font-size="16.6" dy="-9.8">6</tspan><tspan dy="9.8" dx="0.6">H</tspan><tspan font-size="16.6" dy="6.9" dx="1.2">13/2</tspan></text>
<text x="93" y="255.9" font-size="25.3"><tspan font-size="16.6" dy="-9.8">6</tspan><tspan dy="9.8" dx="0.6">H</tspan><tspan font-size="16.6" dy="6.9" dx="1.2">15/2</tspan></text>
<text x="175.6" y="72.8" font-size="21"><tspan font-style="italic">x</tspan>=</text>
<path d="M160.2 85.3H209.3" stroke="#505050" stroke-width="2"/>
<text x="214.5" y="92.2" font-size="21" text-anchor="start" >0.5</text>
<path d="M160.2 111.7H209.3" stroke="#f83a3a" stroke-width="2"/>
<text x="214.5" y="118.6" font-size="21" text-anchor="start" >1</text>
<path d="M160.2 138.1H209.3" stroke="#0c5cd8" stroke-width="2"/>
<text x="214.5" y="145" font-size="21" text-anchor="start" >2</text>
<path d="M160.2 164.3H209.3" stroke="#2aa866" stroke-width="2"/>
<text x="214.5" y="171.2" font-size="21" text-anchor="start" >3</text>
<path d="M160.2 190.6H209.3" stroke="#a867de" stroke-width="2"/>
<text x="214.5" y="197.5" font-size="21" text-anchor="start" >4</text>
<path d="M160.2 217H209.3" stroke="#c8900a" stroke-width="2"/>
<text x="214.5" y="223.9" font-size="21" text-anchor="start" >5</text>
<path d="M160.2 243.4H209.3" stroke="#10cccc" stroke-width="2"/>
<text x="214.5" y="250.3" font-size="21" text-anchor="start" >7</text>
<path d="M160.2 269.7H209.3" stroke="#7a4040" stroke-width="2"/>
<text x="214.5" y="276.6" font-size="21" text-anchor="start" >10</text>
<text x="333.2" y="45" font-size="25.5">Li<tspan font-size="17" dy="6.5">3</tspan><tspan dy="-6.5">Ba</tspan><tspan font-size="17" dy="6.5">2</tspan><tspan dy="-6.5">Gd</tspan><tspan font-size="17" dy="6.5">3</tspan><tspan dy="-6.5">(WO</tspan><tspan font-size="17" dy="6.5">4</tspan><tspan dy="-6.5">)</tspan><tspan font-size="17" dy="6.5">8</tspan><tspan dy="-6.5">: </tspan><tspan font-style="italic">x</tspan> at.% Dy<tspan font-size="17" dy="-10.5">3+</tspan></text>
<text x="335.2" y="75.6" font-size="25.5"><tspan font-size="24">λ</tspan><tspan font-size="17" dy="6.5" dx="0.8">ex</tspan><tspan dy="-6.5" dx="1.6">=445 nm</tspan></text>
<text x="335" y="109.4" font-size="25.5" text-anchor="start" >25°C</text>
<rect x="375.9" y="122.2" width="282.9" height="120.2" fill="#fff"/>
<g clip-path="url(#ci)" fill="none" stroke-width="1.5" stroke-linejoin="round">
<path d="M372.74,235.47 L374.71,235.63 L376.69,235.78 L377.48,235.83 L378.27,235.88 L379.06,235.93 L379.85,235.97 L380.64,236.02 L381.44,236.06 L382.23,236.1 L383.02,236.14 L383.81,236.19 L384.6,236.23 L385.39,236.22 L386.18,236.21 L386.97,236.18 L387.76,236.15 L388.55,236.12 L389.34,236.08 L390.13,236.03 L390.92,235.97 L391.72,235.86 L392.51,235.73 L393.3,235.58 L394.09,235.43 L394.88,235.29 L395.67,235.11 L396.46,235 L397.25,235.01 L398.04,235.04 L398.83,235.06 L399.62,235.07 L400.41,235.06 L401.2,235.02 L402,234.97 L402.79,234.91 L403.58,234.84 L404.37,234.77 L405.16,234.7 L405.95,234.63 L406.74,234.54 L407.53,234.44 L408.32,234.33 L409.11,234.2 L409.9,234.07 L410.69,233.92 L411.48,233.73 L412.28,233.51 L413.07,233.25 L413.86,232.93 L414.65,232.37 L415.44,231.81 L416.23,231.59 L417.02,231.48 L417.81,231.39 L418.6,231.31 L419.39,231.22 L420.18,231.13 L420.97,231.04 L421.76,230.95 L422.56,230.84 L423.35,230.68 L424.14,230.46 L424.93,230.23 L425.72,230 L426.51,229.8 L427.3,229.84 L428.09,230.07 L428.88,230.3 L429.67,230.33 L430.46,230.24 L431.25,230.13 L432.05,230.05 L432.84,230.02 L433.63,230.01 L434.42,230 L435.21,230.02 L436,230.09 L436.79,230.2 L437.58,230.34 L438.37,230.56 L439.16,230.83 L439.95,231.13 L440.74,231.45 L441.53,231.82 L442.33,232.24 L443.12,232.78 L443.91,233.34 L444.7,233.84 L445.49,234.32 L446.28,234.76 L447.07,235.06 L447.86,235.26 L448.65,235.44 L449.44,235.58 L450.23,235.7 L451.02,235.78 L451.81,235.84 L452.61,235.89 L453.4,235.94 L454.19,235.98 L454.98,236.01 L455.77,236.04 L456.56,236.07 L457.35,236.09 L458.14,236.1 L458.93,236.11 L459.72,236.11 L460.51,236.12 L461.3,236.13 L462.09,236.13 L462.89,236.14 L463.68,236.14 L464.47,236.15 L465.26,236.15 L466.05,236.16 L466.84,236.16 L467.63,236.17 L468.42,236.17 L469.21,236.17 L470,236.18 L470.79,236.18 L471.58,236.18 L472.37,236.18 L473.17,236.18 L473.96,236.18 L474.75,236.19 L475.54,236.19 L476.33,236.19 L477.12,236.19 L477.91,236.19 L478.7,236.19 L479.49,236.18 L480.28,236.18 L481.07,236.18 L481.86,236.18 L482.65,236.18 L483.45,236.18 L484.24,236.18 L485.03,236.18 L485.82,236.18 L486.61,236.18 L487.4,236.18 L488.19,236.18 L488.98,236.17 L489.77,236.17 L490.56,236.17 L491.35,236.17 L492.14,236.17 L492.93,236.17 L493.73,236.17 L494.52,236.17 L495.31,236.17 L496.1,236.17 L496.89,236.17 L497.68,236.17 L498.47,236.17 L499.26,236.17 L500.05,236.16 L500.84,236.17 L501.63,236.21 L502.42,236.27 L503.21,236.32 L504.01,236.32 L504.8,236.33 L505.59,236.33 L506.38,236.33 L507.17,236.33 L507.96,236.34 L508.75,236.34 L509.54,236.34 L510.33,236.34 L511.12,236.34 L511.91,236.34 L512.7,236.34 L513.49,236.35 L514.29,236.35 L515.08,236.35 L515.87,236.35 L516.66,236.35 L517.45,236.35 L518.24,236.35 L519.03,236.35 L519.82,236.35 L520.61,236.35 L521.4,236.35 L522.19,236.36 L522.98,236.36 L523.78,236.36 L524.57,236.36 L525.36,236.36 L526.15,236.36 L526.94,236.36 L527.73,236.36 L528.52,236.36 L529.31,236.36 L530.1,236.36 L530.89,236.37 L531.68,236.37 L532.47,236.37 L533.26,236.37 L534.06,236.37 L534.85,236.37 L535.64,236.37 L536.43,236.37 L537.22,236.37 L538.01,236.37 L538.8,236.37 L539.59,236.37 L540.38,236.37 L541.17,236.37 L541.96,236.37 L542.75,236.38 L543.54,236.38 L544.34,236.38 L545.13,236.38 L545.92,236.38 L546.71,236.38 L547.5,236.38 L548.29,236.38 L549.08,236.38 L549.87,236.38 L550.66,236.38 L551.45,236.38 L552.24,236.39 L553.03,236.39 L553.82,236.39 L554.62,236.39 L555.41,236.39 L556.2,236.39 L556.99,236.39 L557.78,236.39 L558.57,236.39 L559.36,236.39 L560.15,236.39 L560.94,236.39 L561.73,236.39 L562.52,236.38 L563.31,236.37 L564.1,236.35 L564.9,236.34 L565.69,236.32 L566.48,236.3 L567.27,236.28 L568.06,236.26 L568.85,236.24 L569.64,236.2 L570.43,236.16 L571.22,236.11 L572.01,236.05 L572.8,235.99 L573.59,235.93 L574.38,235.87 L575.18,235.8 L575.97,235.72 L576.76,235.64 L577.55,235.55 L578.34,235.48 L579.13,235.41 L579.92,235.36 L580.71,235.33 L581.5,235.31 L582.29,235.29 L583.08,235.26 L583.87,235.23 L584.66,235.19 L585.46,235.13 L586.25,235.06 L587.04,234.96 L587.83,234.86 L588.62,234.73 L589.41,234.57 L590.2,234.35 L590.99,234.1 L591.78,233.81 L592.57,233.49 L593.36,233.06 L594.15,232.47 L594.94,231.93 L595.74,231.63 L596.53,231.52 L597.32,231.45 L598.11,231.35 L598.9,231.13 L599.69,230.7 L600.48,230.2 L601.27,229.53 L602.06,228.81 L602.85,228.57 L603.64,228.76 L604.43,229.12 L605.22,229.49 L606.02,229.78 L606.81,230.09 L607.6,230.25 L608.39,230.19 L609.18,230.06 L609.97,230.07 L610.76,230.25 L611.55,230.51 L612.34,230.8 L613.13,231.21 L613.92,231.69 L614.71,232.16 L615.51,232.56 L616.3,232.9 L617.09,233.25 L617.88,233.57 L618.67,233.83 L619.46,234 L620.25,234.09 L621.04,234.16 L621.83,234.22 L622.62,234.26 L623.41,234.3 L624.2,234.34 L624.99,234.38 L625.79,234.42 L626.58,234.45 L627.37,234.48 L628.16,234.51 L628.95,234.53 L629.74,234.56 L630.53,234.6 L631.32,234.64 L632.11,234.69 L632.9,234.74 L633.69,234.81 L634.48,234.87 L635.27,234.94 L636.07,235.02 L636.86,235.09 L637.65,235.17 L638.44,235.24 L639.23,235.32 L640.02,235.41 L640.81,235.5 L641.6,235.59 L642.39,235.68 L643.18,235.77 L643.97,235.85 L644.76,235.92 L645.55,235.97 L646.35,236.03 L647.14,236.07 L647.93,236.12 L648.72,236.16 L649.51,236.2 L650.3,236.23 L651.09,236.27 L651.88,236.3 L652.67,236.33 L653.46,236.35 L654.25,236.38 L655.04,236.4 L655.83,236.42 L656.63,236.44 L657.42,236.46 L658.21,236.48 L659,236.48 L659.39,236.48 L661.37,236.48" stroke="#505050"/>
<path d="M372.74,235.1 L374.71,235.3 L376.69,235.49 L377.48,235.54 L378.27,235.59 L379.06,235.64 L379.85,235.69 L380.64,235.73 L381.44,235.77 L382.23,235.81 L383.02,235.85 L383.81,235.88 L384.6,235.92 L385.39,235.91 L386.18,235.88 L386.97,235.83 L387.76,235.77 L388.55,235.7 L389.34,235.61 L390.13,235.52 L390.92,235.39 L391.72,235.17 L392.51,234.89 L393.3,234.59 L394.09,234.3 L394.88,234 L395.67,233.64 L396.46,233.41 L397.25,233.43 L398.04,233.48 L398.83,233.54 L399.62,233.55 L400.41,233.52 L401.2,233.45 L402,233.34 L402.79,233.22 L403.58,233.08 L404.37,232.94 L405.16,232.8 L405.95,232.64 L406.74,232.46 L407.53,232.25 L408.32,232.03 L409.11,231.78 L409.9,231.5 L410.69,231.18 L411.48,230.81 L412.28,230.35 L413.07,229.81 L413.86,229.17 L414.65,228.02 L415.44,226.87 L416.23,226.42 L417.02,226.19 L417.81,226.02 L418.6,225.85 L419.39,225.66 L420.18,225.48 L420.97,225.31 L421.76,225.11 L422.56,224.88 L423.35,224.56 L424.14,224.11 L424.93,223.64 L425.72,223.17 L426.51,222.76 L427.3,222.83 L428.09,223.32 L428.88,223.78 L429.67,223.84 L430.46,223.66 L431.25,223.43 L432.05,223.26 L432.84,223.21 L433.63,223.18 L434.42,223.16 L435.21,223.2 L436,223.36 L436.79,223.59 L437.58,223.86 L438.37,224.31 L439.16,224.87 L439.95,225.49 L440.74,226.14 L441.53,226.88 L442.33,227.75 L443.12,228.85 L443.91,230.01 L444.7,231.03 L445.49,232.02 L446.28,232.91 L447.07,233.54 L447.86,233.95 L448.65,234.3 L449.44,234.6 L450.23,234.83 L451.02,235.01 L451.81,235.13 L452.61,235.23 L453.4,235.32 L454.19,235.41 L454.98,235.48 L455.77,235.54 L456.56,235.59 L457.35,235.63 L458.14,235.66 L458.93,235.67 L459.72,235.69 L460.51,235.7 L461.3,235.71 L462.09,235.73 L462.89,235.74 L463.68,235.75 L464.47,235.76 L465.26,235.77 L466.05,235.78 L466.84,235.79 L467.63,235.8 L468.42,235.8 L469.21,235.81 L470,235.81 L470.79,235.82 L471.58,235.82 L472.37,235.83 L473.17,235.83 L473.96,235.83 L474.75,235.83 L475.54,235.83 L476.33,235.83 L477.12,235.83 L477.91,235.83 L478.7,235.83 L479.49,235.83 L480.28,235.83 L481.07,235.83 L481.86,235.83 L482.65,235.83 L483.45,235.83 L484.24,235.82 L485.03,235.82 L485.82,235.82 L486.61,235.82 L487.4,235.82 L488.19,235.81 L488.98,235.81 L489.77,235.81 L490.56,235.81 L491.35,235.81 L492.14,235.8 L492.93,235.8 L493.73,235.8 L494.52,235.8 L495.31,235.8 L496.1,235.8 L496.89,235.79 L497.68,235.79 L498.47,235.79 L499.26,235.79 L500.05,235.79 L500.84,235.8 L501.63,235.89 L502.42,236.01 L503.21,236.1 L504.01,236.12 L504.8,236.12 L505.59,236.13 L506.38,236.13 L507.17,236.14 L507.96,236.14 L508.75,236.15 L509.54,236.15 L510.33,236.15 L511.12,236.16 L511.91,236.16 L512.7,236.16 L513.49,236.16 L514.29,236.16 L515.08,236.16 L515.87,236.17 L516.66,236.17 L517.45,236.17 L518.24,236.17 L519.03,236.17 L519.82,236.17 L520.61,236.18 L521.4,236.18 L522.19,236.18 L522.98,236.18 L523.78,236.19 L524.57,236.19 L525.36,236.19 L526.15,236.19 L526.94,236.19 L527.73,236.2 L528.52,236.2 L529.31,236.2 L530.1,236.2 L530.89,236.2 L531.68,236.2 L532.47,236.21 L533.26,236.21 L534.06,236.21 L534.85,236.21 L535.64,236.21 L536.43,236.21 L537.22,236.21 L538.01,236.22 L538.8,236.22 L539.59,236.22 L540.38,236.22 L541.17,236.22 L541.96,236.22 L542.75,236.22 L543.54,236.23 L544.34,236.23 L545.13,236.23 L545.92,236.23 L546.71,236.23 L547.5,236.23 L548.29,236.24 L549.08,236.24 L549.87,236.24 L550.66,236.24 L551.45,236.24 L552.24,236.24 L553.03,236.25 L553.82,236.25 L554.62,236.25 L555.41,236.25 L556.2,236.25 L556.99,236.25 L557.78,236.26 L558.57,236.26 L559.36,236.26 L560.15,236.26 L560.94,236.26 L561.73,236.24 L562.52,236.23 L563.31,236.21 L564.1,236.18 L564.9,236.15 L565.69,236.11 L566.48,236.07 L567.27,236.03 L568.06,235.99 L568.85,235.94 L569.64,235.87 L570.43,235.78 L571.22,235.68 L572.01,235.56 L572.8,235.44 L573.59,235.31 L574.38,235.19 L575.18,235.04 L575.97,234.88 L576.76,234.71 L577.55,234.54 L578.34,234.38 L579.13,234.25 L579.92,234.15 L580.71,234.08 L581.5,234.04 L582.29,233.99 L583.08,233.95 L583.87,233.89 L584.66,233.8 L585.46,233.68 L586.25,233.52 L587.04,233.33 L587.83,233.12 L588.62,232.86 L589.41,232.52 L590.2,232.08 L590.99,231.56 L591.78,230.97 L592.57,230.32 L593.36,229.44 L594.15,228.23 L594.94,227.12 L595.74,226.51 L596.53,226.29 L597.32,226.14 L598.11,225.94 L598.9,225.49 L599.69,224.6 L600.48,223.57 L601.27,222.2 L602.06,220.73 L602.85,220.23 L603.64,220.64 L604.43,221.37 L605.22,222.12 L606.02,222.72 L606.81,223.35 L607.6,223.69 L608.39,223.55 L609.18,223.28 L609.97,223.32 L610.76,223.69 L611.55,224.22 L612.34,224.81 L613.13,225.65 L613.92,226.62 L614.71,227.59 L615.51,228.41 L616.3,229.11 L617.09,229.82 L617.88,230.47 L618.67,231 L619.46,231.36 L620.25,231.54 L621.04,231.69 L621.83,231.8 L622.62,231.9 L623.41,231.98 L624.2,232.06 L624.99,232.13 L625.79,232.21 L626.58,232.28 L627.37,232.34 L628.16,232.39 L628.95,232.45 L629.74,232.51 L630.53,232.58 L631.32,232.66 L632.11,232.76 L632.9,232.88 L633.69,233.01 L634.48,233.15 L635.27,233.29 L636.07,233.44 L636.86,233.59 L637.65,233.75 L638.44,233.9 L639.23,234.06 L640.02,234.24 L640.81,234.43 L641.6,234.62 L642.39,234.8 L643.18,234.98 L643.97,235.14 L644.76,235.28 L645.55,235.4 L646.35,235.51 L647.14,235.6 L647.93,235.7 L648.72,235.78 L649.51,235.86 L650.3,235.93 L651.09,236 L651.88,236.07 L652.67,236.12 L653.46,236.18 L654.25,236.23 L655.04,236.28 L655.83,236.32 L656.63,236.37 L657.42,236.4 L658.21,236.43 L659,236.43 L659.39,236.43 L661.37,236.44" stroke="#f83a3a"/>
<path d="M372.74,234.09 L374.71,234.42 L376.69,234.7 L377.48,234.77 L378.27,234.82 L379.06,234.87 L379.85,234.91 L380.64,234.95 L381.44,234.98 L382.23,235.01 L383.02,235.04 L383.81,235.06 L384.6,235.08 L385.39,235.06 L386.18,234.98 L386.97,234.87 L387.76,234.73 L388.55,234.55 L389.34,234.35 L390.13,234.14 L390.92,233.81 L391.72,233.29 L392.51,232.63 L393.3,231.92 L394.09,231.21 L394.88,230.5 L395.67,229.63 L396.46,229.09 L397.25,229.12 L398.04,229.26 L398.83,229.39 L399.62,229.43 L400.41,229.36 L401.2,229.18 L402,228.93 L402.79,228.63 L403.58,228.3 L404.37,227.97 L405.16,227.63 L405.95,227.25 L406.74,226.81 L407.53,226.32 L408.32,225.78 L409.11,225.18 L409.9,224.52 L410.69,223.77 L411.48,222.86 L412.28,221.78 L413.07,220.5 L413.86,218.95 L414.65,216.21 L415.44,213.47 L416.23,212.38 L417.02,211.83 L417.81,211.43 L418.6,211.02 L419.39,210.56 L420.18,210.14 L420.97,209.72 L421.76,209.25 L422.56,208.7 L423.35,207.95 L424.14,206.86 L424.93,205.73 L425.72,204.61 L426.51,203.63 L427.3,203.81 L428.09,204.97 L428.88,206.07 L429.67,206.21 L430.46,205.79 L431.25,205.23 L432.05,204.83 L432.84,204.72 L433.63,204.64 L434.42,204.6 L435.21,204.7 L436,205.07 L436.79,205.61 L437.58,206.27 L438.37,207.33 L439.16,208.69 L439.95,210.16 L440.74,211.71 L441.53,213.49 L442.33,215.56 L443.12,218.2 L443.91,220.97 L444.7,223.39 L445.49,225.77 L446.28,227.89 L447.07,229.39 L447.86,230.37 L448.65,231.22 L449.44,231.92 L450.23,232.49 L451.02,232.9 L451.81,233.19 L452.61,233.43 L453.4,233.66 L454.19,233.86 L454.98,234.03 L455.77,234.18 L456.56,234.3 L457.35,234.39 L458.14,234.45 L458.93,234.49 L459.72,234.53 L460.51,234.56 L461.3,234.59 L462.09,234.63 L462.89,234.65 L463.68,234.68 L464.47,234.71 L465.26,234.73 L466.05,234.75 L466.84,234.77 L467.63,234.79 L468.42,234.81 L469.21,234.82 L470,234.83 L470.79,234.85 L471.58,234.86 L472.37,234.86 L473.17,234.87 L473.96,234.88 L474.75,234.88 L475.54,234.88 L476.33,234.88 L477.12,234.88 L477.91,234.88 L478.7,234.88 L479.49,234.88 L480.28,234.87 L481.07,234.87 L481.86,234.87 L482.65,234.86 L483.45,234.86 L484.24,234.85 L485.03,234.85 L485.82,234.85 L486.61,234.84 L487.4,234.84 L488.19,234.83 L488.98,234.83 L489.77,234.82 L490.56,234.82 L491.35,234.81 L492.14,234.81 L492.93,234.8 L493.73,234.8 L494.52,234.79 L495.31,234.79 L496.1,234.79 L496.89,234.79 L497.68,234.78 L498.47,234.78 L499.26,234.78 L500.05,234.78 L500.84,234.81 L501.63,235.02 L502.42,235.31 L503.21,235.52 L504.01,235.55 L504.8,235.57 L505.59,235.58 L506.38,235.6 L507.17,235.61 L507.96,235.62 L508.75,235.63 L509.54,235.64 L510.33,235.64 L511.12,235.65 L511.91,235.65 L512.7,235.66 L513.49,235.66 L514.29,235.67 L515.08,235.67 L515.87,235.67 L516.66,235.68 L517.45,235.68 L518.24,235.69 L519.03,235.69 L519.82,235.69 L520.61,235.7 L521.4,235.7 L522.19,235.71 L522.98,235.72 L523.78,235.72 L524.57,235.73 L525.36,235.73 L526.15,235.73 L526.94,235.74 L527.73,235.74 L528.52,235.75 L529.31,235.75 L530.1,235.76 L530.89,235.76 L531.68,235.76 L532.47,235.77 L533.26,235.77 L534.06,235.78 L534.85,235.78 L535.64,235.78 L536.43,235.79 L537.22,235.79 L538.01,235.79 L538.8,235.79 L539.59,235.8 L540.38,235.8 L541.17,235.8 L541.96,235.81 L542.75,235.81 L543.54,235.82 L544.34,235.82 L545.13,235.82 L545.92,235.83 L546.71,235.83 L547.5,235.84 L548.29,235.84 L549.08,235.84 L549.87,235.85 L550.66,235.85 L551.45,235.86 L552.24,235.86 L553.03,235.86 L553.82,235.87 L554.62,235.87 L555.41,235.88 L556.2,235.88 L556.99,235.88 L557.78,235.89 L558.57,235.89 L559.36,235.9 L560.15,235.9 L560.94,235.89 L561.73,235.86 L562.52,235.82 L563.31,235.77 L564.1,235.7 L564.9,235.63 L565.69,235.54 L566.48,235.45 L567.27,235.35 L568.06,235.25 L568.85,235.13 L569.64,234.97 L570.43,234.75 L571.22,234.5 L572.01,234.23 L572.8,233.93 L573.59,233.63 L574.38,233.34 L575.18,232.99 L575.97,232.6 L576.76,232.19 L577.55,231.79 L578.34,231.41 L579.13,231.09 L579.92,230.86 L580.71,230.7 L581.5,230.58 L582.29,230.48 L583.08,230.37 L583.87,230.22 L584.66,230.02 L585.46,229.73 L586.25,229.36 L587.04,228.91 L587.83,228.38 L588.62,227.78 L589.41,226.97 L590.2,225.92 L590.99,224.67 L591.78,223.26 L592.57,221.7 L593.36,219.6 L594.15,216.71 L594.94,214.05 L595.74,212.61 L596.53,212.07 L597.32,211.71 L598.11,211.23 L598.9,210.15 L599.69,208.04 L600.48,205.57 L601.27,202.29 L602.06,198.79 L602.85,197.6 L603.64,198.56 L604.43,200.31 L605.22,202.11 L606.02,203.55 L606.81,205.04 L607.6,205.86 L608.39,205.52 L609.18,204.89 L609.97,204.97 L610.76,205.85 L611.55,207.12 L612.34,208.54 L613.13,210.54 L613.92,212.87 L614.71,215.18 L615.51,217.13 L616.3,218.82 L617.09,220.51 L617.88,222.06 L618.67,223.33 L619.46,224.19 L620.25,224.63 L621.04,224.97 L621.83,225.24 L622.62,225.47 L623.41,225.67 L624.2,225.85 L624.99,226.03 L625.79,226.22 L626.58,226.38 L627.37,226.52 L628.16,226.66 L628.95,226.79 L629.74,226.94 L630.53,227.11 L631.32,227.31 L632.11,227.55 L632.9,227.82 L633.69,228.13 L634.48,228.46 L635.27,228.8 L636.07,229.16 L636.86,229.53 L637.65,229.89 L638.44,230.26 L639.23,230.65 L640.02,231.08 L640.81,231.52 L641.6,231.98 L642.39,232.42 L643.18,232.84 L643.97,233.23 L644.76,233.57 L645.55,233.85 L646.35,234.1 L647.14,234.33 L647.93,234.55 L648.72,234.75 L649.51,234.94 L650.3,235.12 L651.09,235.28 L651.88,235.43 L652.67,235.57 L653.46,235.7 L654.25,235.83 L655.04,235.94 L655.83,236.05 L656.63,236.15 L657.42,236.23 L658.21,236.31 L659,236.31 L659.39,236.31 L661.37,236.32" stroke="#0c5cd8"/>
<path d="M372.74,233.16 L374.71,233.6 L376.69,233.97 L377.48,234.05 L378.27,234.11 L379.06,234.16 L379.85,234.2 L380.64,234.24 L381.44,234.26 L382.23,234.28 L383.02,234.29 L383.81,234.3 L384.6,234.31 L385.39,234.27 L386.18,234.16 L386.97,233.99 L387.76,233.76 L388.55,233.5 L389.34,233.19 L390.13,232.86 L390.92,232.36 L391.72,231.55 L392.51,230.55 L393.3,229.45 L394.09,228.35 L394.88,227.27 L395.67,225.94 L396.46,225.11 L397.25,225.16 L398.04,225.36 L398.83,225.56 L399.62,225.63 L400.41,225.51 L401.2,225.24 L402,224.86 L402.79,224.39 L403.58,223.89 L404.37,223.39 L405.16,222.86 L405.95,222.27 L406.74,221.6 L407.53,220.86 L408.32,220.02 L409.11,219.1 L409.9,218.08 L410.69,216.93 L411.48,215.54 L412.28,213.87 L413.07,211.9 L413.86,209.52 L414.65,205.31 L415.44,201.11 L416.23,199.43 L417.02,198.59 L417.81,197.97 L418.6,197.34 L419.39,196.63 L420.18,195.99 L420.97,195.34 L421.76,194.63 L422.56,193.77 L423.35,192.62 L424.14,190.96 L424.93,189.22 L425.72,187.49 L426.51,185.99 L427.3,186.27 L428.09,188.05 L428.88,189.74 L429.67,189.96 L430.46,189.31 L431.25,188.45 L432.05,187.83 L432.84,187.66 L433.63,187.53 L434.42,187.48 L435.21,187.63 L436,188.2 L436.79,189.03 L437.58,190.05 L438.37,191.68 L439.16,193.77 L439.95,196.02 L440.74,198.4 L441.53,201.14 L442.33,204.32 L443.12,208.37 L443.91,212.63 L444.7,216.35 L445.49,220.01 L446.28,223.26 L447.07,225.57 L447.86,227.08 L448.65,228.37 L449.44,229.46 L450.23,230.32 L451.02,230.96 L451.81,231.4 L452.61,231.78 L453.4,232.12 L454.19,232.43 L454.98,232.69 L455.77,232.92 L456.56,233.1 L457.35,233.25 L458.14,233.35 L458.93,233.41 L459.72,233.46 L460.51,233.51 L461.3,233.56 L462.09,233.61 L462.89,233.65 L463.68,233.69 L464.47,233.73 L465.26,233.77 L466.05,233.8 L466.84,233.83 L467.63,233.86 L468.42,233.89 L469.21,233.91 L470,233.93 L470.79,233.95 L471.58,233.96 L472.37,233.98 L473.17,233.99 L473.96,233.99 L474.75,234 L475.54,234 L476.33,234 L477.12,234 L477.91,234 L478.7,234 L479.49,233.99 L480.28,233.99 L481.07,233.98 L481.86,233.98 L482.65,233.97 L483.45,233.97 L484.24,233.96 L485.03,233.95 L485.82,233.95 L486.61,233.94 L487.4,233.93 L488.19,233.92 L488.98,233.92 L489.77,233.91 L490.56,233.9 L491.35,233.89 L492.14,233.89 L492.93,233.88 L493.73,233.87 L494.52,233.87 L495.31,233.86 L496.1,233.86 L496.89,233.85 L497.68,233.85 L498.47,233.85 L499.26,233.85 L500.05,233.85 L500.84,233.89 L501.63,234.21 L502.42,234.66 L503.21,234.98 L504.01,235.04 L504.8,235.06 L505.59,235.08 L506.38,235.1 L507.17,235.12 L507.96,235.13 L508.75,235.15 L509.54,235.16 L510.33,235.17 L511.12,235.18 L511.91,235.19 L512.7,235.2 L513.49,235.2 L514.29,235.21 L515.08,235.21 L515.87,235.22 L516.66,235.23 L517.45,235.23 L518.24,235.24 L519.03,235.24 L519.82,235.25 L520.61,235.26 L521.4,235.27 L522.19,235.28 L522.98,235.28 L523.78,235.29 L524.57,235.3 L525.36,235.31 L526.15,235.31 L526.94,235.32 L527.73,235.33 L528.52,235.33 L529.31,235.34 L530.1,235.35 L530.89,235.35 L531.68,235.36 L532.47,235.37 L533.26,235.37 L534.06,235.38 L534.85,235.38 L535.64,235.39 L536.43,235.39 L537.22,235.4 L538.01,235.4 L538.8,235.4 L539.59,235.41 L540.38,235.41 L541.17,235.42 L541.96,235.43 L542.75,235.43 L543.54,235.44 L544.34,235.44 L545.13,235.45 L545.92,235.46 L546.71,235.46 L547.5,235.47 L548.29,235.47 L549.08,235.48 L549.87,235.49 L550.66,235.49 L551.45,235.5 L552.24,235.51 L553.03,235.51 L553.82,235.52 L554.62,235.52 L555.41,235.53 L556.2,235.54 L556.99,235.54 L557.78,235.55 L558.57,235.55 L559.36,235.56 L560.15,235.57 L560.94,235.55 L561.73,235.51 L562.52,235.45 L563.31,235.36 L564.1,235.26 L564.9,235.15 L565.69,235.02 L566.48,234.88 L567.27,234.72 L568.06,234.56 L568.85,234.39 L569.64,234.14 L570.43,233.81 L571.22,233.42 L572.01,232.99 L572.8,232.54 L573.59,232.08 L574.38,231.63 L575.18,231.1 L575.97,230.5 L576.76,229.87 L577.55,229.25 L578.34,228.67 L579.13,228.18 L579.92,227.82 L580.71,227.58 L581.5,227.4 L582.29,227.24 L583.08,227.07 L583.87,226.85 L584.66,226.53 L585.46,226.08 L586.25,225.51 L587.04,224.82 L587.83,224.02 L588.62,223.09 L589.41,221.84 L590.2,220.23 L590.99,218.32 L591.78,216.14 L592.57,213.76 L593.36,210.52 L594.15,206.08 L594.94,201.99 L595.74,199.78 L596.53,198.95 L597.32,198.41 L598.11,197.67 L598.9,196.01 L599.69,192.76 L600.48,188.97 L601.27,183.93 L602.06,178.56 L602.85,176.73 L603.64,178.2 L604.43,180.9 L605.22,183.66 L606.02,185.87 L606.81,188.16 L607.6,189.41 L608.39,188.89 L609.18,187.92 L609.97,188.05 L610.76,189.4 L611.55,191.36 L612.34,193.53 L613.13,196.6 L613.92,200.18 L614.71,203.74 L615.51,206.73 L616.3,209.33 L617.09,211.92 L617.88,214.3 L618.67,216.25 L619.46,217.57 L620.25,218.25 L621.04,218.77 L621.83,219.2 L622.62,219.55 L623.41,219.85 L624.2,220.13 L624.99,220.4 L625.79,220.69 L626.58,220.94 L627.37,221.16 L628.16,221.37 L628.95,221.57 L629.74,221.8 L630.53,222.06 L631.32,222.36 L632.11,222.73 L632.9,223.15 L633.69,223.62 L634.48,224.13 L635.27,224.66 L636.07,225.22 L636.86,225.78 L637.65,226.34 L638.44,226.9 L639.23,227.5 L640.02,228.16 L640.81,228.84 L641.6,229.54 L642.39,230.22 L643.18,230.87 L643.97,231.46 L644.76,231.98 L645.55,232.41 L646.35,232.79 L647.14,233.15 L647.93,233.49 L648.72,233.8 L649.51,234.1 L650.3,234.37 L651.09,234.62 L651.88,234.85 L652.67,235.06 L653.46,235.27 L654.25,235.46 L655.04,235.64 L655.83,235.8 L656.63,235.95 L657.42,236.08 L658.21,236.19 L659,236.2 L659.39,236.2 L661.37,236.22" stroke="#2aa866"/>
<path d="M372.74,232.41 L374.71,232.95 L376.69,233.39 L377.48,233.47 L378.27,233.54 L379.06,233.6 L379.85,233.63 L380.64,233.66 L381.44,233.68 L382.23,233.69 L383.02,233.7 L383.81,233.7 L384.6,233.7 L385.39,233.64 L386.18,233.5 L386.97,233.28 L387.76,232.99 L388.55,232.65 L389.34,232.26 L390.13,231.84 L390.92,231.2 L391.72,230.17 L392.51,228.88 L393.3,227.47 L394.09,226.08 L394.88,224.7 L395.67,222.99 L396.46,221.93 L397.25,221.99 L398.04,222.25 L398.83,222.51 L399.62,222.6 L400.41,222.45 L401.2,222.1 L402,221.61 L402.79,221.01 L403.58,220.37 L404.37,219.73 L405.16,219.06 L405.95,218.3 L406.74,217.45 L407.53,216.49 L408.32,215.42 L409.11,214.24 L409.9,212.94 L410.69,211.47 L411.48,209.69 L412.28,207.56 L413.07,205.04 L413.86,201.99 L414.65,196.61 L415.44,191.23 L416.23,189.09 L417.02,188.01 L417.81,187.22 L418.6,186.42 L419.39,185.51 L420.18,184.69 L420.97,183.87 L421.76,182.95 L422.56,181.86 L423.35,180.38 L424.14,178.26 L424.93,176.03 L425.72,173.82 L426.51,171.9 L427.3,172.26 L428.09,174.53 L428.88,176.7 L429.67,176.98 L430.46,176.15 L431.25,175.04 L432.05,174.26 L432.84,174.03 L433.63,173.88 L434.42,173.8 L435.21,174 L436,174.73 L436.79,175.79 L437.58,177.09 L438.37,179.18 L439.16,181.85 L439.95,184.73 L440.74,187.78 L441.53,191.28 L442.33,195.35 L443.12,200.52 L443.91,205.98 L444.7,210.73 L445.49,215.41 L446.28,219.57 L447.07,222.52 L447.86,224.45 L448.65,226.1 L449.44,227.49 L450.23,228.6 L451.02,229.41 L451.81,229.97 L452.61,230.46 L453.4,230.89 L454.19,231.28 L454.98,231.62 L455.77,231.91 L456.56,232.15 L457.35,232.33 L458.14,232.46 L458.93,232.54 L459.72,232.61 L460.51,232.67 L461.3,232.74 L462.09,232.8 L462.89,232.85 L463.68,232.91 L464.47,232.95 L465.26,233 L466.05,233.04 L466.84,233.08 L467.63,233.12 L468.42,233.15 L469.21,233.18 L470,233.21 L470.79,233.23 L471.58,233.25 L472.37,233.27 L473.17,233.28 L473.96,233.29 L474.75,233.3 L475.54,233.3 L476.33,233.3 L477.12,233.3 L477.91,233.3 L478.7,233.29 L479.49,233.29 L480.28,233.28 L481.07,233.28 L481.86,233.27 L482.65,233.26 L483.45,233.26 L484.24,233.25 L485.03,233.24 L485.82,233.23 L486.61,233.22 L487.4,233.21 L488.19,233.2 L488.98,233.19 L489.77,233.18 L490.56,233.17 L491.35,233.16 L492.14,233.15 L492.93,233.15 L493.73,233.14 L494.52,233.13 L495.31,233.12 L496.1,233.12 L496.89,233.11 L497.68,233.11 L498.47,233.1 L499.26,233.1 L500.05,233.1 L500.84,233.15 L501.63,233.57 L502.42,234.14 L503.21,234.55 L504.01,234.62 L504.8,234.65 L505.59,234.68 L506.38,234.71 L507.17,234.73 L507.96,234.75 L508.75,234.77 L509.54,234.78 L510.33,234.79 L511.12,234.81 L511.91,234.82 L512.7,234.83 L513.49,234.84 L514.29,234.84 L515.08,234.85 L515.87,234.86 L516.66,234.86 L517.45,234.87 L518.24,234.88 L519.03,234.89 L519.82,234.9 L520.61,234.91 L521.4,234.92 L522.19,234.93 L522.98,234.94 L523.78,234.95 L524.57,234.96 L525.36,234.97 L526.15,234.98 L526.94,234.99 L527.73,234.99 L528.52,235 L529.31,235.01 L530.1,235.02 L530.89,235.03 L531.68,235.04 L532.47,235.04 L533.26,235.05 L534.06,235.06 L534.85,235.06 L535.64,235.07 L536.43,235.08 L537.22,235.08 L538.01,235.09 L538.8,235.09 L539.59,235.1 L540.38,235.1 L541.17,235.11 L541.96,235.12 L542.75,235.13 L543.54,235.14 L544.34,235.14 L545.13,235.15 L545.92,235.16 L546.71,235.17 L547.5,235.17 L548.29,235.18 L549.08,235.19 L549.87,235.2 L550.66,235.21 L551.45,235.21 L552.24,235.22 L553.03,235.23 L553.82,235.24 L554.62,235.25 L555.41,235.25 L556.2,235.26 L556.99,235.27 L557.78,235.28 L558.57,235.29 L559.36,235.29 L560.15,235.3 L560.94,235.28 L561.73,235.23 L562.52,235.15 L563.31,235.04 L564.1,234.91 L564.9,234.76 L565.69,234.6 L566.48,234.42 L567.27,234.22 L568.06,234.02 L568.85,233.79 L569.64,233.47 L570.43,233.05 L571.22,232.56 L572.01,232.01 L572.8,231.43 L573.59,230.84 L574.38,230.26 L575.18,229.59 L575.97,228.83 L576.76,228.02 L577.55,227.22 L578.34,226.48 L579.13,225.85 L579.92,225.39 L580.71,225.08 L581.5,224.85 L582.29,224.66 L583.08,224.44 L583.87,224.15 L584.66,223.74 L585.46,223.17 L586.25,222.44 L587.04,221.56 L587.83,220.53 L588.62,219.35 L589.41,217.75 L590.2,215.69 L590.99,213.24 L591.78,210.46 L592.57,207.41 L593.36,203.27 L594.15,197.6 L594.94,192.37 L595.74,189.54 L596.53,188.48 L597.32,187.78 L598.11,186.83 L598.9,184.71 L599.69,180.56 L600.48,175.72 L601.27,169.27 L602.06,162.4 L602.85,160.06 L603.64,161.94 L604.43,165.39 L605.22,168.92 L606.02,171.75 L606.81,174.68 L607.6,176.27 L608.39,175.61 L609.18,174.38 L609.97,174.53 L610.76,176.27 L611.55,178.77 L612.34,181.55 L613.13,185.47 L613.92,190.05 L614.71,194.6 L615.51,198.42 L616.3,201.75 L617.09,205.07 L617.88,208.11 L618.67,210.6 L619.46,212.29 L620.25,213.15 L621.04,213.82 L621.83,214.37 L622.62,214.82 L623.41,215.21 L624.2,215.56 L624.99,215.91 L625.79,216.27 L626.58,216.59 L627.37,216.88 L628.16,217.14 L628.95,217.41 L629.74,217.69 L630.53,218.02 L631.32,218.42 L632.11,218.89 L632.9,219.43 L633.69,220.03 L634.48,220.68 L635.27,221.36 L636.07,222.07 L636.86,222.78 L637.65,223.5 L638.44,224.22 L639.23,224.99 L640.02,225.83 L640.81,226.71 L641.6,227.59 L642.39,228.46 L643.18,229.29 L643.97,230.05 L644.76,230.72 L645.55,231.26 L646.35,231.76 L647.14,232.22 L647.93,232.65 L648.72,233.05 L649.51,233.42 L650.3,233.77 L651.09,234.09 L651.88,234.38 L652.67,234.66 L653.46,234.92 L654.25,235.16 L655.04,235.39 L655.83,235.6 L656.63,235.79 L657.42,235.96 L658.21,236.1 L659,236.11 L659.39,236.11 L661.37,236.13" stroke="#a867de"/>
<path d="M372.74,234.34 L374.71,234.64 L376.69,234.9 L377.48,234.96 L378.27,235.02 L379.06,235.07 L379.85,235.11 L380.64,235.15 L381.44,235.18 L382.23,235.21 L383.02,235.24 L383.81,235.27 L384.6,235.3 L385.39,235.27 L386.18,235.21 L386.97,235.11 L387.76,234.99 L388.55,234.84 L389.34,234.67 L390.13,234.49 L390.92,234.21 L391.72,233.76 L392.51,233.21 L393.3,232.59 L394.09,231.99 L394.88,231.39 L395.67,230.65 L396.46,230.19 L397.25,230.21 L398.04,230.33 L398.83,230.44 L399.62,230.48 L400.41,230.41 L401.2,230.26 L402,230.05 L402.79,229.79 L403.58,229.51 L404.37,229.23 L405.16,228.94 L405.95,228.61 L406.74,228.24 L407.53,227.83 L408.32,227.36 L409.11,226.85 L409.9,226.29 L410.69,225.65 L411.48,224.88 L412.28,223.95 L413.07,222.86 L413.86,221.53 L414.65,219.2 L415.44,216.87 L416.23,215.93 L417.02,215.47 L417.81,215.13 L418.6,214.78 L419.39,214.38 L420.18,214.03 L420.97,213.67 L421.76,213.27 L422.56,212.8 L423.35,212.16 L424.14,211.23 L424.93,210.27 L425.72,209.31 L426.51,208.48 L427.3,208.63 L428.09,209.62 L428.88,210.56 L429.67,210.68 L430.46,210.32 L431.25,209.84 L432.05,209.5 L432.84,209.4 L433.63,209.33 L434.42,209.3 L435.21,209.39 L436,209.7 L436.79,210.16 L437.58,210.73 L438.37,211.63 L439.16,212.79 L439.95,214.04 L440.74,215.37 L441.53,216.89 L442.33,218.65 L443.12,220.9 L443.91,223.26 L444.7,225.33 L445.49,227.36 L446.28,229.16 L447.07,230.44 L447.86,231.28 L448.65,232 L449.44,232.6 L450.23,233.08 L451.02,233.44 L451.81,233.68 L452.61,233.89 L453.4,234.08 L454.19,234.25 L454.98,234.4 L455.77,234.52 L456.56,234.62 L457.35,234.7 L458.14,234.76 L458.93,234.79 L459.72,234.82 L460.51,234.85 L461.3,234.88 L462.09,234.9 L462.89,234.93 L463.68,234.95 L464.47,234.97 L465.26,234.99 L466.05,235.01 L466.84,235.03 L467.63,235.04 L468.42,235.06 L469.21,235.07 L470,235.08 L470.79,235.09 L471.58,235.1 L472.37,235.11 L473.17,235.11 L473.96,235.12 L474.75,235.12 L475.54,235.12 L476.33,235.12 L477.12,235.12 L477.91,235.12 L478.7,235.12 L479.49,235.12 L480.28,235.12 L481.07,235.11 L481.86,235.11 L482.65,235.11 L483.45,235.1 L484.24,235.1 L485.03,235.1 L485.82,235.09 L486.61,235.09 L487.4,235.08 L488.19,235.08 L488.98,235.08 L489.77,235.07 L490.56,235.07 L491.35,235.06 L492.14,235.06 L492.93,235.06 L493.73,235.05 L494.52,235.05 L495.31,235.05 L496.1,235.04 L496.89,235.04 L497.68,235.04 L498.47,235.04 L499.26,235.04 L500.05,235.04 L500.84,235.06 L501.63,235.24 L502.42,235.49 L503.21,235.67 L504.01,235.7 L504.8,235.71 L505.59,235.72 L506.38,235.73 L507.17,235.74 L507.96,235.75 L508.75,235.76 L509.54,235.77 L510.33,235.77 L511.12,235.78 L511.91,235.78 L512.7,235.79 L513.49,235.79 L514.29,235.79 L515.08,235.8 L515.87,235.8 L516.66,235.8 L517.45,235.81 L518.24,235.81 L519.03,235.81 L519.82,235.82 L520.61,235.82 L521.4,235.83 L522.19,235.83 L522.98,235.83 L523.78,235.84 L524.57,235.84 L525.36,235.85 L526.15,235.85 L526.94,235.85 L527.73,235.86 L528.52,235.86 L529.31,235.87 L530.1,235.87 L530.89,235.87 L531.68,235.88 L532.47,235.88 L533.26,235.88 L534.06,235.89 L534.85,235.89 L535.64,235.89 L536.43,235.89 L537.22,235.9 L538.01,235.9 L538.8,235.9 L539.59,235.9 L540.38,235.91 L541.17,235.91 L541.96,235.91 L542.75,235.92 L543.54,235.92 L544.34,235.92 L545.13,235.93 L545.92,235.93 L546.71,235.93 L547.5,235.94 L548.29,235.94 L549.08,235.94 L549.87,235.95 L550.66,235.95 L551.45,235.95 L552.24,235.96 L553.03,235.96 L553.82,235.96 L554.62,235.97 L555.41,235.97 L556.2,235.97 L556.99,235.98 L557.78,235.98 L558.57,235.98 L559.36,235.99 L560.15,235.99 L560.94,235.98 L561.73,235.96 L562.52,235.92 L563.31,235.88 L564.1,235.82 L564.9,235.76 L565.69,235.69 L566.48,235.61 L567.27,235.52 L568.06,235.43 L568.85,235.34 L569.64,235.2 L570.43,235.02 L571.22,234.8 L572.01,234.56 L572.8,234.31 L573.59,234.06 L574.38,233.8 L575.18,233.51 L575.97,233.18 L576.76,232.83 L577.55,232.48 L578.34,232.16 L579.13,231.89 L579.92,231.69 L580.71,231.56 L581.5,231.46 L582.29,231.37 L583.08,231.28 L583.87,231.15 L584.66,230.97 L585.46,230.73 L586.25,230.41 L587.04,230.03 L587.83,229.58 L588.62,229.07 L589.41,228.37 L590.2,227.48 L590.99,226.42 L591.78,225.21 L592.57,223.89 L593.36,222.09 L594.15,219.63 L594.94,217.36 L595.74,216.13 L596.53,215.67 L597.32,215.37 L598.11,214.96 L598.9,214.04 L599.69,212.24 L600.48,210.13 L601.27,207.33 L602.06,204.35 L602.85,203.34 L603.64,204.15 L604.43,205.65 L605.22,207.18 L606.02,208.41 L606.81,209.68 L607.6,210.37 L608.39,210.09 L609.18,209.55 L609.97,209.62 L610.76,210.37 L611.55,211.46 L612.34,212.66 L613.13,214.37 L613.92,216.35 L614.71,218.33 L615.51,219.99 L616.3,221.43 L617.09,222.87 L617.88,224.19 L618.67,225.27 L619.46,226 L620.25,226.38 L621.04,226.67 L621.83,226.91 L622.62,227.1 L623.41,227.27 L624.2,227.42 L624.99,227.58 L625.79,227.73 L626.58,227.87 L627.37,227.99 L628.16,228.11 L628.95,228.23 L629.74,228.35 L630.53,228.49 L631.32,228.66 L632.11,228.87 L632.9,229.1 L633.69,229.36 L634.48,229.64 L635.27,229.94 L636.07,230.25 L636.86,230.56 L637.65,230.87 L638.44,231.18 L639.23,231.52 L640.02,231.88 L640.81,232.26 L641.6,232.65 L642.39,233.02 L643.18,233.38 L643.97,233.71 L644.76,234 L645.55,234.24 L646.35,234.45 L647.14,234.65 L647.93,234.84 L648.72,235.01 L649.51,235.17 L650.3,235.33 L651.09,235.46 L651.88,235.59 L652.67,235.71 L653.46,235.82 L654.25,235.93 L655.04,236.03 L655.83,236.12 L656.63,236.2 L657.42,236.28 L658.21,236.34 L659,236.34 L659.39,236.34 L661.37,236.35" stroke="#c8900a"/>
<path d="M372.74,234.87 L374.71,235.1 L376.69,235.31 L377.48,235.37 L378.27,235.42 L379.06,235.47 L379.85,235.51 L380.64,235.56 L381.44,235.59 L382.23,235.63 L383.02,235.67 L383.81,235.7 L384.6,235.73 L385.39,235.72 L386.18,235.68 L386.97,235.62 L387.76,235.54 L388.55,235.44 L389.34,235.33 L390.13,235.21 L390.92,235.03 L391.72,234.75 L392.51,234.39 L393.3,234 L394.09,233.61 L394.88,233.22 L395.67,232.75 L396.46,232.45 L397.25,232.47 L398.04,232.54 L398.83,232.61 L399.62,232.64 L400.41,232.59 L401.2,232.5 L402,232.36 L402.79,232.19 L403.58,232.01 L404.37,231.83 L405.16,231.65 L405.95,231.44 L406.74,231.2 L407.53,230.93 L408.32,230.63 L409.11,230.31 L409.9,229.94 L410.69,229.53 L411.48,229.04 L412.28,228.44 L413.07,227.74 L413.86,226.89 L414.65,225.39 L415.44,223.89 L416.23,223.29 L417.02,222.99 L417.81,222.77 L418.6,222.54 L419.39,222.29 L420.18,222.06 L420.97,221.83 L421.76,221.57 L422.56,221.27 L423.35,220.86 L424.14,220.26 L424.93,219.64 L425.72,219.03 L426.51,218.49 L427.3,218.59 L428.09,219.23 L428.88,219.83 L429.67,219.91 L430.46,219.68 L431.25,219.37 L432.05,219.15 L432.84,219.09 L433.63,219.04 L434.42,219.02 L435.21,219.08 L436,219.28 L436.79,219.58 L437.58,219.94 L438.37,220.52 L439.16,221.27 L439.95,222.07 L440.74,222.92 L441.53,223.9 L442.33,225.03 L443.12,226.48 L443.91,228 L444.7,229.32 L445.49,230.63 L446.28,231.79 L447.07,232.61 L447.86,233.15 L448.65,233.61 L449.44,234 L450.23,234.31 L451.02,234.54 L451.81,234.69 L452.61,234.83 L453.4,234.95 L454.19,235.06 L454.98,235.15 L455.77,235.24 L456.56,235.3 L457.35,235.35 L458.14,235.39 L458.93,235.41 L459.72,235.43 L460.51,235.45 L461.3,235.47 L462.09,235.48 L462.89,235.5 L463.68,235.51 L464.47,235.53 L465.26,235.54 L466.05,235.55 L466.84,235.56 L467.63,235.57 L468.42,235.58 L469.21,235.59 L470,235.6 L470.79,235.6 L471.58,235.61 L472.37,235.61 L473.17,235.62 L473.96,235.62 L474.75,235.62 L475.54,235.62 L476.33,235.62 L477.12,235.62 L477.91,235.62 L478.7,235.62 L479.49,235.62 L480.28,235.62 L481.07,235.62 L481.86,235.61 L482.65,235.61 L483.45,235.61 L484.24,235.61 L485.03,235.6 L485.82,235.6 L486.61,235.6 L487.4,235.6 L488.19,235.59 L488.98,235.59 L489.77,235.59 L490.56,235.59 L491.35,235.58 L492.14,235.58 L492.93,235.58 L493.73,235.58 L494.52,235.57 L495.31,235.57 L496.1,235.57 L496.89,235.57 L497.68,235.57 L498.47,235.57 L499.26,235.57 L500.05,235.57 L500.84,235.58 L501.63,235.7 L502.42,235.86 L503.21,235.97 L504.01,235.99 L504.8,236 L505.59,236.01 L506.38,236.01 L507.17,236.02 L507.96,236.03 L508.75,236.03 L509.54,236.04 L510.33,236.04 L511.12,236.04 L511.91,236.05 L512.7,236.05 L513.49,236.05 L514.29,236.05 L515.08,236.05 L515.87,236.06 L516.66,236.06 L517.45,236.06 L518.24,236.06 L519.03,236.07 L519.82,236.07 L520.61,236.07 L521.4,236.07 L522.19,236.08 L522.98,236.08 L523.78,236.08 L524.57,236.08 L525.36,236.09 L526.15,236.09 L526.94,236.09 L527.73,236.09 L528.52,236.1 L529.31,236.1 L530.1,236.1 L530.89,236.1 L531.68,236.11 L532.47,236.11 L533.26,236.11 L534.06,236.11 L534.85,236.11 L535.64,236.12 L536.43,236.12 L537.22,236.12 L538.01,236.12 L538.8,236.12 L539.59,236.12 L540.38,236.13 L541.17,236.13 L541.96,236.13 L542.75,236.13 L543.54,236.13 L544.34,236.14 L545.13,236.14 L545.92,236.14 L546.71,236.14 L547.5,236.15 L548.29,236.15 L549.08,236.15 L549.87,236.15 L550.66,236.15 L551.45,236.16 L552.24,236.16 L553.03,236.16 L553.82,236.16 L554.62,236.17 L555.41,236.17 L556.2,236.17 L556.99,236.17 L557.78,236.17 L558.57,236.18 L559.36,236.18 L560.15,236.18 L560.94,236.17 L561.73,236.16 L562.52,236.14 L563.31,236.11 L564.1,236.07 L564.9,236.03 L565.69,235.98 L566.48,235.93 L567.27,235.88 L568.06,235.82 L568.85,235.76 L569.64,235.67 L570.43,235.55 L571.22,235.42 L572.01,235.26 L572.8,235.1 L573.59,234.94 L574.38,234.77 L575.18,234.59 L575.97,234.37 L576.76,234.15 L577.55,233.92 L578.34,233.72 L579.13,233.54 L579.92,233.42 L580.71,233.33 L581.5,233.27 L582.29,233.21 L583.08,233.15 L583.87,233.07 L584.66,232.96 L585.46,232.8 L586.25,232.59 L587.04,232.35 L587.83,232.06 L588.62,231.73 L589.41,231.28 L590.2,230.71 L590.99,230.03 L591.78,229.25 L592.57,228.4 L593.36,227.24 L594.15,225.66 L594.94,224.2 L595.74,223.41 L596.53,223.12 L597.32,222.92 L598.11,222.66 L598.9,222.07 L599.69,220.91 L600.48,219.56 L601.27,217.76 L602.06,215.84 L602.85,215.19 L603.64,215.71 L604.43,216.67 L605.22,217.66 L606.02,218.45 L606.81,219.27 L607.6,219.71 L608.39,219.53 L609.18,219.18 L609.97,219.23 L610.76,219.71 L611.55,220.41 L612.34,221.18 L613.13,222.28 L613.92,223.56 L614.71,224.82 L615.51,225.89 L616.3,226.82 L617.09,227.74 L617.88,228.59 L618.67,229.29 L619.46,229.76 L620.25,230 L621.04,230.19 L621.83,230.34 L622.62,230.47 L623.41,230.57 L624.2,230.67 L624.99,230.77 L625.79,230.87 L626.58,230.96 L627.37,231.04 L628.16,231.11 L628.95,231.19 L629.74,231.27 L630.53,231.36 L631.32,231.47 L632.11,231.6 L632.9,231.75 L633.69,231.92 L634.48,232.1 L635.27,232.29 L636.07,232.49 L636.86,232.69 L637.65,232.89 L638.44,233.09 L639.23,233.3 L640.02,233.54 L640.81,233.78 L641.6,234.03 L642.39,234.27 L643.18,234.5 L643.97,234.72 L644.76,234.9 L645.55,235.05 L646.35,235.19 L647.14,235.32 L647.93,235.44 L648.72,235.55 L649.51,235.66 L650.3,235.75 L651.09,235.84 L651.88,235.92 L652.67,236 L653.46,236.07 L654.25,236.14 L655.04,236.21 L655.83,236.26 L656.63,236.32 L657.42,236.36 L658.21,236.4 L659,236.41 L659.39,236.41 L661.37,236.41" stroke="#10cccc"/>
<path d="M372.74,235.22 L374.71,235.41 L376.69,235.59 L377.48,235.64 L378.27,235.69 L379.06,235.74 L379.85,235.78 L380.64,235.83 L381.44,235.87 L382.23,235.91 L383.02,235.95 L383.81,235.99 L384.6,236.02 L385.39,236.01 L386.18,235.99 L386.97,235.95 L387.76,235.9 L388.55,235.84 L389.34,235.77 L390.13,235.7 L390.92,235.58 L391.72,235.4 L392.51,235.18 L393.3,234.93 L394.09,234.68 L394.88,234.44 L395.67,234.14 L396.46,233.95 L397.25,233.96 L398.04,234.01 L398.83,234.05 L399.62,234.07 L400.41,234.04 L401.2,233.98 L402,233.9 L402.79,233.79 L403.58,233.68 L404.37,233.56 L405.16,233.45 L405.95,233.31 L406.74,233.16 L407.53,233 L408.32,232.81 L409.11,232.6 L409.9,232.37 L410.69,232.11 L411.48,231.8 L412.28,231.42 L413.07,230.98 L413.86,230.44 L414.65,229.5 L415.44,228.55 L416.23,228.17 L417.02,227.98 L417.81,227.84 L418.6,227.7 L419.39,227.54 L420.18,227.4 L420.97,227.25 L421.76,227.09 L422.56,226.9 L423.35,226.64 L424.14,226.27 L424.93,225.87 L425.72,225.49 L426.51,225.15 L427.3,225.21 L428.09,225.61 L428.88,225.99 L429.67,226.04 L430.46,225.9 L431.25,225.7 L432.05,225.56 L432.84,225.52 L433.63,225.5 L434.42,225.48 L435.21,225.52 L436,225.65 L436.79,225.83 L437.58,226.06 L438.37,226.43 L439.16,226.9 L439.95,227.41 L440.74,227.94 L441.53,228.56 L442.33,229.27 L443.12,230.19 L443.91,231.14 L444.7,231.98 L445.49,232.8 L446.28,233.54 L447.07,234.06 L447.86,234.4 L448.65,234.69 L449.44,234.93 L450.23,235.13 L451.02,235.27 L451.81,235.37 L452.61,235.45 L453.4,235.53 L454.19,235.6 L454.98,235.66 L455.77,235.71 L456.56,235.75 L457.35,235.78 L458.14,235.81 L458.93,235.82 L459.72,235.83 L460.51,235.84 L461.3,235.85 L462.09,235.87 L462.89,235.88 L463.68,235.88 L464.47,235.89 L465.26,235.9 L466.05,235.91 L466.84,235.92 L467.63,235.92 L468.42,235.93 L469.21,235.93 L470,235.94 L470.79,235.94 L471.58,235.94 L472.37,235.95 L473.17,235.95 L473.96,235.95 L474.75,235.95 L475.54,235.95 L476.33,235.95 L477.12,235.95 L477.91,235.95 L478.7,235.95 L479.49,235.95 L480.28,235.95 L481.07,235.95 L481.86,235.95 L482.65,235.95 L483.45,235.95 L484.24,235.94 L485.03,235.94 L485.82,235.94 L486.61,235.94 L487.4,235.94 L488.19,235.94 L488.98,235.93 L489.77,235.93 L490.56,235.93 L491.35,235.93 L492.14,235.93 L492.93,235.93 L493.73,235.93 L494.52,235.92 L495.31,235.92 L496.1,235.92 L496.89,235.92 L497.68,235.92 L498.47,235.92 L499.26,235.92 L500.05,235.92 L500.84,235.93 L501.63,236 L502.42,236.1 L503.21,236.17 L504.01,236.19 L504.8,236.19 L505.59,236.2 L506.38,236.2 L507.17,236.21 L507.96,236.21 L508.75,236.21 L509.54,236.21 L510.33,236.22 L511.12,236.22 L511.91,236.22 L512.7,236.22 L513.49,236.22 L514.29,236.23 L515.08,236.23 L515.87,236.23 L516.66,236.23 L517.45,236.23 L518.24,236.23 L519.03,236.23 L519.82,236.24 L520.61,236.24 L521.4,236.24 L522.19,236.24 L522.98,236.24 L523.78,236.24 L524.57,236.25 L525.36,236.25 L526.15,236.25 L526.94,236.25 L527.73,236.25 L528.52,236.25 L529.31,236.26 L530.1,236.26 L530.89,236.26 L531.68,236.26 L532.47,236.26 L533.26,236.26 L534.06,236.26 L534.85,236.26 L535.64,236.27 L536.43,236.27 L537.22,236.27 L538.01,236.27 L538.8,236.27 L539.59,236.27 L540.38,236.27 L541.17,236.27 L541.96,236.27 L542.75,236.28 L543.54,236.28 L544.34,236.28 L545.13,236.28 L545.92,236.28 L546.71,236.28 L547.5,236.28 L548.29,236.29 L549.08,236.29 L549.87,236.29 L550.66,236.29 L551.45,236.29 L552.24,236.29 L553.03,236.29 L553.82,236.29 L554.62,236.3 L555.41,236.3 L556.2,236.3 L556.99,236.3 L557.78,236.3 L558.57,236.3 L559.36,236.3 L560.15,236.31 L560.94,236.3 L561.73,236.29 L562.52,236.28 L563.31,236.26 L564.1,236.24 L564.9,236.21 L565.69,236.18 L566.48,236.15 L567.27,236.12 L568.06,236.08 L568.85,236.04 L569.64,235.98 L570.43,235.91 L571.22,235.82 L572.01,235.73 L572.8,235.63 L573.59,235.52 L574.38,235.42 L575.18,235.3 L575.97,235.17 L576.76,235.02 L577.55,234.88 L578.34,234.75 L579.13,234.64 L579.92,234.56 L580.71,234.51 L581.5,234.47 L582.29,234.43 L583.08,234.39 L583.87,234.34 L584.66,234.27 L585.46,234.17 L586.25,234.04 L587.04,233.89 L587.83,233.71 L588.62,233.5 L589.41,233.22 L590.2,232.86 L590.99,232.42 L591.78,231.93 L592.57,231.4 L593.36,230.67 L594.15,229.67 L594.94,228.75 L595.74,228.25 L596.53,228.06 L597.32,227.94 L598.11,227.78 L598.9,227.4 L599.69,226.67 L600.48,225.82 L601.27,224.68 L602.06,223.48 L602.85,223.06 L603.64,223.4 L604.43,224 L605.22,224.62 L606.02,225.12 L606.81,225.64 L607.6,225.92 L608.39,225.8 L609.18,225.58 L609.97,225.61 L610.76,225.92 L611.55,226.36 L612.34,226.85 L613.13,227.54 L613.92,228.34 L614.71,229.14 L615.51,229.82 L616.3,230.4 L617.09,230.98 L617.88,231.52 L618.67,231.96 L619.46,232.26 L620.25,232.41 L621.04,232.53 L621.83,232.62 L622.62,232.7 L623.41,232.77 L624.2,232.83 L624.99,232.89 L625.79,232.96 L626.58,233.01 L627.37,233.06 L628.16,233.11 L628.95,233.16 L629.74,233.21 L630.53,233.27 L631.32,233.33 L632.11,233.42 L632.9,233.51 L633.69,233.62 L634.48,233.73 L635.27,233.85 L636.07,233.98 L636.86,234.1 L637.65,234.23 L638.44,234.36 L639.23,234.49 L640.02,234.64 L640.81,234.79 L641.6,234.95 L642.39,235.1 L643.18,235.25 L643.97,235.38 L644.76,235.5 L645.55,235.6 L646.35,235.68 L647.14,235.76 L647.93,235.84 L648.72,235.91 L649.51,235.97 L650.3,236.04 L651.09,236.09 L651.88,236.14 L652.67,236.19 L653.46,236.24 L654.25,236.28 L655.04,236.32 L655.83,236.36 L656.63,236.39 L657.42,236.42 L658.21,236.45 L659,236.45 L659.39,236.45 L661.37,236.45" stroke="#7a4040"/>
</g>
<rect x="375.9" y="122.2" width="282.9" height="120.2" fill="none" stroke="#000" stroke-width="1.4"/>
<path d="M404.37 242.4V239.2M503.21 242.4V239.2M602.06 242.4V239.2" stroke="#000" stroke-width="1.4" fill="none"/>
<path d="M453.79 242.4V240.6M552.64 242.4V240.6M651.49 242.4V240.6" stroke="#000" stroke-width="1.4" fill="none"/>
<path d="M404.37 122.2V125.4M503.21 122.2V125.4M602.06 122.2V125.4" stroke="#000" stroke-width="1.4" fill="none"/>
<path d="M453.79 122.2V124M552.64 122.2V124M651.49 122.2V124" stroke="#000" stroke-width="1.4" fill="none"/>
<path d="M375.9 236.52H379.1M375.9 214.75H379.1M375.9 192.97H379.1M375.9 171.19H379.1M375.9 149.42H379.1M375.9 127.64H379.1" stroke="#000" stroke-width="1.4" fill="none"/>
<path d="M375.9 225.63H377.7M375.9 203.86H377.7M375.9 182.08H377.7M375.9 160.31H377.7M375.9 138.53H377.7" stroke="#000" stroke-width="1.4" fill="none"/>
<path d="M658.8 236.52H655.6M658.8 214.75H655.6M658.8 192.97H655.6M658.8 171.19H655.6M658.8 149.42H655.6M658.8 127.64H655.6" stroke="#000" stroke-width="1.4" fill="none"/>
<path d="M658.8 225.63H657M658.8 203.86H657M658.8 182.08H657M658.8 160.31H657M658.8 138.53H657" stroke="#000" stroke-width="1.4" fill="none"/>
<text x="404.37" y="260.1" font-size="19" text-anchor="middle" >650</text>
<text x="503.21" y="260.1" font-size="19" text-anchor="middle" >700</text>
<text x="602.06" y="260.1" font-size="19" text-anchor="middle" >750</text>
<text x="399.6" y="160.3" font-size="25.3"><tspan font-size="16.6" dy="-9.8">6</tspan><tspan dy="9.8" dx="0.6">H</tspan><tspan font-size="16.6" dy="6.9" dx="1.2">11/2</tspan></text>
<text x="514" y="156.7" font-size="25.3"><tspan font-size="16.6" dy="-9.8">6</tspan><tspan dy="9.8" dx="0.6">H</tspan><tspan font-size="16.6" dy="6.9" dx="1.2">13/2</tspan><tspan dy="-6.9" dx="0.5">+</tspan><tspan font-size="16.6" dy="-9.8" dx="0.5">6</tspan><tspan dy="9.8" dx="0.6">F</tspan><tspan font-size="16.6" dy="6.9" dx="1.2">11/2</tspan></text>
<path d="M435 308.8V275" stroke="#000" stroke-width="1.9"/>
<path d="M435 263.6L428.7 276.1H441.3Z" fill="#000"/>
<path d="M595.7 308.8V275" stroke="#000" stroke-width="1.9"/>
<path d="M595.7 263.6L589.4 276.1H602Z" fill="#000"/>
<path d="M168.63 701.64L177.59 690.45M191.96 669.35L229.15 604.46M242.12 582.4L278.82 521.56M293.22 500.44L327.56 455.67M339.12 457.75L381.51 595.58M396.76 613.47L473.63 651.26M497.72 659.14L622.28 681.2" stroke="#000" stroke-width="2.2" fill="none"/>
<circle cx="160.63" cy="711.63" r="9.8" fill="url(#ball)"/>
<circle cx="185.59" cy="680.46" r="9.8" fill="url(#ball)"/>
<circle cx="235.51" cy="593.36" r="9.8" fill="url(#ball)"/>
<circle cx="285.43" cy="510.6" r="9.8" fill="url(#ball)"/>
<circle cx="335.35" cy="445.51" r="9.8" fill="url(#ball)"/>
<circle cx="385.27" cy="607.82" r="9.8" fill="url(#ball)"/>
<circle cx="485.12" cy="656.91" r="9.8" fill="url(#ball)"/>
<circle cx="634.88" cy="683.43" r="9.8" fill="url(#ball)"/>
<rect x="85.75" y="419.8" width="599.05" height="321.4" fill="none" stroke="#000" stroke-width="2.6"/>
<path d="M135.67 741.2V749.2M235.51 741.2V749.2M335.35 741.2V749.2M435.2 741.2V749.2M535.04 741.2V749.2M634.88 741.2V749.2" stroke="#000" stroke-width="2.6" fill="none"/>
<path d="M85.75 741.2V745.4M185.59 741.2V745.4M285.43 741.2V745.4M385.27 741.2V745.4M485.12 741.2V745.4M584.96 741.2V745.4M684.8 741.2V745.4" stroke="#000" stroke-width="2.6" fill="none"/>
<path d="M135.67 419.8V427.8M235.51 419.8V427.8M335.35 419.8V427.8M435.2 419.8V427.8M535.04 419.8V427.8M634.88 419.8V427.8" stroke="#000" stroke-width="2.6" fill="none"/>
<path d="M85.75 419.8V424M185.59 419.8V424M285.43 419.8V424M385.27 419.8V424M485.12 419.8V424M584.96 419.8V424M684.8 419.8V424" stroke="#000" stroke-width="2.6" fill="none"/>
<path d="M85.75 741.2H93.75M85.75 660.85H93.75M85.75 580.5H93.75M85.75 500.15H93.75M85.75 419.8H93.75" stroke="#000" stroke-width="2.6" fill="none"/>
<path d="M85.75 701.03H89.95M85.75 620.68H89.95M85.75 540.33H89.95M85.75 459.98H89.95" stroke="#000" stroke-width="2.6" fill="none"/>
<path d="M684.8 741.2H676.8M684.8 660.85H676.8M684.8 580.5H676.8M684.8 500.15H676.8M684.8 419.8H676.8" stroke="#000" stroke-width="2.6" fill="none"/>
<path d="M684.8 701.03H680.6M684.8 620.68H680.6M684.8 540.33H680.6M684.8 459.98H680.6" stroke="#000" stroke-width="2.6" fill="none"/>
<text x="76.8" y="748.8" font-size="25" text-anchor="end" >0</text>
<text x="76.8" y="668.45" font-size="25" text-anchor="end" >1</text>
<text x="76.8" y="588.1" font-size="25" text-anchor="end" >2</text>
<text x="76.8" y="507.75" font-size="25" text-anchor="end" >3</text>
<text x="76.8" y="427.4" font-size="25" text-anchor="end" >4</text>
<text x="135.67" y="774.8" font-size="25" text-anchor="middle" >0</text>
<text x="235.51" y="774.8" font-size="25" text-anchor="middle" >2</text>
<text x="335.35" y="774.8" font-size="25" text-anchor="middle" >4</text>
<text x="435.2" y="774.8" font-size="25" text-anchor="middle" >6</text>
<text x="535.04" y="774.8" font-size="25" text-anchor="middle" >8</text>
<text x="634.88" y="774.8" font-size="25" text-anchor="middle" >10</text>
<text x="241.3" y="807.6" font-size="30.3">Dy<tspan font-size="20" dy="-11">3+</tspan><tspan dy="11"> concentration (x)</tspan></text>
<text transform="translate(41.5,748.6) rotate(-90)" font-size="30.2">Integral intensity (<tspan dy="2.8">×</tspan><tspan dy="-2.8">10</tspan><tspan font-size="20" dy="-12.3">-4</tspan><tspan dy="12.3">a.u)</tspan></text>
<text x="101" y="482.3" font-size="30" text-anchor="start" >(b)</text>
<path d="M148.92 880.43L625.6 1127.07" stroke="#ff0000" stroke-width="2.1"/>
<circle cx="148.87" cy="860.24" r="9.6" fill="url(#ball)"/>
<circle cx="264.97" cy="962.34" r="9.6" fill="url(#ball)"/>
<circle cx="440.03" cy="1040.8" r="9.6" fill="url(#ball)"/>
<circle cx="625.6" cy="1114.91" r="9.6" fill="url(#ball)"/>
<rect x="86.5" y="829.5" width="599" height="321.2" fill="none" stroke="#000" stroke-width="2.6"/>
<path d="M146.4 1150.7V1142.7M266.2 1150.7V1142.7M386 1150.7V1142.7M505.8 1150.7V1142.7M625.6 1150.7V1142.7" stroke="#000" stroke-width="2.6" fill="none"/>
<path d="M86.5 1150.7V1146.5M206.3 1150.7V1146.5M326.1 1150.7V1146.5M445.9 1150.7V1146.5M565.7 1150.7V1146.5M685.5 1150.7V1146.5" stroke="#000" stroke-width="2.6" fill="none"/>
<path d="M146.4 829.5V837.5M266.2 829.5V837.5M386 829.5V837.5M505.8 829.5V837.5M625.6 829.5V837.5" stroke="#000" stroke-width="2.6" fill="none"/>
<path d="M86.5 829.5V833.7M206.3 829.5V833.7M326.1 829.5V833.7M445.9 829.5V833.7M565.7 829.5V833.7M685.5 829.5V833.7" stroke="#000" stroke-width="2.6" fill="none"/>
<path d="M86.5 1127.76H94.5M86.5 1035.99H94.5M86.5 944.21H94.5M86.5 852.44H94.5" stroke="#000" stroke-width="2.6" fill="none"/>
<path d="M86.5 1081.87H90.7M86.5 990.1H90.7M86.5 898.33H90.7" stroke="#000" stroke-width="2.6" fill="none"/>
<path d="M685.5 1127.76H677.5M685.5 1035.99H677.5M685.5 944.21H677.5M685.5 852.44H677.5" stroke="#000" stroke-width="2.6" fill="none"/>
<path d="M685.5 1081.87H681.3M685.5 990.1H681.3M685.5 898.33H681.3" stroke="#000" stroke-width="2.6" fill="none"/>
<text x="79" y="1135.36" font-size="25" text-anchor="end" >-5.2</text>
<text x="79" y="1043.59" font-size="25" text-anchor="end" >-4.8</text>
<text x="79" y="951.81" font-size="25" text-anchor="end" >-4.4</text>
<text x="79" y="860.04" font-size="25" text-anchor="end" >-4.0</text>
<text x="146.4" y="1178.3" font-size="25" text-anchor="middle" >0.6</text>
<text x="266.2" y="1178.3" font-size="25" text-anchor="middle" >0.7</text>
<text x="386" y="1178.3" font-size="25" text-anchor="middle" >0.8</text>
<text x="505.8" y="1178.3" font-size="25" text-anchor="middle" >0.9</text>
<text x="625.6" y="1178.3" font-size="25" text-anchor="middle" >1.0</text>
<text x="385.8" y="1218.3" font-size="30.6" text-anchor="middle">log(<tspan font-style="italic">x</tspan>)</text>
<text transform="translate(22.8,1035.5) rotate(-90)" font-size="30">log(I/<tspan font-style="italic">x</tspan>)</text>
<text x="109.5" y="941.8" font-size="30.5" text-anchor="start" >(c)</text>
<text x="661.4" y="869.9" font-size="25.6" text-anchor="end" >Slope=-2.69</text>
<text x="660.2" y="918.3" font-size="25.6" text-anchor="end">R<tspan font-size="17" dy="-9.7">2</tspan><tspan dy="9.7">=0.96</tspan></text>
</svg></body></html>
